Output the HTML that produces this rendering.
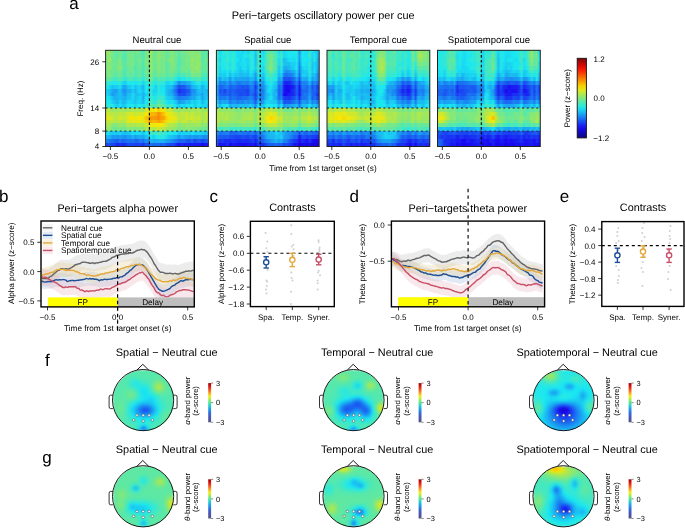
<!DOCTYPE html><html><head><meta charset="utf-8"><style>html,body{margin:0;padding:0;background:#fff;}#w{position:relative;width:685px;height:528px;overflow:hidden;background:#fff;font-family:"Liberation Sans", sans-serif}svg{position:absolute;left:0;top:0;will-change:transform}text{font-family:"Liberation Sans", sans-serif;text-rendering:geometricPrecision}</style></head><body><div id="w"><div style="position:absolute;left:105.6px;top:50.3px;width:102.8px;height:96.2px;overflow:hidden"><div style="position:absolute;left:-2px;top:-2px;width:106.8px;height:100.2px;filter:blur(0.6px)"><div style="position:absolute;left:0;top:0.00px;width:100%;height:6.15px;background:linear-gradient(90deg,#9be861 0px,#9be861 3.3px,#8fe86e 5.9px,#78e887 8.4px,#6ae896 11.0px,#61e89f 13.6px,#70e890 16.1px,#66e89b 18.7px,#4fe8b3 21.3px,#79e885 23.8px,#69e897 26.4px,#78e886 29.0px,#65e89b 31.6px,#7ae884 34.1px,#65e89b 36.7px,#46e8be 39.3px,#7be883 41.8px,#7ce882 44.4px,#a6e856 47.0px,#76e888 49.5px,#65e89b 52.1px,#8fe86e 54.7px,#7ce882 57.3px,#81e87d 59.8px,#5ee8a3 62.4px,#6fe890 65.0px,#8ce871 67.5px,#72e88d 70.1px,#72e88d 72.7px,#52e8b1 75.2px,#79e886 77.8px,#70e890 80.4px,#80e87e 83.0px,#80e87d 85.5px,#8fe86e 88.1px,#82e87c 90.7px,#7fe87f 93.2px,#82e87c 95.8px,#5de8a4 98.4px,#53e8af 100.9px,#65e89c 103.5px,#65e89c 106.8px)"></div><div style="position:absolute;left:0;top:5.85px;width:100%;height:4.15px;background:linear-gradient(90deg,#8ce872 0px,#8ce872 3.3px,#85e878 5.9px,#75e889 8.4px,#63e89e 11.0px,#56e8ac 13.6px,#7de881 16.1px,#59e8a9 18.7px,#4de8b6 21.3px,#71e88e 23.8px,#7ae884 26.4px,#7be884 29.0px,#5ae8a7 31.6px,#71e88e 34.1px,#60e8a1 36.7px,#57e8ab 39.3px,#72e88d 41.8px,#78e886 44.4px,#9be862 47.0px,#6be894 49.5px,#68e898 52.1px,#97e865 54.7px,#77e887 57.3px,#7de881 59.8px,#64e89c 62.4px,#6ae895 65.0px,#84e879 67.5px,#79e885 70.1px,#76e889 72.7px,#4de8b6 75.2px,#75e88a 77.8px,#6ae896 80.4px,#79e886 83.0px,#79e885 85.5px,#8de870 88.1px,#80e87e 90.7px,#8de870 93.2px,#90e86d 95.8px,#50e8b2 98.4px,#6ae896 100.9px,#57e8ab 103.5px,#57e8ab 106.8px)"></div><div style="position:absolute;left:0;top:9.70px;width:100%;height:4.15px;background:linear-gradient(90deg,#88e875 0px,#88e875 3.3px,#9be861 5.9px,#70e88f 8.4px,#66e89a 11.0px,#6ee892 13.6px,#84e87a 16.1px,#61e8a0 18.7px,#4be8b9 21.3px,#79e886 23.8px,#76e889 26.4px,#76e888 29.0px,#5be8a7 31.6px,#71e88e 34.1px,#72e88d 36.7px,#4fe8b4 39.3px,#7de881 41.8px,#71e88e 44.4px,#99e863 47.0px,#6de892 49.5px,#70e88f 52.1px,#8fe86e 54.7px,#71e88e 57.3px,#7ce882 59.8px,#66e89a 62.4px,#7de881 65.0px,#8de870 67.5px,#76e888 70.1px,#6fe891 72.7px,#4be8b9 75.2px,#6ee892 77.8px,#6fe890 80.4px,#7ce882 83.0px,#7ae885 85.5px,#97e866 88.1px,#86e877 90.7px,#94e869 93.2px,#86e877 95.8px,#51e8b1 98.4px,#68e898 100.9px,#75e88a 103.5px,#75e88a 106.8px)"></div><div style="position:absolute;left:0;top:13.54px;width:100%;height:4.15px;background:linear-gradient(90deg,#89e874 0px,#89e874 3.3px,#82e87b 5.9px,#72e88d 8.4px,#74e88a 11.0px,#69e896 13.6px,#8ee86f 16.1px,#5de8a4 18.7px,#58e8aa 21.3px,#75e88a 23.8px,#6fe890 26.4px,#85e879 29.0px,#54e8ae 31.6px,#65e89b 34.1px,#76e888 36.7px,#44e8c0 39.3px,#86e877 41.8px,#71e88e 44.4px,#98e865 47.0px,#6fe891 49.5px,#68e898 52.1px,#87e877 54.7px,#6de892 57.3px,#86e877 59.8px,#52e8b0 62.4px,#6be895 65.0px,#7fe87f 67.5px,#87e877 70.1px,#5fe8a2 72.7px,#51e8b2 75.2px,#6be894 77.8px,#67e899 80.4px,#7fe87f 83.0px,#74e88b 85.5px,#98e864 88.1px,#7fe87f 90.7px,#90e86c 93.2px,#95e868 95.8px,#5fe8a2 98.4px,#60e8a1 100.9px,#68e898 103.5px,#68e898 106.8px)"></div><div style="position:absolute;left:0;top:17.39px;width:100%;height:4.15px;background:linear-gradient(90deg,#7ee880 0px,#7ee880 3.3px,#97e866 5.9px,#70e88f 8.4px,#69e896 11.0px,#75e88a 13.6px,#90e86d 16.1px,#6ee891 18.7px,#4de8b7 21.3px,#6be895 23.8px,#70e890 26.4px,#6ee891 29.0px,#49e8ba 31.6px,#6fe891 34.1px,#64e89c 36.7px,#50e8b2 39.3px,#6de893 41.8px,#5be8a7 44.4px,#a0e85c 47.0px,#6ee891 49.5px,#71e88e 52.1px,#87e876 54.7px,#6fe890 57.3px,#80e87d 59.8px,#5ee8a3 62.4px,#6de892 65.0px,#74e88b 67.5px,#7ae884 70.1px,#64e89c 72.7px,#4de8b6 75.2px,#76e889 77.8px,#6fe890 80.4px,#70e890 83.0px,#7de881 85.5px,#88e876 88.1px,#8be873 90.7px,#97e865 93.2px,#8ee86f 95.8px,#59e8a9 98.4px,#6ee892 100.9px,#64e89c 103.5px,#64e89c 106.8px)"></div><div style="position:absolute;left:0;top:21.24px;width:100%;height:4.15px;background:linear-gradient(90deg,#83e87b 0px,#83e87b 3.3px,#76e889 5.9px,#64e89c 8.4px,#6de892 11.0px,#6fe891 13.6px,#7de882 16.1px,#57e8aa 18.7px,#46e8be 21.3px,#6de893 23.8px,#69e897 26.4px,#76e888 29.0px,#4ae8b9 31.6px,#6ae895 34.1px,#5ee8a3 36.7px,#41e8c3 39.3px,#7be883 41.8px,#6be895 44.4px,#97e866 47.0px,#66e89a 49.5px,#5de8a4 52.1px,#89e874 54.7px,#71e88e 57.3px,#7be883 59.8px,#5be8a6 62.4px,#6de892 65.0px,#76e889 67.5px,#72e88d 70.1px,#64e89c 72.7px,#47e8bd 75.2px,#72e88d 77.8px,#6be894 80.4px,#77e888 83.0px,#58e8aa 85.5px,#91e86c 88.1px,#82e87c 90.7px,#85e878 93.2px,#85e878 95.8px,#5ae8a8 98.4px,#63e89d 100.9px,#5ee8a3 103.5px,#5ee8a3 106.8px)"></div><div style="position:absolute;left:0;top:25.09px;width:100%;height:4.15px;background:linear-gradient(90deg,#7be884 0px,#7be884 3.3px,#7ee880 5.9px,#69e896 8.4px,#5de8a4 11.0px,#5ee8a3 13.6px,#76e889 16.1px,#54e8ae 18.7px,#44e8c0 21.3px,#72e88d 23.8px,#56e8ab 26.4px,#6de893 29.0px,#4ae8ba 31.6px,#60e8a1 34.1px,#66e89a 36.7px,#47e8bd 39.3px,#68e898 41.8px,#61e8a0 44.4px,#88e875 47.0px,#61e89f 49.5px,#63e89d 52.1px,#76e889 54.7px,#66e89a 57.3px,#74e88a 59.8px,#55e8ad 62.4px,#64e89c 65.0px,#6ae895 67.5px,#5be8a6 70.1px,#49e8ba 72.7px,#3ce8c9 75.2px,#52e8b1 77.8px,#4ae8b9 80.4px,#61e89f 83.0px,#50e8b3 85.5px,#81e87d 88.1px,#72e88d 90.7px,#77e888 93.2px,#76e888 95.8px,#52e8b1 98.4px,#4de8b7 100.9px,#4ee8b5 103.5px,#4ee8b5 106.8px)"></div><div style="position:absolute;left:0;top:28.94px;width:100%;height:4.15px;background:linear-gradient(90deg,#63e89e 0px,#63e89e 3.3px,#67e899 5.9px,#4ce8b8 8.4px,#47e8bd 11.0px,#46e8be 13.6px,#5ee8a3 16.1px,#45e8bf 18.7px,#2fe8d9 21.3px,#46e8be 23.8px,#54e8ae 26.4px,#44e8c0 29.0px,#36e8d1 31.6px,#4de8b6 34.1px,#4ee8b5 36.7px,#2be8de 39.3px,#51e8b1 41.8px,#53e8af 44.4px,#7ae884 47.0px,#50e8b3 49.5px,#32e8d6 52.1px,#64e89c 54.7px,#45e8bf 57.3px,#5de8a4 59.8px,#3ee8c8 62.4px,#45e8c0 65.0px,#47e8bd 67.5px,#3fe8c7 70.1px,#27e8e2 72.7px,#1adaf2 75.2px,#25e8e4 77.8px,#1ae7f2 80.4px,#3ce8ca 83.0px,#30e8d7 85.5px,#3de8c9 88.1px,#4ce8b7 90.7px,#4ce8b7 93.2px,#5ae8a7 95.8px,#2de8db 98.4px,#3ae8cb 100.9px,#3ee8c7 103.5px,#3ee8c7 106.8px)"></div><div style="position:absolute;left:0;top:32.78px;width:100%;height:4.15px;background:linear-gradient(90deg,#38e8ce 0px,#38e8ce 3.3px,#31e8d6 5.9px,#22e8e8 8.4px,#1de8ee 11.0px,#2ae8de 13.6px,#31e8d6 16.1px,#1ad9f2 18.7px,#1ac9f2 21.3px,#21e8e9 23.8px,#1ae6f2 26.4px,#27e8e3 29.0px,#1ae4f2 31.6px,#26e8e3 34.1px,#27e8e2 36.7px,#1ad1f2 39.3px,#2ce8dc 41.8px,#2be8dd 44.4px,#57e8ab 47.0px,#28e8e1 49.5px,#26e8e3 52.1px,#42e8c3 54.7px,#2be8de 57.3px,#34e8d3 59.8px,#1ad7f2 62.4px,#1ad8f2 65.0px,#1ce8ef 67.5px,#1acff2 70.1px,#1ab4f2 72.7px,#1a84f2 75.2px,#1aa6f2 77.8px,#1a9af2 80.4px,#1aadf2 83.0px,#1ab0f2 85.5px,#1ad0f2 88.1px,#1adaf2 90.7px,#28e8e1 93.2px,#28e8e1 95.8px,#1ad7f2 98.4px,#1ae0f2 100.9px,#1ee8ec 103.5px,#1ee8ec 106.8px)"></div><div style="position:absolute;left:0;top:36.63px;width:100%;height:4.15px;background:linear-gradient(90deg,#24e8e6 0px,#24e8e6 3.3px,#1ad8f2 5.9px,#1ac3f2 8.4px,#1accf2 11.0px,#1acbf2 13.6px,#1ae3f2 16.1px,#1aadf2 18.7px,#1aa1f2 21.3px,#1ac6f2 23.8px,#1acef2 26.4px,#1adff2 29.0px,#1abff2 31.6px,#1ad7f2 34.1px,#1acef2 36.7px,#1ab3f2 39.3px,#22e8e8 41.8px,#1ae3f2 44.4px,#37e8d0 47.0px,#1de8ee 49.5px,#1acef2 52.1px,#32e8d6 54.7px,#1addf2 57.3px,#1be8f0 59.8px,#1ac4f2 62.4px,#1abdf2 65.0px,#1ac2f2 67.5px,#1a9cf2 70.1px,#1a77f2 72.7px,#1a48f2 75.2px,#1a5af2 77.8px,#1a56f2 80.4px,#1a7af2 83.0px,#1a7ff2 85.5px,#1aaff2 88.1px,#1abbf2 90.7px,#1ac7f2 93.2px,#1adbf2 95.8px,#1aacf2 98.4px,#1ac9f2 100.9px,#1addf2 103.5px,#1addf2 106.8px)"></div><div style="position:absolute;left:0;top:40.48px;width:100%;height:4.15px;background:linear-gradient(90deg,#1ad2f2 0px,#1ad2f2 3.3px,#1ac2f2 5.9px,#1aa9f2 8.4px,#1a9af2 11.0px,#1aadf2 13.6px,#1ac6f2 16.1px,#1a9bf2 18.7px,#1a94f2 21.3px,#1ab1f2 23.8px,#1aaef2 26.4px,#1acdf2 29.0px,#1aaff2 31.6px,#1ad4f2 34.1px,#1ad6f2 36.7px,#1abbf2 39.3px,#1be8f0 41.8px,#1addf2 44.4px,#36e8d0 47.0px,#1ad4f2 49.5px,#1ad2f2 52.1px,#2ce8dc 54.7px,#1ae4f2 57.3px,#1ae6f2 59.8px,#1ac4f2 62.4px,#1ab3f2 65.0px,#1aa7f2 67.5px,#1a84f2 70.1px,#1a61f2 72.7px,#1a2af2 75.2px,#1a41f2 77.8px,#1a41f2 80.4px,#1a53f2 83.0px,#1a5df2 85.5px,#1a95f2 88.1px,#1a8df2 90.7px,#1ab5f2 93.2px,#1ac5f2 95.8px,#1ab3f2 98.4px,#1ac2f2 100.9px,#1ab4f2 103.5px,#1ab4f2 106.8px)"></div><div style="position:absolute;left:0;top:44.33px;width:100%;height:4.15px;background:linear-gradient(90deg,#1ad7f2 0px,#1ad7f2 3.3px,#1ac1f2 5.9px,#1a98f2 8.4px,#1aa7f2 11.0px,#1ab2f2 13.6px,#1ac4f2 16.1px,#1aa9f2 18.7px,#1a9af2 21.3px,#1abef2 23.8px,#1ac1f2 26.4px,#1ad8f2 29.0px,#1ac0f2 31.6px,#1abef2 34.1px,#1acbf2 36.7px,#1ab2f2 39.3px,#1acbf2 41.8px,#1ae1f2 44.4px,#40e8c5 47.0px,#1adbf2 49.5px,#1adff2 52.1px,#32e8d5 54.7px,#25e8e5 57.3px,#28e8e0 59.8px,#1ac6f2 62.4px,#1ab2f2 65.0px,#1ab4f2 67.5px,#1a8ff2 70.1px,#1a76f2 72.7px,#1a44f2 75.2px,#1a4ef2 77.8px,#1a45f2 80.4px,#1a68f2 83.0px,#1a69f2 85.5px,#1a9af2 88.1px,#1a9af2 90.7px,#1aaef2 93.2px,#1abaf2 95.8px,#1aa0f2 98.4px,#1ac4f2 100.9px,#1abaf2 103.5px,#1abaf2 106.8px)"></div><div style="position:absolute;left:0;top:48.18px;width:100%;height:4.15px;background:linear-gradient(90deg,#1ae7f2 0px,#1ae7f2 3.3px,#1ad9f2 5.9px,#1ac0f2 8.4px,#1aaef2 11.0px,#1ab7f2 13.6px,#1abef2 16.1px,#1ab7f2 18.7px,#1aadf2 21.3px,#1ac3f2 23.8px,#1ac5f2 26.4px,#1adaf2 29.0px,#1abff2 31.6px,#1ad0f2 34.1px,#1adaf2 36.7px,#1aaaf2 39.3px,#1fe8ec 41.8px,#1ad9f2 44.4px,#3de8c8 47.0px,#27e8e2 49.5px,#1ce8f0 52.1px,#3fe8c7 54.7px,#39e8cd 57.3px,#36e8d0 59.8px,#1ad3f2 62.4px,#1acaf2 65.0px,#1ac5f2 67.5px,#1aa9f2 70.1px,#1a8bf2 72.7px,#1a77f2 75.2px,#1a81f2 77.8px,#1a84f2 80.4px,#1a87f2 83.0px,#1a95f2 85.5px,#1aaaf2 88.1px,#1aa6f2 90.7px,#1ac2f2 93.2px,#1acef2 95.8px,#1aa3f2 98.4px,#1ac2f2 100.9px,#1ac6f2 103.5px,#1ac6f2 106.8px)"></div><div style="position:absolute;left:0;top:52.02px;width:100%;height:4.15px;background:linear-gradient(90deg,#23e8e6 0px,#23e8e6 3.3px,#1ae8f2 5.9px,#1acff2 8.4px,#1ac3f2 11.0px,#1ab2f2 13.6px,#1ad8f2 16.1px,#1abaf2 18.7px,#1ab9f2 21.3px,#1ad9f2 23.8px,#1ad8f2 26.4px,#1ad2f2 29.0px,#1ac4f2 31.6px,#1ad8f2 34.1px,#1ad4f2 36.7px,#1abaf2 39.3px,#1ae6f2 41.8px,#21e8e9 44.4px,#55e8ad 47.0px,#30e8d7 49.5px,#2ce8dc 52.1px,#62e89e 54.7px,#49e8bb 57.3px,#41e8c3 59.8px,#1ce8f0 62.4px,#1ad8f2 65.0px,#1ae4f2 67.5px,#1ad5f2 70.1px,#1ac2f2 72.7px,#1a93f2 75.2px,#1aa6f2 77.8px,#1aa9f2 80.4px,#1ac6f2 83.0px,#1ab8f2 85.5px,#1adcf2 88.1px,#1ac7f2 90.7px,#1adaf2 93.2px,#1ae3f2 95.8px,#1ab6f2 98.4px,#1ad0f2 100.9px,#1adff2 103.5px,#1adff2 106.8px)"></div><div style="position:absolute;left:0;top:55.87px;width:100%;height:4.15px;background:linear-gradient(90deg,#2ee8d9 0px,#2ee8d9 3.3px,#28e8e1 5.9px,#27e8e2 8.4px,#1ad9f2 11.0px,#1acbf2 13.6px,#1ae5f2 16.1px,#1ac6f2 18.7px,#1acef2 21.3px,#1fe8eb 23.8px,#1ae8f2 26.4px,#24e8e6 29.0px,#1ad4f2 31.6px,#26e8e4 34.1px,#1fe8eb 36.7px,#1adff2 39.3px,#32e8d5 41.8px,#37e8cf 44.4px,#6ee892 47.0px,#49e8bb 49.5px,#4ee8b5 52.1px,#79e885 54.7px,#62e89e 57.3px,#57e8ab 59.8px,#3de8c8 62.4px,#31e8d6 65.0px,#3fe8c6 67.5px,#23e8e7 70.1px,#1adaf2 72.7px,#1ac5f2 75.2px,#1ae4f2 77.8px,#1ad3f2 80.4px,#1ae6f2 83.0px,#1adef2 85.5px,#26e8e4 88.1px,#1ad1f2 90.7px,#1addf2 93.2px,#23e8e6 95.8px,#1acff2 98.4px,#1adaf2 100.9px,#1acff2 103.5px,#1acff2 106.8px)"></div><div style="position:absolute;left:0;top:59.72px;width:100%;height:4.15px;background:linear-gradient(90deg,#b9e842 0px,#b9e842 3.3px,#afe84d 5.9px,#9ae863 8.4px,#a5e857 11.0px,#9fe85e 13.6px,#ace850 16.1px,#a0e85c 18.7px,#9ae862 21.3px,#a3e859 23.8px,#abe851 26.4px,#b4e848 29.0px,#a7e855 31.6px,#b3e848 34.1px,#ace84f 36.7px,#a7e855 39.3px,#cde82f 41.8px,#dbe821 44.4px,#f7e105 47.0px,#ebe811 49.5px,#f6e807 52.1px,#f7cc05 54.7px,#f7e105 57.3px,#f7e305 59.8px,#c6e835 62.4px,#c6e836 65.0px,#c9e832 67.5px,#a3e859 70.1px,#9ce860 72.7px,#85e878 75.2px,#aae852 77.8px,#9be861 80.4px,#9ee85e 83.0px,#9ee85e 85.5px,#a8e854 88.1px,#a3e859 90.7px,#a9e853 93.2px,#ade84e 95.8px,#95e867 98.4px,#a1e85b 100.9px,#a0e85c 103.5px,#a0e85c 106.8px)"></div><div style="position:absolute;left:0;top:63.57px;width:100%;height:4.15px;background:linear-gradient(90deg,#d0e82b 0px,#d0e82b 3.3px,#bbe840 5.9px,#bde83e 8.4px,#b3e848 11.0px,#b3e849 13.6px,#c0e83c 16.1px,#b9e843 18.7px,#bce83f 21.3px,#d1e82a 23.8px,#d4e828 26.4px,#d2e82a 29.0px,#c2e83a 31.6px,#d4e828 34.1px,#d0e82b 36.7px,#d3e829 39.3px,#f7e805 41.8px,#f7e005 44.4px,#f7b705 47.0px,#f7b405 49.5px,#f7af05 52.1px,#f78b05 54.7px,#f7aa05 57.3px,#f7c105 59.8px,#f7e305 62.4px,#e7e814 65.0px,#dfe81d 67.5px,#d0e82c 70.1px,#c2e83a 72.7px,#a9e852 75.2px,#c4e838 77.8px,#bce83f 80.4px,#cee82e 83.0px,#aee84d 85.5px,#c8e833 88.1px,#b3e849 90.7px,#ade84f 93.2px,#bce83f 95.8px,#9ee85e 98.4px,#b2e849 100.9px,#c7e835 103.5px,#c7e835 106.8px)"></div><div style="position:absolute;left:0;top:67.42px;width:100%;height:4.15px;background:linear-gradient(90deg,#dae822 0px,#dae822 3.3px,#e1e81a 5.9px,#cee82e 8.4px,#b1e84a 11.0px,#c1e83b 13.6px,#d2e82a 16.1px,#cee82e 18.7px,#c4e837 21.3px,#d7e825 23.8px,#f7e305 26.4px,#f7e105 29.0px,#e8e813 31.6px,#f0e80c 34.1px,#f7e605 36.7px,#e5e817 39.3px,#f7c505 41.8px,#f7bc05 44.4px,#f79405 47.0px,#f79e05 49.5px,#f79605 52.1px,#f78605 54.7px,#f7a105 57.3px,#f7a305 59.8px,#f7cf05 62.4px,#f7e305 65.0px,#ebe811 67.5px,#e8e814 70.1px,#d7e825 72.7px,#bde83e 75.2px,#b8e843 77.8px,#bee83e 80.4px,#d0e82c 83.0px,#c2e83a 85.5px,#d6e826 88.1px,#bbe841 90.7px,#c8e834 93.2px,#cbe830 95.8px,#9fe85d 98.4px,#b7e844 100.9px,#b7e844 103.5px,#b7e844 106.8px)"></div><div style="position:absolute;left:0;top:71.26px;width:100%;height:4.15px;background:linear-gradient(90deg,#bfe83d 0px,#bfe83d 3.3px,#c0e83c 5.9px,#c5e837 8.4px,#b1e84b 11.0px,#b8e843 13.6px,#bae841 16.1px,#aee84d 18.7px,#bde83f 21.3px,#dee81e 23.8px,#dae822 26.4px,#ede80f 29.0px,#e0e81c 31.6px,#e3e819 34.1px,#e9e813 36.7px,#d9e822 39.3px,#f7d405 41.8px,#f7c305 44.4px,#f7a405 47.0px,#f7b605 49.5px,#f7b305 52.1px,#f7a105 54.7px,#f7ae05 57.3px,#f7c505 59.8px,#f7d805 62.4px,#e2e81a 65.0px,#e2e81a 67.5px,#dae821 70.1px,#cee82e 72.7px,#a9e853 75.2px,#c1e83a 77.8px,#c9e832 80.4px,#c5e836 83.0px,#a5e857 85.5px,#c2e839 88.1px,#c5e836 90.7px,#ade84f 93.2px,#c2e839 95.8px,#97e866 98.4px,#bbe841 100.9px,#a7e855 103.5px,#a7e855 106.8px)"></div><div style="position:absolute;left:0;top:75.11px;width:100%;height:4.15px;background:linear-gradient(90deg,#a7e855 0px,#a7e855 3.3px,#aae852 5.9px,#7fe87e 8.4px,#82e87c 11.0px,#8ee86f 13.6px,#90e86d 16.1px,#93e86a 18.7px,#8be872 21.3px,#b3e849 23.8px,#a7e855 26.4px,#abe851 29.0px,#a8e854 31.6px,#b9e842 34.1px,#b1e84a 36.7px,#aae852 39.3px,#cde82e 41.8px,#cfe82c 44.4px,#f1e80b 47.0px,#f1e80b 49.5px,#ede80f 52.1px,#f5e807 54.7px,#f2e80a 57.3px,#e9e813 59.8px,#c6e835 62.4px,#b5e846 65.0px,#b4e847 67.5px,#ade84f 70.1px,#9ee85e 72.7px,#83e87b 75.2px,#91e86c 77.8px,#95e867 80.4px,#9be862 83.0px,#9ae863 85.5px,#95e868 88.1px,#97e865 90.7px,#a1e85c 93.2px,#a0e85c 95.8px,#86e878 98.4px,#93e869 100.9px,#82e87c 103.5px,#82e87c 106.8px)"></div><div style="position:absolute;left:0;top:78.96px;width:100%;height:4.15px;background:linear-gradient(90deg,#86e878 0px,#86e878 3.3px,#9be862 5.9px,#70e88f 8.4px,#6be894 11.0px,#77e888 13.6px,#7ae885 16.1px,#70e88f 18.7px,#69e897 21.3px,#91e86c 23.8px,#80e87d 26.4px,#89e875 29.0px,#6ee891 31.6px,#8de870 34.1px,#8ae873 36.7px,#82e87b 39.3px,#a9e853 41.8px,#a5e857 44.4px,#bee83e 47.0px,#afe84d 49.5px,#bae842 52.1px,#d5e826 54.7px,#b1e84b 57.3px,#b8e843 59.8px,#9fe85d 62.4px,#a1e85b 65.0px,#94e869 67.5px,#92e86b 70.1px,#89e874 72.7px,#72e88d 75.2px,#81e87d 77.8px,#81e87d 80.4px,#87e876 83.0px,#86e877 85.5px,#7ee880 88.1px,#83e87b 90.7px,#7be883 93.2px,#79e885 95.8px,#6ae895 98.4px,#6de892 100.9px,#73e88b 103.5px,#73e88b 106.8px)"></div><div style="position:absolute;left:0;top:82.81px;width:100%;height:4.15px;background:linear-gradient(90deg,#1ae8f2 0px,#1ae8f2 3.3px,#1ad1f2 5.9px,#1acaf2 8.4px,#1acff2 11.0px,#1ac4f2 13.6px,#1ad9f2 16.1px,#1abdf2 18.7px,#1ac2f2 21.3px,#1ac2f2 23.8px,#1acff2 26.4px,#1ae0f2 29.0px,#1ad4f2 31.6px,#1ae3f2 34.1px,#1ad9f2 36.7px,#1ac8f2 39.3px,#1be8f1 41.8px,#1ae5f2 44.4px,#4be8b9 47.0px,#3ce8c9 49.5px,#32e8d6 52.1px,#57e8ab 54.7px,#35e8d1 57.3px,#45e8bf 59.8px,#27e8e2 62.4px,#1ee8ed 65.0px,#2be8de 67.5px,#1ae3f2 70.1px,#1ae7f2 72.7px,#1ac4f2 75.2px,#1ad9f2 77.8px,#1acef2 80.4px,#1ad9f2 83.0px,#1acdf2 85.5px,#1ae1f2 88.1px,#1ad3f2 90.7px,#1ad1f2 93.2px,#1ad5f2 95.8px,#1ad2f2 98.4px,#1ac6f2 100.9px,#1ac7f2 103.5px,#1ac7f2 106.8px)"></div><div style="position:absolute;left:0;top:86.66px;width:100%;height:4.15px;background:linear-gradient(90deg,#1ab9f2 0px,#1ab9f2 3.3px,#1ab5f2 5.9px,#1a99f2 8.4px,#1a9bf2 11.0px,#1a96f2 13.6px,#1a9ef2 16.1px,#1a9bf2 18.7px,#1a8cf2 21.3px,#1aa5f2 23.8px,#1a9ef2 26.4px,#1ab8f2 29.0px,#1a9af2 31.6px,#1aacf2 34.1px,#1aaef2 36.7px,#1aa6f2 39.3px,#1abff2 41.8px,#1acef2 44.4px,#1ee8ed 47.0px,#1acef2 49.5px,#1be8f1 52.1px,#24e8e5 54.7px,#2ae8de 57.3px,#29e8e0 59.8px,#1addf2 62.4px,#1ac7f2 65.0px,#1ac5f2 67.5px,#1abbf2 70.1px,#1aaff2 72.7px,#1a91f2 75.2px,#1ab5f2 77.8px,#1aa1f2 80.4px,#1aa1f2 83.0px,#1a93f2 85.5px,#1aa1f2 88.1px,#1a95f2 90.7px,#1a97f2 93.2px,#1a9ff2 95.8px,#1a93f2 98.4px,#1a89f2 100.9px,#1a98f2 103.5px,#1a98f2 106.8px)"></div><div style="position:absolute;left:0;top:90.50px;width:100%;height:4.15px;background:linear-gradient(90deg,#1a87f2 0px,#1a87f2 3.3px,#1a76f2 5.9px,#1a70f2 8.4px,#1a65f2 11.0px,#1a5cf2 13.6px,#1a78f2 16.1px,#1a62f2 18.7px,#1a69f2 21.3px,#1a76f2 23.8px,#1a70f2 26.4px,#1a79f2 29.0px,#1a65f2 31.6px,#1a67f2 34.1px,#1a81f2 36.7px,#1a6df2 39.3px,#1a91f2 41.8px,#1a82f2 44.4px,#1ab9f2 47.0px,#1aabf2 49.5px,#1aaaf2 52.1px,#1ab1f2 54.7px,#1ab7f2 57.3px,#1ab5f2 59.8px,#1aa1f2 62.4px,#1a9df2 65.0px,#1a90f2 67.5px,#1a83f2 70.1px,#1a71f2 72.7px,#1a64f2 75.2px,#1a61f2 77.8px,#1a69f2 80.4px,#1a52f2 83.0px,#1a52f2 85.5px,#1a65f2 88.1px,#1a43f2 90.7px,#1a57f2 93.2px,#1a5df2 95.8px,#1a44f2 98.4px,#1a52f2 100.9px,#1a61f2 103.5px,#1a61f2 106.8px)"></div><div style="position:absolute;left:0;top:94.35px;width:100%;height:6.15px;background:linear-gradient(90deg,#1a4bf2 0px,#1a4bf2 3.3px,#1a52f2 5.9px,#1a44f2 8.4px,#1a40f2 11.0px,#1a24f2 13.6px,#1a35f2 16.1px,#1a2af2 18.7px,#1a2ef2 21.3px,#1a47f2 23.8px,#1a48f2 26.4px,#1a44f2 29.0px,#1a42f2 31.6px,#1a41f2 34.1px,#1a47f2 36.7px,#1a2ff2 39.3px,#1a55f2 41.8px,#1a4cf2 44.4px,#1a77f2 47.0px,#1a62f2 49.5px,#1a6bf2 52.1px,#1a6cf2 54.7px,#1a5bf2 57.3px,#1a6ef2 59.8px,#1a55f2 62.4px,#1a4cf2 65.0px,#1a45f2 67.5px,#1a47f2 70.1px,#1a23f2 72.7px,#1a18f2 75.2px,#1a2df2 77.8px,#1a1af2 80.4px,#1a22f2 83.0px,#1a1af2 85.5px,#1a24f2 88.1px,#1a1bf2 90.7px,#1a1cf2 93.2px,#1a1cf2 95.8px,#1908f0 98.4px,#1a18f2 100.9px,#1a19f2 103.5px,#1a19f2 106.8px)"></div></div></div><div style="position:absolute;left:216.4px;top:50.3px;width:102.8px;height:96.2px;overflow:hidden"><div style="position:absolute;left:-2px;top:-2px;width:106.8px;height:100.2px;filter:blur(0.6px)"><div style="position:absolute;left:0;top:0.00px;width:100%;height:6.15px;background:linear-gradient(90deg,#51e8b2 0px,#51e8b2 3.3px,#1ad3f2 5.9px,#1de8ee 8.4px,#34e8d3 11.0px,#3de8c8 13.6px,#1ae7f2 16.1px,#34e8d2 18.7px,#1ae8f2 21.3px,#1ad6f2 23.8px,#1ae0f2 26.4px,#1ad3f2 29.0px,#1be8f0 31.6px,#1acef2 34.1px,#2de8db 36.7px,#1ae7f2 39.3px,#1ac7f2 41.8px,#4be8b8 44.4px,#1ae8f1 47.0px,#1adaf2 49.5px,#3ae8cc 52.1px,#5ae8a7 54.7px,#61e8a0 57.3px,#4be8b9 59.8px,#4ae8ba 62.4px,#1ad7f2 65.0px,#3ae8cc 67.5px,#1ad4f2 70.1px,#1ae1f2 72.7px,#1fe8eb 75.2px,#1ce8ef 77.8px,#22e8e8 80.4px,#25e8e4 83.0px,#1a94f2 85.5px,#1be8f0 88.1px,#1ae3f2 90.7px,#1adbf2 93.2px,#3be8cb 95.8px,#1adbf2 98.4px,#1ad9f2 100.9px,#1abef2 103.5px,#1abef2 106.8px)"></div><div style="position:absolute;left:0;top:5.85px;width:100%;height:4.15px;background:linear-gradient(90deg,#4be8b8 0px,#4be8b8 3.3px,#1adcf2 5.9px,#2ae8de 8.4px,#1ae7f2 11.0px,#3ce8c9 13.6px,#1ae8f2 16.1px,#39e8cd 18.7px,#24e8e6 21.3px,#1adaf2 23.8px,#1ad6f2 26.4px,#1ae4f2 29.0px,#25e8e4 31.6px,#1ae1f2 34.1px,#31e8d6 36.7px,#26e8e3 39.3px,#1abbf2 41.8px,#4be8b8 44.4px,#2ce8dd 47.0px,#1adff2 49.5px,#49e8ba 52.1px,#6de893 54.7px,#78e886 57.3px,#5ae8a8 59.8px,#51e8b1 62.4px,#1ae8f2 65.0px,#42e8c2 67.5px,#1ad5f2 70.1px,#1adff2 72.7px,#1ae7f2 75.2px,#1ae8f2 77.8px,#1ae2f2 80.4px,#21e8ea 83.0px,#1a9ff2 85.5px,#22e8e8 88.1px,#1ae4f2 90.7px,#1ae2f2 93.2px,#3ee8c8 95.8px,#1ad4f2 98.4px,#1fe8eb 100.9px,#1abef2 103.5px,#1abef2 106.8px)"></div><div style="position:absolute;left:0;top:9.70px;width:100%;height:4.15px;background:linear-gradient(90deg,#42e8c3 0px,#42e8c3 3.3px,#1ad3f2 5.9px,#28e8e1 8.4px,#24e8e6 11.0px,#3ee8c7 13.6px,#1ee8ed 16.1px,#3be8ca 18.7px,#1ce8f0 21.3px,#1ae6f2 23.8px,#1ad2f2 26.4px,#1ae6f2 29.0px,#1adbf2 31.6px,#1ad2f2 34.1px,#2ce8dd 36.7px,#22e8e9 39.3px,#1abef2 41.8px,#4fe8b3 44.4px,#22e8e8 47.0px,#1ce8ef 49.5px,#44e8c1 52.1px,#66e89a 54.7px,#7de881 57.3px,#58e8aa 59.8px,#4ae8b9 62.4px,#1adbf2 65.0px,#33e8d3 67.5px,#1abaf2 70.1px,#1acdf2 72.7px,#1adff2 75.2px,#1adff2 77.8px,#1adbf2 80.4px,#22e8e8 83.0px,#1a9bf2 85.5px,#1ae5f2 88.1px,#1de8ee 90.7px,#1ae3f2 93.2px,#24e8e6 95.8px,#1ad0f2 98.4px,#2ae8de 100.9px,#1ab0f2 103.5px,#1ab0f2 106.8px)"></div><div style="position:absolute;left:0;top:13.54px;width:100%;height:4.15px;background:linear-gradient(90deg,#49e8bb 0px,#49e8bb 3.3px,#1ae0f2 5.9px,#21e8ea 8.4px,#27e8e3 11.0px,#2ce8dc 13.6px,#1adff2 16.1px,#36e8d0 18.7px,#1fe8eb 21.3px,#1ad1f2 23.8px,#1adaf2 26.4px,#1adef2 29.0px,#1ae1f2 31.6px,#1ad1f2 34.1px,#2be8dd 36.7px,#24e8e6 39.3px,#1abff2 41.8px,#4de8b6 44.4px,#1fe8ec 47.0px,#1ae7f2 49.5px,#4be8b9 52.1px,#66e89a 54.7px,#82e87c 57.3px,#5ae8a8 59.8px,#53e8af 62.4px,#1ad6f2 65.0px,#3de8c8 67.5px,#1ac2f2 70.1px,#1ac2f2 72.7px,#1abff2 75.2px,#1ad5f2 77.8px,#1acef2 80.4px,#1ae8f2 83.0px,#1a8af2 85.5px,#1ae5f2 88.1px,#1ae2f2 90.7px,#1addf2 93.2px,#37e8d0 95.8px,#1ac8f2 98.4px,#1ad2f2 100.9px,#1ab4f2 103.5px,#1ab4f2 106.8px)"></div><div style="position:absolute;left:0;top:17.39px;width:100%;height:4.15px;background:linear-gradient(90deg,#41e8c4 0px,#41e8c4 3.3px,#1ad1f2 5.9px,#25e8e5 8.4px,#1ae8f1 11.0px,#3be8ca 13.6px,#1ae4f2 16.1px,#36e8d1 18.7px,#22e8e8 21.3px,#1adbf2 23.8px,#1acaf2 26.4px,#1ae1f2 29.0px,#1adff2 31.6px,#1acaf2 34.1px,#2be8de 36.7px,#24e8e5 39.3px,#1acbf2 41.8px,#4ce8b7 44.4px,#1ce8ef 47.0px,#1ad8f2 49.5px,#4ee8b4 52.1px,#74e88a 54.7px,#84e87a 57.3px,#5ce8a5 59.8px,#4ee8b5 62.4px,#1ac6f2 65.0px,#2ce8dc 67.5px,#1aa9f2 70.1px,#1aadf2 72.7px,#1ab9f2 75.2px,#1ac5f2 77.8px,#1ad3f2 80.4px,#1be8f0 83.0px,#1a82f2 85.5px,#1acff2 88.1px,#1addf2 90.7px,#1ad6f2 93.2px,#2ce8dc 95.8px,#1ac1f2 98.4px,#1adef2 100.9px,#1aabf2 103.5px,#1aabf2 106.8px)"></div><div style="position:absolute;left:0;top:21.24px;width:100%;height:4.15px;background:linear-gradient(90deg,#36e8d0 0px,#36e8d0 3.3px,#1ad1f2 5.9px,#1ae4f2 8.4px,#1ad8f2 11.0px,#1de8ee 13.6px,#1ad0f2 16.1px,#2be8dd 18.7px,#1adaf2 21.3px,#1ad5f2 23.8px,#1ac1f2 26.4px,#1accf2 29.0px,#1ad8f2 31.6px,#1ac0f2 34.1px,#1ce8ef 36.7px,#1adaf2 39.3px,#1ab7f2 41.8px,#42e8c3 44.4px,#1ad8f2 47.0px,#1adaf2 49.5px,#34e8d3 52.1px,#4be8b8 54.7px,#80e87e 57.3px,#4de8b6 59.8px,#3ee8c7 62.4px,#1ac2f2 65.0px,#1ae8f2 67.5px,#1aa4f2 70.1px,#1a8bf2 72.7px,#1a97f2 75.2px,#1aa6f2 77.8px,#1ab0f2 80.4px,#1ad8f2 83.0px,#1a7cf2 85.5px,#1ac8f2 88.1px,#1acaf2 90.7px,#1ad0f2 93.2px,#2ee8d9 95.8px,#1ac6f2 98.4px,#1ae0f2 100.9px,#1aa5f2 103.5px,#1aa5f2 106.8px)"></div><div style="position:absolute;left:0;top:25.09px;width:100%;height:4.15px;background:linear-gradient(90deg,#37e8cf 0px,#37e8cf 3.3px,#1ac4f2 5.9px,#1ad5f2 8.4px,#1accf2 11.0px,#1ee8ed 13.6px,#1abaf2 16.1px,#1ad9f2 18.7px,#1ac5f2 21.3px,#1ac8f2 23.8px,#1abbf2 26.4px,#1abef2 29.0px,#1ac5f2 31.6px,#1ab8f2 34.1px,#1adef2 36.7px,#1ac7f2 39.3px,#1a98f2 41.8px,#30e8d8 44.4px,#1ad9f2 47.0px,#1ac7f2 49.5px,#2de8db 52.1px,#47e8bd 54.7px,#4ae8b9 57.3px,#37e8cf 59.8px,#25e8e4 62.4px,#1ab8f2 65.0px,#1ad4f2 67.5px,#1a7cf2 70.1px,#1a73f2 72.7px,#1a7ef2 75.2px,#1a81f2 77.8px,#1a9ff2 80.4px,#1acdf2 83.0px,#1a6bf2 85.5px,#1acdf2 88.1px,#1ad1f2 90.7px,#1ac0f2 93.2px,#25e8e4 95.8px,#1ab6f2 98.4px,#1ac5f2 100.9px,#1a8ef2 103.5px,#1a8ef2 106.8px)"></div><div style="position:absolute;left:0;top:28.94px;width:100%;height:4.15px;background:linear-gradient(90deg,#1adff2 0px,#1adff2 3.3px,#1a98f2 5.9px,#1acbf2 8.4px,#1ab6f2 11.0px,#1ac6f2 13.6px,#1a93f2 16.1px,#1ac5f2 18.7px,#1aa4f2 21.3px,#1aa9f2 23.8px,#1aa7f2 26.4px,#1aa5f2 29.0px,#1aa5f2 31.6px,#1a9df2 34.1px,#1ab7f2 36.7px,#1ab9f2 39.3px,#1a8cf2 41.8px,#1ae5f2 44.4px,#1abff2 47.0px,#1ab2f2 49.5px,#1ae8f2 52.1px,#2ce8dc 54.7px,#3ce8ca 57.3px,#25e8e4 59.8px,#27e8e2 62.4px,#1a99f2 65.0px,#1ab9f2 67.5px,#1a4bf2 70.1px,#1a57f2 72.7px,#1a4cf2 75.2px,#1a5ef2 77.8px,#1a6ff2 80.4px,#1aa6f2 83.0px,#1a55f2 85.5px,#1ab1f2 88.1px,#1aabf2 90.7px,#1aa7f2 93.2px,#1adef2 95.8px,#1aa1f2 98.4px,#1ab5f2 100.9px,#1a8ef2 103.5px,#1a8ef2 106.8px)"></div><div style="position:absolute;left:0;top:32.78px;width:100%;height:4.15px;background:linear-gradient(90deg,#1acaf2 0px,#1acaf2 3.3px,#1a7af2 5.9px,#1a8ef2 8.4px,#1a82f2 11.0px,#1aa4f2 13.6px,#1a75f2 16.1px,#1a97f2 18.7px,#1a90f2 21.3px,#1a76f2 23.8px,#1a7df2 26.4px,#1a88f2 29.0px,#1a84f2 31.6px,#1a82f2 34.1px,#1a9ef2 36.7px,#1a8af2 39.3px,#1a59f2 41.8px,#1aaef2 44.4px,#1a9ff2 47.0px,#1a9af2 49.5px,#1ad8f2 52.1px,#1ae2f2 54.7px,#28e8e1 57.3px,#1ad9f2 59.8px,#1acbf2 62.4px,#1a81f2 65.0px,#1a94f2 67.5px,#1a2df2 70.1px,#1a23f2 72.7px,#1a27f2 75.2px,#1a3bf2 77.8px,#1a59f2 80.4px,#1a81f2 83.0px,#1a34f2 85.5px,#1a88f2 88.1px,#1a80f2 90.7px,#1a86f2 93.2px,#1ab8f2 95.8px,#1a73f2 98.4px,#1a8ff2 100.9px,#1a6af2 103.5px,#1a6af2 106.8px)"></div><div style="position:absolute;left:0;top:36.63px;width:100%;height:4.15px;background:linear-gradient(90deg,#1aa3f2 0px,#1aa3f2 3.3px,#1a5ff2 5.9px,#1a69f2 8.4px,#1a76f2 11.0px,#1a84f2 13.6px,#1a5bf2 16.1px,#1a6af2 18.7px,#1a6cf2 21.3px,#1a59f2 23.8px,#1a59f2 26.4px,#1a51f2 29.0px,#1a5cf2 31.6px,#1a50f2 34.1px,#1a7ff2 36.7px,#1a7cf2 39.3px,#1a2ef2 41.8px,#1a92f2 44.4px,#1a82f2 47.0px,#1a8cf2 49.5px,#1ab5f2 52.1px,#1adaf2 54.7px,#1ae4f2 57.3px,#1ac4f2 59.8px,#1ac1f2 62.4px,#1a61f2 65.0px,#1a83f2 67.5px,#1a18f2 70.1px,#1a08f2 72.7px,#1a0df2 75.2px,#1a17f2 77.8px,#1a2cf2 80.4px,#1a6df2 83.0px,#1a13f2 85.5px,#1a7cf2 88.1px,#1a78f2 90.7px,#1a67f2 93.2px,#1a91f2 95.8px,#1a4ef2 98.4px,#1a72f2 100.9px,#1a3bf2 103.5px,#1a3bf2 106.8px)"></div><div style="position:absolute;left:0;top:40.48px;width:100%;height:4.15px;background:linear-gradient(90deg,#1aacf2 0px,#1aacf2 3.3px,#1a47f2 5.9px,#1a60f2 8.4px,#1a41f2 11.0px,#1a6af2 13.6px,#1a51f2 16.1px,#1a62f2 18.7px,#1a58f2 21.3px,#1a4df2 23.8px,#1a4ef2 26.4px,#1a4ff2 29.0px,#1a4cf2 31.6px,#1a3af2 34.1px,#1a76f2 36.7px,#1a6cf2 39.3px,#1a3ff2 41.8px,#1a94f2 44.4px,#1a78f2 47.0px,#1a7df2 49.5px,#1abaf2 52.1px,#1adff2 54.7px,#1ad4f2 57.3px,#1abdf2 59.8px,#1aabf2 62.4px,#1a5ef2 65.0px,#1a78f2 67.5px,#1a16f2 70.1px,#1908ed 72.7px,#1908ee 75.2px,#1a26f2 77.8px,#1a35f2 80.4px,#1a64f2 83.0px,#1a17f2 85.5px,#1a66f2 88.1px,#1a6cf2 90.7px,#1a68f2 93.2px,#1a90f2 95.8px,#1a5ff2 98.4px,#1a6cf2 100.9px,#1a47f2 103.5px,#1a47f2 106.8px)"></div><div style="position:absolute;left:0;top:44.33px;width:100%;height:4.15px;background:linear-gradient(90deg,#1aa1f2 0px,#1aa1f2 3.3px,#1a5cf2 5.9px,#1a60f2 8.4px,#1a57f2 11.0px,#1a68f2 13.6px,#1a52f2 16.1px,#1a69f2 18.7px,#1a5ff2 21.3px,#1a57f2 23.8px,#1a48f2 26.4px,#1a4ff2 29.0px,#1a4ff2 31.6px,#1a3ff2 34.1px,#1a72f2 36.7px,#1a5df2 39.3px,#1a36f2 41.8px,#1a8cf2 44.4px,#1a72f2 47.0px,#1a88f2 49.5px,#1ab2f2 52.1px,#1ac2f2 54.7px,#1ad7f2 57.3px,#1ab1f2 59.8px,#1abef2 62.4px,#1a5bf2 65.0px,#1a78f2 67.5px,#1908ef 70.1px,#1a0ef2 72.7px,#1a1ff2 75.2px,#1a24f2 77.8px,#1a30f2 80.4px,#1a64f2 83.0px,#1a13f2 85.5px,#1a68f2 88.1px,#1a7cf2 90.7px,#1a73f2 93.2px,#1a9cf2 95.8px,#1a64f2 98.4px,#1a64f2 100.9px,#1a31f2 103.5px,#1a31f2 106.8px)"></div><div style="position:absolute;left:0;top:48.18px;width:100%;height:4.15px;background:linear-gradient(90deg,#1ab7f2 0px,#1ab7f2 3.3px,#1a6ef2 5.9px,#1a7ef2 8.4px,#1a75f2 11.0px,#1a8ef2 13.6px,#1a60f2 16.1px,#1a77f2 18.7px,#1a71f2 21.3px,#1a62f2 23.8px,#1a62f2 26.4px,#1a73f2 29.0px,#1a6bf2 31.6px,#1a73f2 34.1px,#1a8bf2 36.7px,#1a73f2 39.3px,#1a42f2 41.8px,#1a9bf2 44.4px,#1a82f2 47.0px,#1a88f2 49.5px,#1ab7f2 52.1px,#1ad1f2 54.7px,#1ae2f2 57.3px,#1abaf2 59.8px,#1aadf2 62.4px,#1a69f2 65.0px,#1a82f2 67.5px,#1a37f2 70.1px,#1a37f2 72.7px,#1a31f2 75.2px,#1a43f2 77.8px,#1a52f2 80.4px,#1a78f2 83.0px,#1a2af2 85.5px,#1a79f2 88.1px,#1a71f2 90.7px,#1a7af2 93.2px,#1aa9f2 95.8px,#1a5af2 98.4px,#1a79f2 100.9px,#1a46f2 103.5px,#1a46f2 106.8px)"></div><div style="position:absolute;left:0;top:52.02px;width:100%;height:4.15px;background:linear-gradient(90deg,#1ad5f2 0px,#1ad5f2 3.3px,#1a8af2 5.9px,#1aaef2 8.4px,#1aa5f2 11.0px,#1aa9f2 13.6px,#1a79f2 16.1px,#1a8ff2 18.7px,#1a90f2 21.3px,#1a7df2 23.8px,#1a8bf2 26.4px,#1a83f2 29.0px,#1a9bf2 31.6px,#1a8af2 34.1px,#1a9df2 36.7px,#1a8bf2 39.3px,#1a58f2 41.8px,#1abef2 44.4px,#1a88f2 47.0px,#1aa2f2 49.5px,#1ad3f2 52.1px,#1ad3f2 54.7px,#1acff2 57.3px,#1ac9f2 59.8px,#1ac7f2 62.4px,#1a89f2 65.0px,#1ab5f2 67.5px,#1a50f2 70.1px,#1a59f2 72.7px,#1a55f2 75.2px,#1a64f2 77.8px,#1a73f2 80.4px,#1a8ff2 83.0px,#1a52f2 85.5px,#1a9af2 88.1px,#1a9df2 90.7px,#1a84f2 93.2px,#1abbf2 95.8px,#1a83f2 98.4px,#1a9af2 100.9px,#1a70f2 103.5px,#1a70f2 106.8px)"></div><div style="position:absolute;left:0;top:55.87px;width:100%;height:4.15px;background:linear-gradient(90deg,#28e8e1 0px,#28e8e1 3.3px,#1ab4f2 5.9px,#1adaf2 8.4px,#1adef2 11.0px,#1de8ee 13.6px,#1aa8f2 16.1px,#1abbf2 18.7px,#1abbf2 21.3px,#1ab5f2 23.8px,#1ac4f2 26.4px,#1abcf2 29.0px,#1abdf2 31.6px,#1abdf2 34.1px,#1acef2 36.7px,#1ab7f2 39.3px,#1a87f2 41.8px,#1ae6f2 44.4px,#1ac0f2 47.0px,#1ac6f2 49.5px,#1ae6f2 52.1px,#22e8e8 54.7px,#20e8eb 57.3px,#1ae1f2 59.8px,#1ae5f2 62.4px,#1aacf2 65.0px,#1ae8f2 67.5px,#1a8af2 70.1px,#1aa0f2 72.7px,#1aa1f2 75.2px,#1aa6f2 77.8px,#1aaef2 80.4px,#1abef2 83.0px,#1a77f2 85.5px,#1abdf2 88.1px,#1abef2 90.7px,#1ac1f2 93.2px,#1ae5f2 95.8px,#1ab3f2 98.4px,#1ac9f2 100.9px,#1aa2f2 103.5px,#1aa2f2 106.8px)"></div><div style="position:absolute;left:0;top:59.72px;width:100%;height:4.15px;background:linear-gradient(90deg,#afe84d 0px,#afe84d 3.3px,#91e86b 5.9px,#90e86d 8.4px,#90e86d 11.0px,#9fe85d 13.6px,#8ae873 16.1px,#90e86d 18.7px,#84e879 21.3px,#7de881 23.8px,#80e87e 26.4px,#94e869 29.0px,#86e877 31.6px,#85e879 34.1px,#9be862 36.7px,#8ee86f 39.3px,#69e897 41.8px,#b0e84b 44.4px,#94e868 47.0px,#99e863 49.5px,#b4e848 52.1px,#b6e846 54.7px,#c1e83a 57.3px,#ace850 59.8px,#a6e855 62.4px,#83e87a 65.0px,#a0e85c 67.5px,#71e88e 70.1px,#71e88e 72.7px,#6fe890 75.2px,#79e886 77.8px,#85e878 80.4px,#99e863 83.0px,#67e899 85.5px,#93e869 88.1px,#84e87a 90.7px,#87e877 93.2px,#a0e85c 95.8px,#82e87c 98.4px,#97e866 100.9px,#6ce894 103.5px,#6ce894 106.8px)"></div><div style="position:absolute;left:0;top:63.57px;width:100%;height:4.15px;background:linear-gradient(90deg,#bfe83c 0px,#bfe83c 3.3px,#9ee85e 5.9px,#b6e846 8.4px,#9ee85e 11.0px,#ade84f 13.6px,#9be861 16.1px,#a3e85a 18.7px,#90e86c 21.3px,#91e86c 23.8px,#8ee86f 26.4px,#9be862 29.0px,#a2e85a 31.6px,#a0e85c 34.1px,#a9e853 36.7px,#a1e85b 39.3px,#85e878 41.8px,#abe851 44.4px,#abe851 47.0px,#b5e846 49.5px,#cae831 52.1px,#d5e827 54.7px,#e4e818 57.3px,#d3e829 59.8px,#d3e829 62.4px,#97e866 65.0px,#b2e849 67.5px,#98e864 70.1px,#97e866 72.7px,#8de870 75.2px,#93e86a 77.8px,#95e867 80.4px,#9fe85d 83.0px,#7ae884 85.5px,#a7e855 88.1px,#9fe85d 90.7px,#a5e857 93.2px,#bde83e 95.8px,#93e869 98.4px,#a2e85a 100.9px,#82e87c 103.5px,#82e87c 106.8px)"></div><div style="position:absolute;left:0;top:67.42px;width:100%;height:4.15px;background:linear-gradient(90deg,#c3e838 0px,#c3e838 3.3px,#a2e85a 5.9px,#a8e854 8.4px,#aae852 11.0px,#b6e846 13.6px,#9de85f 16.1px,#99e864 18.7px,#9de860 21.3px,#90e86c 23.8px,#90e86d 26.4px,#aae852 29.0px,#aae852 31.6px,#a7e855 34.1px,#b3e849 36.7px,#9ee85e 39.3px,#87e877 41.8px,#b6e845 44.4px,#bce83f 47.0px,#ace84f 49.5px,#e7e814 52.1px,#f7e705 54.7px,#f7d505 57.3px,#f7e305 59.8px,#e3e819 62.4px,#c3e839 65.0px,#cee82d 67.5px,#8ce871 70.1px,#ace850 72.7px,#96e866 75.2px,#9be861 77.8px,#ade84e 80.4px,#afe84d 83.0px,#8ce871 85.5px,#b5e847 88.1px,#aee84d 90.7px,#c0e83b 93.2px,#d5e826 95.8px,#abe851 98.4px,#bee83e 100.9px,#98e864 103.5px,#98e864 106.8px)"></div><div style="position:absolute;left:0;top:71.26px;width:100%;height:4.15px;background:linear-gradient(90deg,#bde83e 0px,#bde83e 3.3px,#96e866 5.9px,#9ae862 8.4px,#9fe85d 11.0px,#a2e85a 13.6px,#93e869 16.1px,#9ce860 18.7px,#93e86a 21.3px,#9ee85f 23.8px,#99e863 26.4px,#a8e854 29.0px,#9ae863 31.6px,#93e86a 34.1px,#9fe85d 36.7px,#9ce860 39.3px,#7ce882 41.8px,#b3e848 44.4px,#b7e844 47.0px,#bde83f 49.5px,#d6e825 52.1px,#f7e806 54.7px,#f7e505 57.3px,#e8e814 59.8px,#dee81d 62.4px,#b2e849 65.0px,#c6e836 67.5px,#9de85f 70.1px,#9ce860 72.7px,#98e865 75.2px,#a3e859 77.8px,#a0e85c 80.4px,#ade84f 83.0px,#7be883 85.5px,#ace84f 88.1px,#a0e85c 90.7px,#b5e846 93.2px,#c7e834 95.8px,#a8e854 98.4px,#a3e859 100.9px,#92e86a 103.5px,#92e86a 106.8px)"></div><div style="position:absolute;left:0;top:75.11px;width:100%;height:4.15px;background:linear-gradient(90deg,#a6e856 0px,#a6e856 3.3px,#79e885 5.9px,#7fe87f 8.4px,#83e87b 11.0px,#7be884 13.6px,#79e885 16.1px,#81e87d 18.7px,#70e88f 21.3px,#7be883 23.8px,#81e87d 26.4px,#81e87d 29.0px,#84e87a 31.6px,#84e87a 34.1px,#89e875 36.7px,#87e876 39.3px,#5fe8a2 41.8px,#8ee86e 44.4px,#86e878 47.0px,#88e875 49.5px,#afe84d 52.1px,#b6e846 54.7px,#c5e837 57.3px,#b6e846 59.8px,#bfe83d 62.4px,#9ce861 65.0px,#9fe85d 67.5px,#7be883 70.1px,#83e87b 72.7px,#80e87e 75.2px,#95e868 77.8px,#8de870 80.4px,#8ce871 83.0px,#59e8a9 85.5px,#85e879 88.1px,#8ae873 90.7px,#93e86a 93.2px,#93e86a 95.8px,#8ae874 98.4px,#7ce882 100.9px,#72e88d 103.5px,#72e88d 106.8px)"></div><div style="position:absolute;left:0;top:78.96px;width:100%;height:4.15px;background:linear-gradient(90deg,#5de8a4 0px,#5de8a4 3.3px,#42e8c2 5.9px,#40e8c5 8.4px,#52e8b0 11.0px,#55e8ad 13.6px,#37e8d0 16.1px,#39e8cd 18.7px,#44e8c0 21.3px,#41e8c4 23.8px,#39e8cc 26.4px,#4ae8b9 29.0px,#48e8bb 31.6px,#3be8ca 34.1px,#4ce8b8 36.7px,#37e8cf 39.3px,#33e8d4 41.8px,#65e89b 44.4px,#51e8b1 47.0px,#4ee8b5 49.5px,#64e89d 52.1px,#74e88b 54.7px,#76e889 57.3px,#76e889 59.8px,#75e889 62.4px,#69e897 65.0px,#84e87a 67.5px,#52e8b0 70.1px,#55e8ad 72.7px,#44e8c1 75.2px,#57e8ab 77.8px,#52e8b0 80.4px,#4fe8b4 83.0px,#32e8d5 85.5px,#48e8bb 88.1px,#44e8c0 90.7px,#4fe8b4 93.2px,#61e8a0 95.8px,#34e8d2 98.4px,#46e8be 100.9px,#2ee8da 103.5px,#2ee8da 106.8px)"></div><div style="position:absolute;left:0;top:82.81px;width:100%;height:4.15px;background:linear-gradient(90deg,#1a90f2 0px,#1a90f2 3.3px,#1a72f2 5.9px,#1a79f2 8.4px,#1a7bf2 11.0px,#1a88f2 13.6px,#1a66f2 16.1px,#1a6af2 18.7px,#1a68f2 21.3px,#1a72f2 23.8px,#1a7bf2 26.4px,#1a71f2 29.0px,#1a78f2 31.6px,#1a68f2 34.1px,#1a7af2 36.7px,#1a7cf2 39.3px,#1a56f2 41.8px,#1a92f2 44.4px,#1a88f2 47.0px,#1a97f2 49.5px,#1aa9f2 52.1px,#1ab5f2 54.7px,#1abef2 57.3px,#1abbf2 59.8px,#1ad5f2 62.4px,#1ac6f2 65.0px,#1ac3f2 67.5px,#1aacf2 70.1px,#1a9cf2 72.7px,#1a94f2 75.2px,#1a8df2 77.8px,#1a7ef2 80.4px,#1a80f2 83.0px,#1a4cf2 85.5px,#1a81f2 88.1px,#1a66f2 90.7px,#1a67f2 93.2px,#1a7cf2 95.8px,#1a67f2 98.4px,#1a66f2 100.9px,#1a5af2 103.5px,#1a5af2 106.8px)"></div><div style="position:absolute;left:0;top:86.66px;width:100%;height:4.15px;background:linear-gradient(90deg,#1a6df2 0px,#1a6df2 3.3px,#1a59f2 5.9px,#1a5cf2 8.4px,#1a54f2 11.0px,#1a5cf2 13.6px,#1a50f2 16.1px,#1a4df2 18.7px,#1a45f2 21.3px,#1a42f2 23.8px,#1a46f2 26.4px,#1a53f2 29.0px,#1a48f2 31.6px,#1a45f2 34.1px,#1a59f2 36.7px,#1a4af2 39.3px,#1a3df2 41.8px,#1a6ef2 44.4px,#1a6ff2 47.0px,#1a7bf2 49.5px,#1aa0f2 52.1px,#1ab7f2 54.7px,#1ab4f2 57.3px,#1ab5f2 59.8px,#1ac8f2 62.4px,#1abef2 65.0px,#1ad4f2 67.5px,#1aa0f2 70.1px,#1a97f2 72.7px,#1a91f2 75.2px,#1a7cf2 77.8px,#1a63f2 80.4px,#1a63f2 83.0px,#1a1cf2 85.5px,#1a50f2 88.1px,#1a51f2 90.7px,#1a3df2 93.2px,#1a4df2 95.8px,#1a3ef2 98.4px,#1a3cf2 100.9px,#1a2df2 103.5px,#1a2df2 106.8px)"></div><div style="position:absolute;left:0;top:90.50px;width:100%;height:4.15px;background:linear-gradient(90deg,#1a53f2 0px,#1a53f2 3.3px,#1a2cf2 5.9px,#1a3ef2 8.4px,#1a28f2 11.0px,#1a2cf2 13.6px,#1a2af2 16.1px,#1a34f2 18.7px,#1a2ef2 21.3px,#1a26f2 23.8px,#1a2bf2 26.4px,#1a32f2 29.0px,#1a29f2 31.6px,#1a2df2 34.1px,#1a36f2 36.7px,#1a43f2 39.3px,#1a1df2 41.8px,#1a55f2 44.4px,#1a54f2 47.0px,#1a60f2 49.5px,#1a7ef2 52.1px,#1a86f2 54.7px,#1a9df2 57.3px,#1aa7f2 59.8px,#1ab4f2 62.4px,#1a9df2 65.0px,#1aaef2 67.5px,#1a84f2 70.1px,#1a84f2 72.7px,#1a5ef2 75.2px,#1a4cf2 77.8px,#1a38f2 80.4px,#1a31f2 83.0px,#1a0ef2 85.5px,#1a30f2 88.1px,#1a1ff2 90.7px,#1a15f2 93.2px,#1a33f2 95.8px,#1a14f2 98.4px,#1a08f2 100.9px,#1908f1 103.5px,#1908f1 106.8px)"></div><div style="position:absolute;left:0;top:94.35px;width:100%;height:6.15px;background:linear-gradient(90deg,#1a47f2 0px,#1a47f2 3.3px,#1a10f2 5.9px,#1a1af2 8.4px,#1a17f2 11.0px,#1a2ff2 13.6px,#1908f2 16.1px,#1a19f2 18.7px,#1a1bf2 21.3px,#1a10f2 23.8px,#1a11f2 26.4px,#1a0df2 29.0px,#1a0ef2 31.6px,#1a19f2 34.1px,#1a17f2 36.7px,#1a1ff2 39.3px,#1908f0 41.8px,#1a3ef2 44.4px,#1a27f2 47.0px,#1a28f2 49.5px,#1a47f2 52.1px,#1a5cf2 54.7px,#1a61f2 57.3px,#1a5ff2 59.8px,#1a6bf2 62.4px,#1a5df2 65.0px,#1a62f2 67.5px,#1a3ef2 70.1px,#1a51f2 72.7px,#1a3df2 75.2px,#1a35f2 77.8px,#1a11f2 80.4px,#1a18f2 83.0px,#1608cd 85.5px,#1908f1 88.1px,#1a0af2 90.7px,#1708df 93.2px,#1a0ff2 95.8px,#1608d6 98.4px,#1808e7 100.9px,#1708d9 103.5px,#1708d9 106.8px)"></div></div></div><div style="position:absolute;left:327.0px;top:50.3px;width:102.8px;height:96.2px;overflow:hidden"><div style="position:absolute;left:-2px;top:-2px;width:106.8px;height:100.2px;filter:blur(0.6px)"><div style="position:absolute;left:0;top:0.00px;width:100%;height:6.15px;background:linear-gradient(90deg,#55e8ac 0px,#55e8ac 3.3px,#65e89b 5.9px,#35e8d2 8.4px,#5de8a4 11.0px,#40e8c5 13.6px,#46e8be 16.1px,#6fe890 18.7px,#57e8ab 21.3px,#3ee8c7 23.8px,#54e8ae 26.4px,#5de8a4 29.0px,#3de8c8 31.6px,#66e89a 34.1px,#28e8e1 36.7px,#43e8c2 39.3px,#3fe8c5 41.8px,#3ce8c9 44.4px,#23e8e7 47.0px,#3de8c8 49.5px,#62e89f 52.1px,#80e87e 54.7px,#81e87d 57.3px,#82e87c 59.8px,#3ee8c7 62.4px,#51e8b2 65.0px,#55e8ad 67.5px,#69e896 70.1px,#2ae8de 72.7px,#4ee8b4 75.2px,#2ae8df 77.8px,#3fe8c6 80.4px,#24e8e5 83.0px,#35e8d2 85.5px,#85e878 88.1px,#46e8be 90.7px,#97e866 93.2px,#98e865 95.8px,#86e878 98.4px,#87e876 100.9px,#6fe890 103.5px,#6fe890 106.8px)"></div><div style="position:absolute;left:0;top:5.85px;width:100%;height:4.15px;background:linear-gradient(90deg,#5be8a6 0px,#5be8a6 3.3px,#57e8aa 5.9px,#1fe8ec 8.4px,#5fe8a2 11.0px,#44e8c0 13.6px,#48e8bc 16.1px,#72e88e 18.7px,#4de8b6 21.3px,#4ce8b7 23.8px,#61e8a0 26.4px,#5fe8a2 29.0px,#47e8bd 31.6px,#65e89c 34.1px,#3ae8cc 36.7px,#3ce8c9 39.3px,#52e8b1 41.8px,#35e8d2 44.4px,#2be8dd 47.0px,#30e8d8 49.5px,#71e88e 52.1px,#8ae873 54.7px,#8fe86e 57.3px,#7fe87f 59.8px,#47e8bd 62.4px,#59e8a8 65.0px,#4ee8b5 67.5px,#50e8b2 70.1px,#3ee8c8 72.7px,#43e8c2 75.2px,#27e8e2 77.8px,#49e8ba 80.4px,#20e8ea 83.0px,#36e8d0 85.5px,#7ae885 88.1px,#40e8c5 90.7px,#a4e858 93.2px,#ace850 95.8px,#90e86d 98.4px,#8ce872 100.9px,#76e888 103.5px,#76e888 106.8px)"></div><div style="position:absolute;left:0;top:9.70px;width:100%;height:4.15px;background:linear-gradient(90deg,#45e8bf 0px,#45e8bf 3.3px,#5de8a4 5.9px,#33e8d4 8.4px,#58e8aa 11.0px,#40e8c5 13.6px,#38e8ce 16.1px,#74e88b 18.7px,#4ce8b7 21.3px,#40e8c5 23.8px,#48e8bc 26.4px,#60e8a0 29.0px,#50e8b3 31.6px,#50e8b3 34.1px,#31e8d6 36.7px,#3de8c8 39.3px,#44e8c0 41.8px,#28e8e1 44.4px,#35e8d2 47.0px,#37e8d0 49.5px,#7be883 52.1px,#9ce860 54.7px,#a3e859 57.3px,#87e876 59.8px,#49e8ba 62.4px,#4fe8b3 65.0px,#54e8ae 67.5px,#5ae8a7 70.1px,#32e8d5 72.7px,#43e8c1 75.2px,#26e8e3 77.8px,#3ee8c7 80.4px,#1ce8ef 83.0px,#32e8d6 85.5px,#7be883 88.1px,#45e8c0 90.7px,#8ee86f 93.2px,#98e864 95.8px,#80e87e 98.4px,#7fe87f 100.9px,#7be883 103.5px,#7be883 106.8px)"></div><div style="position:absolute;left:0;top:13.54px;width:100%;height:4.15px;background:linear-gradient(90deg,#4fe8b4 0px,#4fe8b4 3.3px,#5ce8a5 5.9px,#34e8d2 8.4px,#5fe8a1 11.0px,#3de8c8 13.6px,#41e8c4 16.1px,#74e88b 18.7px,#3ee8c7 21.3px,#48e8bb 23.8px,#5be8a6 26.4px,#62e89e 29.0px,#3de8c8 31.6px,#56e8ac 34.1px,#2de8db 36.7px,#43e8c1 39.3px,#42e8c2 41.8px,#2ee8da 44.4px,#28e8e1 47.0px,#35e8d2 49.5px,#7de881 52.1px,#9be861 54.7px,#b0e84c 57.3px,#9be862 59.8px,#4de8b6 62.4px,#61e89f 65.0px,#4ee8b5 67.5px,#66e89a 70.1px,#28e8e1 72.7px,#2fe8d9 75.2px,#24e8e5 77.8px,#41e8c4 80.4px,#1ae8f2 83.0px,#2fe8d9 85.5px,#5fe8a2 88.1px,#2fe8d9 90.7px,#78e887 93.2px,#7be883 95.8px,#73e88c 98.4px,#73e88c 100.9px,#69e897 103.5px,#69e897 106.8px)"></div><div style="position:absolute;left:0;top:17.39px;width:100%;height:4.15px;background:linear-gradient(90deg,#42e8c2 0px,#42e8c2 3.3px,#5ce8a5 5.9px,#33e8d4 8.4px,#58e8aa 11.0px,#49e8bb 13.6px,#3ae8cc 16.1px,#7be883 18.7px,#42e8c3 21.3px,#4ce8b8 23.8px,#4fe8b4 26.4px,#69e897 29.0px,#46e8bf 31.6px,#54e8ae 34.1px,#36e8d0 36.7px,#39e8cc 39.3px,#35e8d1 41.8px,#1ee8ed 44.4px,#34e8d3 47.0px,#33e8d4 49.5px,#72e88d 52.1px,#a1e85b 54.7px,#bae841 57.3px,#88e875 59.8px,#4fe8b4 62.4px,#4be8b8 65.0px,#4fe8b4 67.5px,#47e8bd 70.1px,#2fe8d8 72.7px,#41e8c4 75.2px,#25e8e5 77.8px,#44e8c1 80.4px,#1adff2 83.0px,#29e8df 85.5px,#61e8a0 88.1px,#1be8f0 90.7px,#5fe8a2 93.2px,#69e897 95.8px,#57e8ab 98.4px,#5fe8a2 100.9px,#63e89d 103.5px,#63e89d 106.8px)"></div><div style="position:absolute;left:0;top:21.24px;width:100%;height:4.15px;background:linear-gradient(90deg,#39e8cc 0px,#39e8cc 3.3px,#5ce8a5 5.9px,#2be8dd 8.4px,#53e8b0 11.0px,#3ce8c9 13.6px,#3ae8cc 16.1px,#68e898 18.7px,#43e8c1 21.3px,#4be8b8 23.8px,#4be8b8 26.4px,#5de8a4 29.0px,#42e8c3 31.6px,#48e8bc 34.1px,#30e8d7 36.7px,#31e8d6 39.3px,#3ee8c7 41.8px,#20e8eb 44.4px,#23e8e7 47.0px,#33e8d4 49.5px,#73e88c 52.1px,#9ae862 54.7px,#a2e85a 57.3px,#86e877 59.8px,#3ce8c9 62.4px,#48e8bb 65.0px,#44e8c0 67.5px,#43e8c2 70.1px,#2ee8da 72.7px,#31e8d6 75.2px,#1ad5f2 77.8px,#30e8d8 80.4px,#1acef2 83.0px,#1ae4f2 85.5px,#54e8ae 88.1px,#1ad4f2 90.7px,#52e8b0 93.2px,#42e8c3 95.8px,#43e8c1 98.4px,#48e8bc 100.9px,#4de8b6 103.5px,#4de8b6 106.8px)"></div><div style="position:absolute;left:0;top:25.09px;width:100%;height:4.15px;background:linear-gradient(90deg,#2fe8d9 0px,#2fe8d9 3.3px,#4fe8b4 5.9px,#2be8de 8.4px,#4fe8b4 11.0px,#26e8e3 13.6px,#38e8ce 16.1px,#66e89b 18.7px,#38e8ce 21.3px,#40e8c4 23.8px,#3fe8c6 26.4px,#4ee8b5 29.0px,#3fe8c7 31.6px,#4de8b6 34.1px,#2de8db 36.7px,#29e8df 39.3px,#24e8e6 41.8px,#22e8e8 44.4px,#1ae6f2 47.0px,#2ae8de 49.5px,#59e8a9 52.1px,#8ae873 54.7px,#8de870 57.3px,#7ae884 59.8px,#35e8d1 62.4px,#39e8cd 65.0px,#33e8d4 67.5px,#3ee8c7 70.1px,#1ae8f1 72.7px,#22e8e8 75.2px,#1ac5f2 77.8px,#27e8e2 80.4px,#1ac5f2 83.0px,#1ae0f2 85.5px,#47e8bd 88.1px,#1ac2f2 90.7px,#32e8d6 93.2px,#3fe8c6 95.8px,#29e8e0 98.4px,#3de8c8 100.9px,#3de8c8 103.5px,#3de8c8 106.8px)"></div><div style="position:absolute;left:0;top:28.94px;width:100%;height:4.15px;background:linear-gradient(90deg,#20e8ea 0px,#20e8ea 3.3px,#2ee8da 5.9px,#1ad8f2 8.4px,#30e8d7 11.0px,#1be8f1 13.6px,#1ad8f2 16.1px,#4ce8b7 18.7px,#25e8e4 21.3px,#1ae2f2 23.8px,#2ae8df 26.4px,#37e8cf 29.0px,#24e8e6 31.6px,#2ce8dc 34.1px,#1ae4f2 36.7px,#1ae8f2 39.3px,#1ae1f2 41.8px,#1ad2f2 44.4px,#1adff2 47.0px,#1adff2 49.5px,#4ce8b7 52.1px,#66e89a 54.7px,#63e89d 57.3px,#57e8aa 59.8px,#1ae2f2 62.4px,#1ae8f2 65.0px,#1adef2 67.5px,#1ae1f2 70.1px,#1ab0f2 72.7px,#1abdf2 75.2px,#1a91f2 77.8px,#1aaef2 80.4px,#1a93f2 83.0px,#1aa8f2 85.5px,#1adef2 88.1px,#1aa5f2 90.7px,#1ce8ef 93.2px,#1ae7f2 95.8px,#1ad1f2 98.4px,#1ae1f2 100.9px,#25e8e4 103.5px,#25e8e4 106.8px)"></div><div style="position:absolute;left:0;top:32.78px;width:100%;height:4.15px;background:linear-gradient(90deg,#1ac8f2 0px,#1ac8f2 3.3px,#1ae2f2 5.9px,#1ab6f2 8.4px,#1fe8ec 11.0px,#1ac9f2 13.6px,#1ad1f2 16.1px,#25e8e4 18.7px,#1ac4f2 21.3px,#1acdf2 23.8px,#1ee8ed 26.4px,#1adef2 29.0px,#1ad9f2 31.6px,#1adaf2 34.1px,#1ab9f2 36.7px,#1acbf2 39.3px,#1acef2 41.8px,#1ab5f2 44.4px,#1ac1f2 47.0px,#1acdf2 49.5px,#30e8d7 52.1px,#36e8d1 54.7px,#41e8c4 57.3px,#35e8d1 59.8px,#1accf2 62.4px,#1ab4f2 65.0px,#1ab7f2 67.5px,#1aa8f2 70.1px,#1a8bf2 72.7px,#1a8ef2 75.2px,#1a57f2 77.8px,#1a71f2 80.4px,#1a58f2 83.0px,#1a6ef2 85.5px,#1aa1f2 88.1px,#1a63f2 90.7px,#1a9ef2 93.2px,#1aaaf2 95.8px,#1aabf2 98.4px,#1ac4f2 100.9px,#1ad7f2 103.5px,#1ad7f2 106.8px)"></div><div style="position:absolute;left:0;top:36.63px;width:100%;height:4.15px;background:linear-gradient(90deg,#1a9af2 0px,#1a9af2 3.3px,#1aa5f2 5.9px,#1a98f2 8.4px,#1acdf2 11.0px,#1abef2 13.6px,#1ac2f2 16.1px,#22e8e8 18.7px,#1ad1f2 21.3px,#1accf2 23.8px,#1ac7f2 26.4px,#1adbf2 29.0px,#1ad1f2 31.6px,#1acdf2 34.1px,#1ab5f2 36.7px,#1abcf2 39.3px,#1abcf2 41.8px,#1abdf2 44.4px,#1abef2 47.0px,#1abef2 49.5px,#24e8e6 52.1px,#1fe8ec 54.7px,#1ae8f1 57.3px,#1ae6f2 59.8px,#1aa2f2 62.4px,#1a9ef2 65.0px,#1a9ef2 67.5px,#1a99f2 70.1px,#1a6ff2 72.7px,#1a6bf2 75.2px,#1a35f2 77.8px,#1a50f2 80.4px,#1a2bf2 83.0px,#1a3ff2 85.5px,#1a8bf2 88.1px,#1a4cf2 90.7px,#1a99f2 93.2px,#1a94f2 95.8px,#1a8df2 98.4px,#1ab2f2 100.9px,#1ab4f2 103.5px,#1ab4f2 106.8px)"></div><div style="position:absolute;left:0;top:40.48px;width:100%;height:4.15px;background:linear-gradient(90deg,#1a91f2 0px,#1a91f2 3.3px,#1a94f2 5.9px,#1a82f2 8.4px,#1ad2f2 11.0px,#1aacf2 13.6px,#1aaaf2 16.1px,#1ae5f2 18.7px,#1acbf2 21.3px,#1ac5f2 23.8px,#1ac9f2 26.4px,#1ad1f2 29.0px,#1abaf2 31.6px,#1ac2f2 34.1px,#1aa7f2 36.7px,#1ab4f2 39.3px,#1aadf2 41.8px,#1aa7f2 44.4px,#1aaff2 47.0px,#1ab4f2 49.5px,#1adcf2 52.1px,#22e8e8 54.7px,#1de8ee 57.3px,#1acef2 59.8px,#1a92f2 62.4px,#1a9ef2 65.0px,#1a8cf2 67.5px,#1a83f2 70.1px,#1a60f2 72.7px,#1a4cf2 75.2px,#1a20f2 77.8px,#1a3cf2 80.4px,#1a13f2 83.0px,#1a2df2 85.5px,#1a73f2 88.1px,#1a3af2 90.7px,#1a85f2 93.2px,#1a83f2 95.8px,#1a79f2 98.4px,#1aa0f2 100.9px,#1aa5f2 103.5px,#1aa5f2 106.8px)"></div><div style="position:absolute;left:0;top:44.33px;width:100%;height:4.15px;background:linear-gradient(90deg,#1a9ef2 0px,#1a9ef2 3.3px,#1ab9f2 5.9px,#1a93f2 8.4px,#1accf2 11.0px,#1ab2f2 13.6px,#1ab9f2 16.1px,#1ce8f0 18.7px,#1abcf2 21.3px,#1abaf2 23.8px,#1ad6f2 26.4px,#1accf2 29.0px,#1abbf2 31.6px,#1ac4f2 34.1px,#1ab6f2 36.7px,#1abef2 39.3px,#1ac0f2 41.8px,#1ab2f2 44.4px,#1ab7f2 47.0px,#1abff2 49.5px,#1ad9f2 52.1px,#1be8f1 54.7px,#1adff2 57.3px,#1ac5f2 59.8px,#1aa0f2 62.4px,#1aa6f2 65.0px,#1a8bf2 67.5px,#1a90f2 70.1px,#1a60f2 72.7px,#1a5cf2 75.2px,#1a36f2 77.8px,#1a46f2 80.4px,#1a27f2 83.0px,#1a3ff2 85.5px,#1a82f2 88.1px,#1a3cf2 90.7px,#1a89f2 93.2px,#1a92f2 95.8px,#1a7cf2 98.4px,#1aaef2 100.9px,#1ab0f2 103.5px,#1ab0f2 106.8px)"></div><div style="position:absolute;left:0;top:48.18px;width:100%;height:4.15px;background:linear-gradient(90deg,#1ab1f2 0px,#1ab1f2 3.3px,#1acff2 5.9px,#1a9af2 8.4px,#1acbf2 11.0px,#1abef2 13.6px,#1abbf2 16.1px,#27e8e3 18.7px,#1ac4f2 21.3px,#1abcf2 23.8px,#1ad0f2 26.4px,#1ee8ed 29.0px,#1ac6f2 31.6px,#1acff2 34.1px,#1aaaf2 36.7px,#1ab8f2 39.3px,#1ac1f2 41.8px,#1ab8f2 44.4px,#1ac2f2 47.0px,#1ac8f2 49.5px,#1ae7f2 52.1px,#1ae2f2 54.7px,#1ad5f2 57.3px,#1ac3f2 59.8px,#1a9cf2 62.4px,#1ab4f2 65.0px,#1aa8f2 67.5px,#1aaef2 70.1px,#1a73f2 72.7px,#1a85f2 75.2px,#1a56f2 77.8px,#1a72f2 80.4px,#1a4ef2 83.0px,#1a4ef2 85.5px,#1a98f2 88.1px,#1a52f2 90.7px,#1ab3f2 93.2px,#1aa2f2 95.8px,#1a9bf2 98.4px,#1abef2 100.9px,#1ab8f2 103.5px,#1ab8f2 106.8px)"></div><div style="position:absolute;left:0;top:52.02px;width:100%;height:4.15px;background:linear-gradient(90deg,#1addf2 0px,#1addf2 3.3px,#1ae6f2 5.9px,#1abcf2 8.4px,#1ae3f2 11.0px,#1ad4f2 13.6px,#1abef2 16.1px,#32e8d5 18.7px,#1ad1f2 21.3px,#1ad3f2 23.8px,#1adbf2 26.4px,#1ee8ec 29.0px,#1ad3f2 31.6px,#1ae4f2 34.1px,#1abff2 36.7px,#1ad0f2 39.3px,#1ad4f2 41.8px,#1abaf2 44.4px,#1ab7f2 47.0px,#1abaf2 49.5px,#1de8ee 52.1px,#1ae5f2 54.7px,#1ae7f2 57.3px,#1adef2 59.8px,#1aabf2 62.4px,#1accf2 65.0px,#1ad2f2 67.5px,#1ac7f2 70.1px,#1a97f2 72.7px,#1a9df2 75.2px,#1a82f2 77.8px,#1a96f2 80.4px,#1a71f2 83.0px,#1a8cf2 85.5px,#1ac2f2 88.1px,#1a7df2 90.7px,#1ac1f2 93.2px,#1abbf2 95.8px,#1ab8f2 98.4px,#1acef2 100.9px,#1ad7f2 103.5px,#1ad7f2 106.8px)"></div><div style="position:absolute;left:0;top:55.87px;width:100%;height:4.15px;background:linear-gradient(90deg,#1ae6f2 0px,#1ae6f2 3.3px,#35e8d1 5.9px,#1ad9f2 8.4px,#31e8d7 11.0px,#1be8f0 13.6px,#1ee8ed 16.1px,#44e8c0 18.7px,#1fe8ec 21.3px,#1ae1f2 23.8px,#29e8df 26.4px,#2de8db 29.0px,#1ae2f2 31.6px,#1ce8ef 34.1px,#1ad2f2 36.7px,#20e8eb 39.3px,#1ae0f2 41.8px,#1acdf2 44.4px,#1ad0f2 47.0px,#1acaf2 49.5px,#22e8e8 52.1px,#1ee8ed 54.7px,#1ae6f2 57.3px,#1fe8ec 59.8px,#1ac7f2 62.4px,#1adbf2 65.0px,#1ad8f2 67.5px,#1ae7f2 70.1px,#1ab6f2 72.7px,#1acbf2 75.2px,#1a9df2 77.8px,#1ac0f2 80.4px,#1aa0f2 83.0px,#1ab0f2 85.5px,#1adcf2 88.1px,#1a9cf2 90.7px,#1ae6f2 93.2px,#1ad4f2 95.8px,#1abef2 98.4px,#1ae3f2 100.9px,#1ae7f2 103.5px,#1ae7f2 106.8px)"></div><div style="position:absolute;left:0;top:59.72px;width:100%;height:4.15px;background:linear-gradient(90deg,#afe84d 0px,#afe84d 3.3px,#bee83d 5.9px,#a9e853 8.4px,#c3e838 11.0px,#bfe83d 13.6px,#b8e844 16.1px,#d0e82b 18.7px,#b1e84b 21.3px,#b6e845 23.8px,#b0e84b 26.4px,#b8e844 29.0px,#91e86c 31.6px,#a7e855 34.1px,#92e86b 36.7px,#97e866 39.3px,#a6e856 41.8px,#9ae863 44.4px,#99e863 47.0px,#99e863 49.5px,#bee83d 52.1px,#b5e847 54.7px,#aee84e 57.3px,#a1e85c 59.8px,#99e863 62.4px,#9ce860 65.0px,#95e868 67.5px,#99e864 70.1px,#7ae885 72.7px,#8ee86f 75.2px,#6fe891 77.8px,#8de870 80.4px,#71e88e 83.0px,#78e886 85.5px,#9ce860 88.1px,#77e888 90.7px,#8fe86e 93.2px,#93e86a 95.8px,#92e86b 98.4px,#95e867 100.9px,#8fe86e 103.5px,#8fe86e 106.8px)"></div><div style="position:absolute;left:0;top:63.57px;width:100%;height:4.15px;background:linear-gradient(90deg,#cae831 0px,#cae831 3.3px,#dbe820 5.9px,#cce82f 8.4px,#efe80e 11.0px,#e2e81a 13.6px,#e0e81c 16.1px,#ebe811 18.7px,#dfe81c 21.3px,#d0e82b 23.8px,#cfe82d 26.4px,#cfe82c 29.0px,#c8e833 31.6px,#b2e84a 34.1px,#9be861 36.7px,#b7e845 39.3px,#b0e84c 41.8px,#bfe83d 44.4px,#b4e847 47.0px,#bfe83d 49.5px,#dde81f 52.1px,#dbe821 54.7px,#cde82f 57.3px,#c6e835 59.8px,#a6e856 62.4px,#a9e853 65.0px,#a7e855 67.5px,#b4e847 70.1px,#9be861 72.7px,#9ae862 75.2px,#89e874 77.8px,#9ee85e 80.4px,#8de870 83.0px,#8ce871 85.5px,#aae852 88.1px,#87e876 90.7px,#bbe840 93.2px,#a4e858 95.8px,#a5e857 98.4px,#99e864 100.9px,#ace850 103.5px,#ace850 106.8px)"></div><div style="position:absolute;left:0;top:67.42px;width:100%;height:4.15px;background:linear-gradient(90deg,#cce830 0px,#cce830 3.3px,#e8e814 5.9px,#dbe820 8.4px,#f7e205 11.0px,#f5e807 13.6px,#f6e806 16.1px,#f7d605 18.7px,#e8e814 21.3px,#f4e808 23.8px,#e0e81c 26.4px,#dce820 29.0px,#d0e82b 31.6px,#c9e832 34.1px,#b3e849 36.7px,#bde83f 39.3px,#d2e82a 41.8px,#bee83d 44.4px,#cbe830 47.0px,#dee81e 49.5px,#e1e81a 52.1px,#e7e815 54.7px,#e8e814 57.3px,#d0e82c 59.8px,#b4e848 62.4px,#b9e843 65.0px,#a5e857 67.5px,#b0e84c 70.1px,#94e869 72.7px,#94e869 75.2px,#87e876 77.8px,#99e863 80.4px,#84e87a 83.0px,#8ae873 85.5px,#b3e848 88.1px,#8fe86e 90.7px,#ade84f 93.2px,#a3e859 95.8px,#94e868 98.4px,#9fe85d 100.9px,#9ee85f 103.5px,#9ee85f 106.8px)"></div><div style="position:absolute;left:0;top:71.26px;width:100%;height:4.15px;background:linear-gradient(90deg,#c2e83a 0px,#c2e83a 3.3px,#dee81d 5.9px,#cce82f 8.4px,#e2e81a 11.0px,#d3e829 13.6px,#d7e825 16.1px,#ede80f 18.7px,#d5e826 21.3px,#d2e82a 23.8px,#c1e83a 26.4px,#d3e828 29.0px,#9ee85e 31.6px,#a4e858 34.1px,#95e868 36.7px,#a5e857 39.3px,#b4e847 41.8px,#cae831 44.4px,#c1e83a 47.0px,#d9e823 49.5px,#e2e81a 52.1px,#e2e819 54.7px,#cbe830 57.3px,#dae822 59.8px,#a7e854 62.4px,#a4e858 65.0px,#b5e847 67.5px,#a5e857 70.1px,#91e86c 72.7px,#90e86d 75.2px,#79e886 77.8px,#85e879 80.4px,#7be883 83.0px,#91e86c 85.5px,#a4e858 88.1px,#7be884 90.7px,#a6e856 93.2px,#91e86b 95.8px,#9be861 98.4px,#9ae863 100.9px,#94e868 103.5px,#94e868 106.8px)"></div><div style="position:absolute;left:0;top:75.11px;width:100%;height:4.15px;background:linear-gradient(90deg,#7fe87e 0px,#7fe87e 3.3px,#8fe86d 5.9px,#75e88a 8.4px,#91e86c 11.0px,#8ae873 13.6px,#8de870 16.1px,#93e86a 18.7px,#70e890 21.3px,#8ce872 23.8px,#7fe87f 26.4px,#7ee880 29.0px,#75e88a 31.6px,#74e88b 34.1px,#6ee891 36.7px,#69e897 39.3px,#76e888 41.8px,#6ee891 44.4px,#8ae873 47.0px,#83e87a 49.5px,#a0e85c 52.1px,#a2e85a 54.7px,#86e877 57.3px,#89e874 59.8px,#77e888 62.4px,#77e887 65.0px,#73e88c 67.5px,#7be883 70.1px,#67e899 72.7px,#5fe8a1 75.2px,#50e8b2 77.8px,#65e89b 80.4px,#50e8b3 83.0px,#57e8ab 85.5px,#69e897 88.1px,#5ae8a8 90.7px,#6ce894 93.2px,#6ae895 95.8px,#61e89f 98.4px,#6ae895 100.9px,#6ce894 103.5px,#6ce894 106.8px)"></div><div style="position:absolute;left:0;top:78.96px;width:100%;height:4.15px;background:linear-gradient(90deg,#4ee8b5 0px,#4ee8b5 3.3px,#64e89c 5.9px,#54e8ae 8.4px,#64e89d 11.0px,#59e8a9 13.6px,#57e8ab 16.1px,#6be895 18.7px,#64e89d 21.3px,#4fe8b4 23.8px,#5de8a4 26.4px,#65e89c 29.0px,#52e8b0 31.6px,#4fe8b3 34.1px,#40e8c5 36.7px,#5be8a6 39.3px,#4de8b6 41.8px,#50e8b3 44.4px,#58e8aa 47.0px,#5ae8a8 49.5px,#61e8a0 52.1px,#64e89c 54.7px,#70e88f 57.3px,#6ee892 59.8px,#5ee8a2 62.4px,#6ae896 65.0px,#68e898 67.5px,#5de8a4 70.1px,#45e8bf 72.7px,#58e8aa 75.2px,#39e8cd 77.8px,#42e8c2 80.4px,#2ae8df 83.0px,#42e8c3 85.5px,#4fe8b3 88.1px,#2fe8d9 90.7px,#59e8a9 93.2px,#52e8b1 95.8px,#4de8b6 98.4px,#48e8bb 100.9px,#3ee8c7 103.5px,#3ee8c7 106.8px)"></div><div style="position:absolute;left:0;top:82.81px;width:100%;height:4.15px;background:linear-gradient(90deg,#1a86f2 0px,#1a86f2 3.3px,#1a98f2 5.9px,#1a7df2 8.4px,#1a9ff2 11.0px,#1a8df2 13.6px,#1a82f2 16.1px,#1aa6f2 18.7px,#1a8df2 21.3px,#1a88f2 23.8px,#1a9df2 26.4px,#1a8cf2 29.0px,#1a93f2 31.6px,#1a9bf2 34.1px,#1a74f2 36.7px,#1a8bf2 39.3px,#1a8ff2 41.8px,#1a84f2 44.4px,#1a8ff2 47.0px,#1a96f2 49.5px,#1ab7f2 52.1px,#1abef2 54.7px,#1ab9f2 57.3px,#1adbf2 59.8px,#1ac8f2 62.4px,#1ac4f2 65.0px,#1acbf2 67.5px,#1acff2 70.1px,#1a97f2 72.7px,#1a9af2 75.2px,#1a7ff2 77.8px,#1a92f2 80.4px,#1a74f2 83.0px,#1a73f2 85.5px,#1aa1f2 88.1px,#1a70f2 90.7px,#1a99f2 93.2px,#1a9ff2 95.8px,#1a82f2 98.4px,#1a8df2 100.9px,#1a97f2 103.5px,#1a97f2 106.8px)"></div><div style="position:absolute;left:0;top:86.66px;width:100%;height:4.15px;background:linear-gradient(90deg,#1a66f2 0px,#1a66f2 3.3px,#1a77f2 5.9px,#1a5bf2 8.4px,#1a86f2 11.0px,#1a67f2 13.6px,#1a65f2 16.1px,#1a7cf2 18.7px,#1a6af2 21.3px,#1a59f2 23.8px,#1a6cf2 26.4px,#1a78f2 29.0px,#1a5df2 31.6px,#1a6ef2 34.1px,#1a5df2 36.7px,#1a64f2 39.3px,#1a7ff2 41.8px,#1a71f2 44.4px,#1a78f2 47.0px,#1a7df2 49.5px,#1aa5f2 52.1px,#1ab4f2 54.7px,#1ac2f2 57.3px,#1ad1f2 59.8px,#1ad3f2 62.4px,#1ad1f2 65.0px,#1acaf2 67.5px,#1abdf2 70.1px,#1aa4f2 72.7px,#1a7ff2 75.2px,#1a5cf2 77.8px,#1a6ff2 80.4px,#1a56f2 83.0px,#1a59f2 85.5px,#1a6ff2 88.1px,#1a52f2 90.7px,#1a7bf2 93.2px,#1a6bf2 95.8px,#1a60f2 98.4px,#1a73f2 100.9px,#1a69f2 103.5px,#1a69f2 106.8px)"></div><div style="position:absolute;left:0;top:90.50px;width:100%;height:4.15px;background:linear-gradient(90deg,#1a3ef2 0px,#1a3ef2 3.3px,#1a50f2 5.9px,#1a24f2 8.4px,#1a59f2 11.0px,#1a3cf2 13.6px,#1a41f2 16.1px,#1a57f2 18.7px,#1a45f2 21.3px,#1a35f2 23.8px,#1a55f2 26.4px,#1a51f2 29.0px,#1a42f2 31.6px,#1a5ff2 34.1px,#1a2ff2 36.7px,#1a48f2 39.3px,#1a46f2 41.8px,#1a3af2 44.4px,#1a5ef2 47.0px,#1a52f2 49.5px,#1a7ff2 52.1px,#1a8ff2 54.7px,#1a9ef2 57.3px,#1aa2f2 59.8px,#1aa5f2 62.4px,#1aa4f2 65.0px,#1a8ff2 67.5px,#1a84f2 70.1px,#1a6cf2 72.7px,#1a56f2 75.2px,#1a43f2 77.8px,#1a4af2 80.4px,#1a2af2 83.0px,#1a25f2 85.5px,#1a44f2 88.1px,#1a2bf2 90.7px,#1a45f2 93.2px,#1a51f2 95.8px,#1a39f2 98.4px,#1a48f2 100.9px,#1a4bf2 103.5px,#1a4bf2 106.8px)"></div><div style="position:absolute;left:0;top:94.35px;width:100%;height:6.15px;background:linear-gradient(90deg,#1a27f2 0px,#1a27f2 3.3px,#1a36f2 5.9px,#1a23f2 8.4px,#1a30f2 11.0px,#1a25f2 13.6px,#1a20f2 16.1px,#1a4af2 18.7px,#1a29f2 21.3px,#1a2bf2 23.8px,#1a18f2 26.4px,#1a2ff2 29.0px,#1a1df2 31.6px,#1a2df2 34.1px,#1a19f2 36.7px,#1a1ef2 39.3px,#1a26f2 41.8px,#1a2af2 44.4px,#1a31f2 47.0px,#1a2ef2 49.5px,#1a54f2 52.1px,#1a54f2 54.7px,#1a64f2 57.3px,#1a63f2 59.8px,#1a62f2 62.4px,#1a75f2 65.0px,#1a5df2 67.5px,#1a63f2 70.1px,#1a32f2 72.7px,#1a33f2 75.2px,#1a32f2 77.8px,#1a28f2 80.4px,#1a16f2 83.0px,#1a0cf2 85.5px,#1a33f2 88.1px,#1908f2 90.7px,#1a38f2 93.2px,#1a25f2 95.8px,#1a35f2 98.4px,#1a23f2 100.9px,#1a2ef2 103.5px,#1a2ef2 106.8px)"></div></div></div><div style="position:absolute;left:437.5px;top:50.3px;width:102.8px;height:96.2px;overflow:hidden"><div style="position:absolute;left:-2px;top:-2px;width:106.8px;height:100.2px;filter:blur(0.6px)"><div style="position:absolute;left:0;top:0.00px;width:100%;height:6.15px;background:linear-gradient(90deg,#1be8f1 0px,#1be8f1 3.3px,#2ce8dc 5.9px,#1be8f0 8.4px,#3ae8cc 11.0px,#59e8a8 13.6px,#4fe8b4 16.1px,#56e8ac 18.7px,#1ae3f2 21.3px,#2ce8dc 23.8px,#1ae3f2 26.4px,#1adcf2 29.0px,#24e8e5 31.6px,#1fe8ec 34.1px,#2ae8df 36.7px,#2fe8d9 39.3px,#4ee8b5 41.8px,#2ee8d9 44.4px,#1ad3f2 47.0px,#2de8db 49.5px,#29e8e0 52.1px,#31e8d7 54.7px,#62e89e 57.3px,#28e8e0 59.8px,#1ad3f2 62.4px,#2ae8de 65.0px,#1ae7f2 67.5px,#1adaf2 70.1px,#1addf2 72.7px,#1ae2f2 75.2px,#1ae5f2 77.8px,#1ae6f2 80.4px,#28e8e1 83.0px,#4ae8b9 85.5px,#1fe8eb 88.1px,#37e8d0 90.7px,#5ee8a3 93.2px,#a2e85a 95.8px,#58e8aa 98.4px,#6ce894 100.9px,#1ad3f2 103.5px,#1ad3f2 106.8px)"></div><div style="position:absolute;left:0;top:5.85px;width:100%;height:4.15px;background:linear-gradient(90deg,#25e8e4 0px,#25e8e4 3.3px,#2ce8dc 5.9px,#2de8db 8.4px,#40e8c5 11.0px,#4fe8b4 13.6px,#59e8a8 16.1px,#4fe8b4 18.7px,#1adcf2 21.3px,#21e8e9 23.8px,#1ae3f2 26.4px,#1ad8f2 29.0px,#1ce8ef 31.6px,#1ae5f2 34.1px,#32e8d5 36.7px,#28e8e1 39.3px,#4de8b6 41.8px,#35e8d2 44.4px,#1ad1f2 47.0px,#35e8d2 49.5px,#2fe8d9 52.1px,#43e8c2 54.7px,#67e899 57.3px,#38e8ce 59.8px,#1acaf2 62.4px,#27e8e2 65.0px,#1be8f0 67.5px,#1ad8f2 70.1px,#1adaf2 72.7px,#1adef2 75.2px,#1be8f1 77.8px,#1de8ee 80.4px,#22e8e8 83.0px,#46e8be 85.5px,#2fe8d8 88.1px,#34e8d2 90.7px,#67e899 93.2px,#9ee85e 95.8px,#63e89d 98.4px,#7ae884 100.9px,#1ae6f2 103.5px,#1ae6f2 106.8px)"></div><div style="position:absolute;left:0;top:9.70px;width:100%;height:4.15px;background:linear-gradient(90deg,#1fe8ec 0px,#1fe8ec 3.3px,#31e8d6 5.9px,#28e8e0 8.4px,#46e8be 11.0px,#61e8a0 13.6px,#63e89e 16.1px,#5ee8a3 18.7px,#1addf2 21.3px,#26e8e3 23.8px,#1adef2 26.4px,#1adbf2 29.0px,#1ee8ed 31.6px,#23e8e7 34.1px,#33e8d5 36.7px,#28e8e1 39.3px,#4ce8b7 41.8px,#38e8cf 44.4px,#1accf2 47.0px,#3ee8c7 49.5px,#3de8c9 52.1px,#57e8ab 54.7px,#67e899 57.3px,#38e8ce 59.8px,#1ac0f2 62.4px,#22e8e8 65.0px,#1ae6f2 67.5px,#1ad5f2 70.1px,#1ae6f2 72.7px,#1ce8ef 75.2px,#1ae1f2 77.8px,#1adcf2 80.4px,#26e8e3 83.0px,#47e8bd 85.5px,#1adaf2 88.1px,#30e8d8 90.7px,#57e8ab 93.2px,#94e868 95.8px,#60e8a1 98.4px,#6ee891 100.9px,#25e8e4 103.5px,#25e8e4 106.8px)"></div><div style="position:absolute;left:0;top:13.54px;width:100%;height:4.15px;background:linear-gradient(90deg,#1fe8eb 0px,#1fe8eb 3.3px,#28e8e1 5.9px,#31e8d7 8.4px,#40e8c5 11.0px,#5ee8a3 13.6px,#50e8b3 16.1px,#5be8a6 18.7px,#1ae0f2 21.3px,#29e8e0 23.8px,#1ad8f2 26.4px,#1addf2 29.0px,#1ae7f2 31.6px,#1ae8f2 34.1px,#1de8ee 36.7px,#25e8e5 39.3px,#39e8cd 41.8px,#2fe8d9 44.4px,#1ad1f2 47.0px,#3be8cb 49.5px,#42e8c2 52.1px,#58e8aa 54.7px,#70e88f 57.3px,#3be8ca 59.8px,#1abff2 62.4px,#29e8df 65.0px,#1adcf2 67.5px,#1ad2f2 70.1px,#1ad1f2 72.7px,#1ad7f2 75.2px,#1ae2f2 77.8px,#1ae8f1 80.4px,#1ae2f2 83.0px,#39e8cd 85.5px,#1ae2f2 88.1px,#29e8e0 90.7px,#55e8ad 93.2px,#86e877 95.8px,#58e8a9 98.4px,#6ee891 100.9px,#1ad8f2 103.5px,#1ad8f2 106.8px)"></div><div style="position:absolute;left:0;top:17.39px;width:100%;height:4.15px;background:linear-gradient(90deg,#1fe8ec 0px,#1fe8ec 3.3px,#2be8dd 5.9px,#1ee8ed 8.4px,#35e8d1 11.0px,#65e89b 13.6px,#4ce8b7 16.1px,#54e8ae 18.7px,#1adcf2 21.3px,#1ae5f2 23.8px,#1ad7f2 26.4px,#1ad8f2 29.0px,#1adef2 31.6px,#1fe8ec 34.1px,#29e8df 36.7px,#26e8e3 39.3px,#47e8bd 41.8px,#35e8d1 44.4px,#1ad9f2 47.0px,#42e8c3 49.5px,#40e8c5 52.1px,#4ae8b9 54.7px,#78e887 57.3px,#36e8d1 59.8px,#1ac5f2 62.4px,#24e8e6 65.0px,#1adcf2 67.5px,#1ac6f2 70.1px,#1addf2 72.7px,#1acbf2 75.2px,#1be8f0 77.8px,#1ae2f2 80.4px,#24e8e6 83.0px,#3fe8c7 85.5px,#1adff2 88.1px,#1ae7f2 90.7px,#45e8bf 93.2px,#68e898 95.8px,#46e8be 98.4px,#5ce8a6 100.9px,#1ad9f2 103.5px,#1ad9f2 106.8px)"></div><div style="position:absolute;left:0;top:21.24px;width:100%;height:4.15px;background:linear-gradient(90deg,#1addf2 0px,#1addf2 3.3px,#25e8e5 5.9px,#1ad4f2 8.4px,#30e8d7 11.0px,#43e8c1 13.6px,#3ae8cc 16.1px,#44e8c0 18.7px,#1ae1f2 21.3px,#1ad9f2 23.8px,#1ad9f2 26.4px,#1ad7f2 29.0px,#1adaf2 31.6px,#1adff2 34.1px,#1adef2 36.7px,#1ae3f2 39.3px,#4de8b6 41.8px,#1ae8f2 44.4px,#1ad0f2 47.0px,#33e8d4 49.5px,#4ce8b8 52.1px,#4fe8b4 54.7px,#5be8a6 57.3px,#26e8e3 59.8px,#1abdf2 62.4px,#1ae4f2 65.0px,#1acbf2 67.5px,#1abbf2 70.1px,#1abef2 72.7px,#1acbf2 75.2px,#1ad7f2 77.8px,#1acef2 80.4px,#1ad3f2 83.0px,#35e8d2 85.5px,#1ac7f2 88.1px,#1ad3f2 90.7px,#28e8e0 93.2px,#54e8ae 95.8px,#2be8dd 98.4px,#3ae8cc 100.9px,#1ad5f2 103.5px,#1ad5f2 106.8px)"></div><div style="position:absolute;left:0;top:25.09px;width:100%;height:4.15px;background:linear-gradient(90deg,#1adbf2 0px,#1adbf2 3.3px,#1de8ee 5.9px,#1ad0f2 8.4px,#25e8e4 11.0px,#34e8d2 13.6px,#26e8e3 16.1px,#3fe8c6 18.7px,#1abff2 21.3px,#1ad9f2 23.8px,#1ab7f2 26.4px,#1ac7f2 29.0px,#1ad0f2 31.6px,#1ad2f2 34.1px,#1ad8f2 36.7px,#1acef2 39.3px,#2de8da 41.8px,#22e8e8 44.4px,#1ab6f2 47.0px,#3ee8c7 49.5px,#40e8c5 52.1px,#3be8ca 54.7px,#4be8b9 57.3px,#1adff2 59.8px,#1aa3f2 62.4px,#1acef2 65.0px,#1ad2f2 67.5px,#1aa3f2 70.1px,#1ab5f2 72.7px,#1abef2 75.2px,#1abbf2 77.8px,#1ab7f2 80.4px,#1acaf2 83.0px,#1be8f0 85.5px,#1ac2f2 88.1px,#1ad3f2 90.7px,#1adff2 93.2px,#32e8d5 95.8px,#1ae4f2 98.4px,#35e8d2 100.9px,#1ab6f2 103.5px,#1ab6f2 106.8px)"></div><div style="position:absolute;left:0;top:28.94px;width:100%;height:4.15px;background:linear-gradient(90deg,#1abbf2 0px,#1abbf2 3.3px,#1ac8f2 5.9px,#1abaf2 8.4px,#1ad7f2 11.0px,#1adcf2 13.6px,#1ac6f2 16.1px,#1ad2f2 18.7px,#1aadf2 21.3px,#1ab2f2 23.8px,#1aa4f2 26.4px,#1abbf2 29.0px,#1abff2 31.6px,#1acff2 34.1px,#1abff2 36.7px,#1ab9f2 39.3px,#1ae4f2 41.8px,#1adcf2 44.4px,#1abbf2 47.0px,#2de8db 49.5px,#38e8ce 52.1px,#31e8d7 54.7px,#2fe8d9 57.3px,#1acaf2 59.8px,#1a8ef2 62.4px,#1aacf2 65.0px,#1aaff2 67.5px,#1a8df2 70.1px,#1a94f2 72.7px,#1a89f2 75.2px,#1a91f2 77.8px,#1a97f2 80.4px,#1a9cf2 83.0px,#1ac4f2 85.5px,#1a91f2 88.1px,#1a9cf2 90.7px,#1ab4f2 93.2px,#1ad9f2 95.8px,#1ab7f2 98.4px,#24e8e6 100.9px,#1aa5f2 103.5px,#1aa5f2 106.8px)"></div><div style="position:absolute;left:0;top:32.78px;width:100%;height:4.15px;background:linear-gradient(90deg,#1a88f2 0px,#1a88f2 3.3px,#1aa5f2 5.9px,#1a7ff2 8.4px,#1a8df2 11.0px,#1a9bf2 13.6px,#1a83f2 16.1px,#1aa9f2 18.7px,#1a5af2 21.3px,#1a71f2 23.8px,#1a6ef2 26.4px,#1a75f2 29.0px,#1a7cf2 31.6px,#1a88f2 34.1px,#1a8bf2 36.7px,#1a8bf2 39.3px,#1aa8f2 41.8px,#1aaaf2 44.4px,#1a93f2 47.0px,#1adef2 49.5px,#1ad1f2 52.1px,#1ac1f2 54.7px,#1adaf2 57.3px,#1a93f2 59.8px,#1a4bf2 62.4px,#1a71f2 65.0px,#1a67f2 67.5px,#1a57f2 70.1px,#1a4cf2 72.7px,#1a60f2 75.2px,#1a5bf2 77.8px,#1a53f2 80.4px,#1a61f2 83.0px,#1a91f2 85.5px,#1a49f2 88.1px,#1a5df2 90.7px,#1a7bf2 93.2px,#1a8df2 95.8px,#1a76f2 98.4px,#1aaaf2 100.9px,#1a74f2 103.5px,#1a74f2 106.8px)"></div><div style="position:absolute;left:0;top:36.63px;width:100%;height:4.15px;background:linear-gradient(90deg,#1a76f2 0px,#1a76f2 3.3px,#1a73f2 5.9px,#1a6ff2 8.4px,#1a6bf2 11.0px,#1a73f2 13.6px,#1a71f2 16.1px,#1a78f2 18.7px,#1a2df2 21.3px,#1a5af2 23.8px,#1a54f2 26.4px,#1a59f2 29.0px,#1a60f2 31.6px,#1a60f2 34.1px,#1a58f2 36.7px,#1a5cf2 39.3px,#1a85f2 41.8px,#1a7ff2 44.4px,#1a76f2 47.0px,#1ad1f2 49.5px,#1abaf2 52.1px,#1aa9f2 54.7px,#1abef2 57.3px,#1a63f2 59.8px,#1a23f2 62.4px,#1a55f2 65.0px,#1a29f2 67.5px,#1a28f2 70.1px,#1a12f2 72.7px,#1a18f2 75.2px,#1a21f2 77.8px,#1a1bf2 80.4px,#1a2af2 83.0px,#1a63f2 85.5px,#1a27f2 88.1px,#1a3af2 90.7px,#1a4bf2 93.2px,#1a62f2 95.8px,#1a49f2 98.4px,#1a78f2 100.9px,#1a3ff2 103.5px,#1a3ff2 106.8px)"></div><div style="position:absolute;left:0;top:40.48px;width:100%;height:4.15px;background:linear-gradient(90deg,#1a63f2 0px,#1a63f2 3.3px,#1a6ff2 5.9px,#1a5bf2 8.4px,#1a59f2 11.0px,#1a71f2 13.6px,#1a57f2 16.1px,#1a74f2 18.7px,#1a27f2 21.3px,#1a47f2 23.8px,#1a44f2 26.4px,#1a51f2 29.0px,#1a53f2 31.6px,#1a60f2 34.1px,#1a5bf2 36.7px,#1a53f2 39.3px,#1a7bf2 41.8px,#1a7af2 44.4px,#1a7cf2 47.0px,#1ac7f2 49.5px,#1ad4f2 52.1px,#1aaef2 54.7px,#1a9bf2 57.3px,#1a5cf2 59.8px,#1a25f2 62.4px,#1a41f2 65.0px,#1a2af2 67.5px,#1908e9 70.1px,#1a1af2 72.7px,#1a13f2 75.2px,#1a0ff2 77.8px,#1a12f2 80.4px,#1a2ef2 83.0px,#1a53f2 85.5px,#1a10f2 88.1px,#1a1ff2 90.7px,#1a3bf2 93.2px,#1a6ff2 95.8px,#1a3ff2 98.4px,#1a78f2 100.9px,#1a37f2 103.5px,#1a37f2 106.8px)"></div><div style="position:absolute;left:0;top:44.33px;width:100%;height:4.15px;background:linear-gradient(90deg,#1a66f2 0px,#1a66f2 3.3px,#1a68f2 5.9px,#1a51f2 8.4px,#1a62f2 11.0px,#1a71f2 13.6px,#1a69f2 16.1px,#1a6cf2 18.7px,#1a3af2 21.3px,#1a54f2 23.8px,#1a4bf2 26.4px,#1a4cf2 29.0px,#1a6ff2 31.6px,#1a6ef2 34.1px,#1a6bf2 36.7px,#1a6df2 39.3px,#1a92f2 41.8px,#1a8af2 44.4px,#1a89f2 47.0px,#1adff2 49.5px,#1ae2f2 52.1px,#1aadf2 54.7px,#1aa0f2 57.3px,#1a60f2 59.8px,#1a24f2 62.4px,#1a45f2 65.0px,#1a3af2 67.5px,#1a1df2 70.1px,#1a18f2 72.7px,#1a1bf2 75.2px,#1a35f2 77.8px,#1a2df2 80.4px,#1a39f2 83.0px,#1a55f2 85.5px,#1a2df2 88.1px,#1a22f2 90.7px,#1a31f2 93.2px,#1a71f2 95.8px,#1a48f2 98.4px,#1a7cf2 100.9px,#1a48f2 103.5px,#1a48f2 106.8px)"></div><div style="position:absolute;left:0;top:48.18px;width:100%;height:4.15px;background:linear-gradient(90deg,#1a86f2 0px,#1a86f2 3.3px,#1a85f2 5.9px,#1a70f2 8.4px,#1a84f2 11.0px,#1a90f2 13.6px,#1a78f2 16.1px,#1a7ef2 18.7px,#1a60f2 21.3px,#1a63f2 23.8px,#1a5bf2 26.4px,#1a68f2 29.0px,#1a72f2 31.6px,#1a7ef2 34.1px,#1a8bf2 36.7px,#1a80f2 39.3px,#1a9ff2 41.8px,#1aa4f2 44.4px,#1a99f2 47.0px,#23e8e7 49.5px,#1ad7f2 52.1px,#1abcf2 54.7px,#1ab3f2 57.3px,#1a7df2 59.8px,#1a3ff2 62.4px,#1a69f2 65.0px,#1a56f2 67.5px,#1a2df2 70.1px,#1a34f2 72.7px,#1a32f2 75.2px,#1a50f2 77.8px,#1a45f2 80.4px,#1a40f2 83.0px,#1a7bf2 85.5px,#1a41f2 88.1px,#1a47f2 90.7px,#1a5df2 93.2px,#1a77f2 95.8px,#1a56f2 98.4px,#1a88f2 100.9px,#1a4df2 103.5px,#1a4df2 106.8px)"></div><div style="position:absolute;left:0;top:52.02px;width:100%;height:4.15px;background:linear-gradient(90deg,#1a99f2 0px,#1a99f2 3.3px,#1ab4f2 5.9px,#1a9af2 8.4px,#1aa5f2 11.0px,#1aa4f2 13.6px,#1ab2f2 16.1px,#1ab6f2 18.7px,#1a7ff2 21.3px,#1a9bf2 23.8px,#1a96f2 26.4px,#1a88f2 29.0px,#1a87f2 31.6px,#1a9ef2 34.1px,#1aa2f2 36.7px,#1a9ef2 39.3px,#1adcf2 41.8px,#1ac6f2 44.4px,#1abaf2 47.0px,#29e8df 49.5px,#28e8e1 52.1px,#1ad8f2 54.7px,#1ae8f2 57.3px,#1aa2f2 59.8px,#1a6af2 62.4px,#1a95f2 65.0px,#1a74f2 67.5px,#1a65f2 70.1px,#1a6df2 72.7px,#1a6df2 75.2px,#1a85f2 77.8px,#1a7af2 80.4px,#1a7bf2 83.0px,#1ab3f2 85.5px,#1a70f2 88.1px,#1a7af2 90.7px,#1a8ff2 93.2px,#1aa0f2 95.8px,#1a7df2 98.4px,#1ab6f2 100.9px,#1a79f2 103.5px,#1a79f2 106.8px)"></div><div style="position:absolute;left:0;top:55.87px;width:100%;height:4.15px;background:linear-gradient(90deg,#1acdf2 0px,#1acdf2 3.3px,#1ae8f1 5.9px,#1acdf2 8.4px,#1adbf2 11.0px,#1ae4f2 13.6px,#1ad8f2 16.1px,#1ae3f2 18.7px,#1ab4f2 21.3px,#1ac5f2 23.8px,#1ab5f2 26.4px,#1ab2f2 29.0px,#1acff2 31.6px,#1abcf2 34.1px,#1acdf2 36.7px,#1adaf2 39.3px,#2ee8da 41.8px,#20e8ea 44.4px,#1ae1f2 47.0px,#40e8c5 49.5px,#3ae8cc 52.1px,#32e8d5 54.7px,#38e8ce 57.3px,#1ad0f2 59.8px,#1a9ef2 62.4px,#1ad0f2 65.0px,#1ab0f2 67.5px,#1aa5f2 70.1px,#1aa4f2 72.7px,#1aa8f2 75.2px,#1aadf2 77.8px,#1abbf2 80.4px,#1abef2 83.0px,#1ae5f2 85.5px,#1aa8f2 88.1px,#1ab8f2 90.7px,#1ab6f2 93.2px,#1ad5f2 95.8px,#1ab1f2 98.4px,#1ae8f2 100.9px,#1aaef2 103.5px,#1aaef2 106.8px)"></div><div style="position:absolute;left:0;top:59.72px;width:100%;height:4.15px;background:linear-gradient(90deg,#80e87e 0px,#80e87e 3.3px,#99e863 5.9px,#86e878 8.4px,#86e878 11.0px,#76e889 13.6px,#76e888 16.1px,#84e879 18.7px,#56e8ac 21.3px,#63e89e 23.8px,#64e89c 26.4px,#65e89b 29.0px,#63e89d 31.6px,#70e890 34.1px,#5ee8a3 36.7px,#72e88d 39.3px,#86e877 41.8px,#87e876 44.4px,#7ee880 47.0px,#aae851 49.5px,#a6e856 52.1px,#b1e84a 54.7px,#99e864 57.3px,#82e87b 59.8px,#57e8ab 62.4px,#77e887 65.0px,#55e8ad 67.5px,#53e8b0 70.1px,#53e8af 72.7px,#5ce8a5 75.2px,#5ce8a5 77.8px,#50e8b2 80.4px,#5de8a4 83.0px,#7ae884 85.5px,#5be8a6 88.1px,#52e8b0 90.7px,#56e8ab 93.2px,#68e897 95.8px,#62e89f 98.4px,#7ae884 100.9px,#5ae8a8 103.5px,#5ae8a8 106.8px)"></div><div style="position:absolute;left:0;top:63.57px;width:100%;height:4.15px;background:linear-gradient(90deg,#c4e838 0px,#c4e838 3.3px,#d5e826 5.9px,#c0e83b 8.4px,#a9e853 11.0px,#8de870 13.6px,#84e87a 16.1px,#84e87a 18.7px,#73e88c 21.3px,#7ce883 23.8px,#73e88c 26.4px,#7be883 29.0px,#79e885 31.6px,#7de881 34.1px,#83e87b 36.7px,#73e88c 39.3px,#8fe86e 41.8px,#89e874 44.4px,#8ae873 47.0px,#b5e847 49.5px,#bee83d 52.1px,#d1e82b 54.7px,#dfe81c 57.3px,#ace84f 59.8px,#7ae885 62.4px,#77e888 65.0px,#73e88c 67.5px,#5be8a6 70.1px,#64e89d 72.7px,#65e89b 75.2px,#6de892 77.8px,#76e889 80.4px,#6ee892 83.0px,#82e87c 85.5px,#56e8ab 88.1px,#63e89d 90.7px,#75e88a 93.2px,#87e877 95.8px,#84e87a 98.4px,#97e866 100.9px,#7be884 103.5px,#7be884 106.8px)"></div><div style="position:absolute;left:0;top:67.42px;width:100%;height:4.15px;background:linear-gradient(90deg,#e4e818 0px,#e4e818 3.3px,#f7e705 5.9px,#cbe831 8.4px,#b7e844 11.0px,#95e868 13.6px,#7de881 16.1px,#93e86a 18.7px,#64e89c 21.3px,#71e88e 23.8px,#7be883 26.4px,#70e88f 29.0px,#78e887 31.6px,#7be883 34.1px,#7ce882 36.7px,#8ce871 39.3px,#94e869 41.8px,#97e865 44.4px,#85e879 47.0px,#b7e844 49.5px,#dde81e 52.1px,#f7e105 54.7px,#f7bf05 57.3px,#cfe82c 59.8px,#96e867 62.4px,#82e87b 65.0px,#7de881 67.5px,#6ae896 70.1px,#6fe890 72.7px,#70e88f 75.2px,#72e88d 77.8px,#72e88d 80.4px,#77e888 83.0px,#92e86b 85.5px,#6de892 88.1px,#6ee891 90.7px,#71e88e 93.2px,#9be861 95.8px,#8ce871 98.4px,#a3e859 100.9px,#8be872 103.5px,#8be872 106.8px)"></div><div style="position:absolute;left:0;top:71.26px;width:100%;height:4.15px;background:linear-gradient(90deg,#cbe830 0px,#cbe830 3.3px,#d0e82c 5.9px,#b3e849 8.4px,#94e869 11.0px,#7be883 13.6px,#7be883 16.1px,#77e887 18.7px,#6be894 21.3px,#6ee891 23.8px,#6ae896 26.4px,#63e89d 29.0px,#71e88e 31.6px,#78e886 34.1px,#75e889 36.7px,#7be883 39.3px,#91e86c 41.8px,#81e87d 44.4px,#6be894 47.0px,#b1e84a 49.5px,#c9e832 52.1px,#e7e815 54.7px,#f3e809 57.3px,#bce83f 59.8px,#95e868 62.4px,#94e869 65.0px,#7ce882 67.5px,#73e88c 70.1px,#58e8aa 72.7px,#6ee891 75.2px,#65e89b 77.8px,#60e8a0 80.4px,#75e88a 83.0px,#8be873 85.5px,#61e8a0 88.1px,#5de8a5 90.7px,#68e898 93.2px,#8ce871 95.8px,#8de870 98.4px,#b2e84a 100.9px,#7ee880 103.5px,#7ee880 106.8px)"></div><div style="position:absolute;left:0;top:75.11px;width:100%;height:4.15px;background:linear-gradient(90deg,#6de892 0px,#6de892 3.3px,#75e88a 5.9px,#6ae895 8.4px,#69e897 11.0px,#51e8b2 13.6px,#55e8ad 16.1px,#59e8a9 18.7px,#49e8bb 21.3px,#41e8c3 23.8px,#4be8b8 26.4px,#4ee8b5 29.0px,#54e8ae 31.6px,#59e8a8 34.1px,#51e8b1 36.7px,#52e8b0 39.3px,#5de8a4 41.8px,#5ae8a8 44.4px,#44e8c0 47.0px,#75e88a 49.5px,#87e877 52.1px,#95e868 54.7px,#b5e846 57.3px,#78e886 59.8px,#51e8b1 62.4px,#68e898 65.0px,#4be8b9 67.5px,#45e8bf 70.1px,#31e8d6 72.7px,#50e8b3 75.2px,#47e8bd 77.8px,#43e8c2 80.4px,#54e8af 83.0px,#60e8a1 85.5px,#38e8ce 88.1px,#4ee8b5 90.7px,#47e8bd 93.2px,#60e8a1 95.8px,#53e8b0 98.4px,#6de892 100.9px,#4be8b9 103.5px,#4be8b9 106.8px)"></div><div style="position:absolute;left:0;top:78.96px;width:100%;height:4.15px;background:linear-gradient(90deg,#1abcf2 0px,#1abcf2 3.3px,#1ac1f2 5.9px,#1acaf2 8.4px,#1abdf2 11.0px,#1ac2f2 13.6px,#1ab1f2 16.1px,#1acff2 18.7px,#1aaaf2 21.3px,#1ab1f2 23.8px,#1aa4f2 26.4px,#1aadf2 29.0px,#1aa1f2 31.6px,#1aadf2 34.1px,#1ab2f2 36.7px,#1ab8f2 39.3px,#1acbf2 41.8px,#1ab1f2 44.4px,#1aa9f2 47.0px,#1abdf2 49.5px,#1abef2 52.1px,#1accf2 54.7px,#1addf2 57.3px,#1ac2f2 59.8px,#1aa4f2 62.4px,#1abef2 65.0px,#1aaef2 67.5px,#1aa5f2 70.1px,#1aa1f2 72.7px,#1ab1f2 75.2px,#1ab0f2 77.8px,#1aa5f2 80.4px,#1ab9f2 83.0px,#1abaf2 85.5px,#1aa2f2 88.1px,#1aadf2 90.7px,#1aabf2 93.2px,#1abef2 95.8px,#1aadf2 98.4px,#1ac9f2 100.9px,#1aabf2 103.5px,#1aabf2 106.8px)"></div><div style="position:absolute;left:0;top:82.81px;width:100%;height:4.15px;background:linear-gradient(90deg,#1a57f2 0px,#1a57f2 3.3px,#1a52f2 5.9px,#1a47f2 8.4px,#1a42f2 11.0px,#1a53f2 13.6px,#1a53f2 16.1px,#1a5df2 18.7px,#1a4af2 21.3px,#1a4af2 23.8px,#1a45f2 26.4px,#1a48f2 29.0px,#1a40f2 31.6px,#1a57f2 34.1px,#1a45f2 36.7px,#1a4ff2 39.3px,#1a56f2 41.8px,#1a53f2 44.4px,#1a33f2 47.0px,#1a58f2 49.5px,#1a3cf2 52.1px,#1a51f2 54.7px,#1a65f2 57.3px,#1a53f2 59.8px,#1a40f2 62.4px,#1a56f2 65.0px,#1a41f2 67.5px,#1a42f2 70.1px,#1a3bf2 72.7px,#1a3ff2 75.2px,#1a48f2 77.8px,#1a42f2 80.4px,#1a47f2 83.0px,#1a67f2 85.5px,#1a42f2 88.1px,#1a34f2 90.7px,#1a43f2 93.2px,#1a55f2 95.8px,#1a56f2 98.4px,#1a5ff2 100.9px,#1a3af2 103.5px,#1a3af2 106.8px)"></div><div style="position:absolute;left:0;top:86.66px;width:100%;height:4.15px;background:linear-gradient(90deg,#1a48f2 0px,#1a48f2 3.3px,#1a35f2 5.9px,#1a3ff2 8.4px,#1a34f2 11.0px,#1a32f2 13.6px,#1a38f2 16.1px,#1a39f2 18.7px,#1a1bf2 21.3px,#1a34f2 23.8px,#1a34f2 26.4px,#1a21f2 29.0px,#1a2af2 31.6px,#1a2ef2 34.1px,#1a35f2 36.7px,#1a30f2 39.3px,#1a47f2 41.8px,#1a31f2 44.4px,#1a1af2 47.0px,#1a36f2 49.5px,#1a1cf2 52.1px,#1a2ef2 54.7px,#1a4af2 57.3px,#1a26f2 59.8px,#1a15f2 62.4px,#1a31f2 65.0px,#1a29f2 67.5px,#1a18f2 70.1px,#1a29f2 72.7px,#1a2bf2 75.2px,#1a34f2 77.8px,#1a2df2 80.4px,#1a29f2 83.0px,#1a40f2 85.5px,#1a1ff2 88.1px,#1a37f2 90.7px,#1a27f2 93.2px,#1a40f2 95.8px,#1a30f2 98.4px,#1a3df2 100.9px,#1a20f2 103.5px,#1a20f2 106.8px)"></div><div style="position:absolute;left:0;top:90.50px;width:100%;height:4.15px;background:linear-gradient(90deg,#1a60f2 0px,#1a60f2 3.3px,#1a61f2 5.9px,#1a2df2 8.4px,#1a2ff2 11.0px,#1a2df2 13.6px,#1a23f2 16.1px,#1a26f2 18.7px,#1a17f2 21.3px,#1a1ff2 23.8px,#1a0bf2 26.4px,#1a0af2 29.0px,#1a27f2 31.6px,#1a18f2 34.1px,#1a13f2 36.7px,#1a23f2 39.3px,#1a2bf2 41.8px,#1a24f2 44.4px,#1a0cf2 47.0px,#1a16f2 49.5px,#1a09f2 52.1px,#1a22f2 54.7px,#1a20f2 57.3px,#1a0ff2 59.8px,#1908ef 62.4px,#1a21f2 65.0px,#1a16f2 67.5px,#1908f1 70.1px,#1a17f2 72.7px,#1a0bf2 75.2px,#1a14f2 77.8px,#1a1af2 80.4px,#1a23f2 83.0px,#1a32f2 85.5px,#1a18f2 88.1px,#1a14f2 90.7px,#1a1df2 93.2px,#1a21f2 95.8px,#1a0df2 98.4px,#1a2ff2 100.9px,#1a13f2 103.5px,#1a13f2 106.8px)"></div><div style="position:absolute;left:0;top:94.35px;width:100%;height:6.15px;background:linear-gradient(90deg,#1a6af2 0px,#1a6af2 3.3px,#1a5bf2 5.9px,#1a37f2 8.4px,#1a30f2 11.0px,#1a20f2 13.6px,#1a14f2 16.1px,#1a20f2 18.7px,#1908ed 21.3px,#1a14f2 23.8px,#1908ef 26.4px,#1908f2 29.0px,#1a0bf2 31.6px,#1a0cf2 34.1px,#1a14f2 36.7px,#1a17f2 39.3px,#1a1cf2 41.8px,#1a1bf2 44.4px,#1908e9 47.0px,#1a10f2 49.5px,#1908eb 52.1px,#1908ef 54.7px,#1a23f2 57.3px,#1908f1 59.8px,#1908eb 62.4px,#1a10f2 65.0px,#1a0ef2 67.5px,#1608d5 70.1px,#1a09f2 72.7px,#1a09f2 75.2px,#1908ed 77.8px,#1a12f2 80.4px,#1a0cf2 83.0px,#1a1bf2 85.5px,#1a10f2 88.1px,#1a10f2 90.7px,#1a14f2 93.2px,#1a22f2 95.8px,#1a10f2 98.4px,#1a12f2 100.9px,#1908e9 103.5px,#1908e9 106.8px)"></div></div></div><div style="position:absolute;left:112.5px;top:369.5px;width:61.2px;height:61.2px;border-radius:50%;overflow:hidden"><div style="position:absolute;left:-3px;top:-3px;width:61.2px;height:61.2px;padding:3px;filter:blur(1.2px)"><div style="position:relative;width:100%;height:100%"><div style="position:absolute;left:0;top:0.00px;width:100%;height:2.44px;background:linear-gradient(90deg,#57e8ab 0.0px,#57e8ab 3.8px,#57e8ab 7.7px,#57e8ab 11.5px,#57e8ab 15.3px,#57e8ab 19.1px,#57e8ab 23.0px,#57e8ab 26.8px,#57e8ab 30.6px,#57e8ab 34.4px,#57e8ab 38.2px,#57e8ab 42.1px,#57e8ab 45.9px,#57e8ab 49.7px,#57e8ab 53.6px,#57e8ab 57.4px,#57e8ab 61.2px)"></div><div style="position:absolute;left:0;top:2.04px;width:100%;height:2.44px;background:linear-gradient(90deg,#57e8ab 0.0px,#57e8ab 3.8px,#57e8ab 7.7px,#57e8ab 11.5px,#57e8ab 15.3px,#56e8ac 19.1px,#56e8ac 23.0px,#56e8ac 26.8px,#56e8ab 30.6px,#56e8ab 34.4px,#57e8ab 38.2px,#57e8ab 42.1px,#57e8ab 45.9px,#57e8ab 49.7px,#57e8ab 53.6px,#57e8ab 57.4px,#57e8ab 61.2px)"></div><div style="position:absolute;left:0;top:4.08px;width:100%;height:2.44px;background:linear-gradient(90deg,#57e8ab 0.0px,#57e8ab 3.8px,#57e8ab 7.7px,#57e8ab 11.5px,#56e8ac 15.3px,#54e8ae 19.1px,#54e8af 23.0px,#55e8ad 26.8px,#56e8ac 30.6px,#56e8ac 34.4px,#56e8ab 38.2px,#57e8ab 42.1px,#57e8aa 45.9px,#57e8ab 49.7px,#57e8ab 53.6px,#57e8ab 57.4px,#57e8ab 61.2px)"></div><div style="position:absolute;left:0;top:6.12px;width:100%;height:2.44px;background:linear-gradient(90deg,#57e8ab 0.0px,#57e8ab 3.8px,#57e8ab 7.7px,#56e8ab 11.5px,#54e8ae 15.3px,#4fe8b4 19.1px,#4de8b6 23.0px,#51e8b1 26.8px,#54e8ae 30.6px,#55e8ad 34.4px,#56e8ac 38.2px,#58e8a9 42.1px,#5ae8a8 45.9px,#58e8a9 49.7px,#57e8ab 53.6px,#57e8ab 57.4px,#57e8ab 61.2px)"></div><div style="position:absolute;left:0;top:8.16px;width:100%;height:2.44px;background:linear-gradient(90deg,#57e8ab 0.0px,#57e8ab 3.8px,#57e8ab 7.7px,#56e8ac 11.5px,#51e8b2 15.3px,#44e8c1 19.1px,#40e8c5 23.0px,#4ae8b9 26.8px,#50e8b3 30.6px,#52e8b0 34.4px,#56e8ac 38.2px,#5de8a4 42.1px,#61e89f 45.9px,#5ce8a5 49.7px,#58e8aa 53.6px,#57e8ab 57.4px,#57e8ab 61.2px)"></div><div style="position:absolute;left:0;top:10.20px;width:100%;height:2.44px;background:linear-gradient(90deg,#57e8ab 0.0px,#57e8ab 3.8px,#57e8ab 7.7px,#56e8ac 11.5px,#4de8b6 15.3px,#36e8d0 19.1px,#2fe8d8 23.0px,#40e8c5 26.8px,#48e8bb 30.6px,#4de8b6 34.4px,#55e8ac 38.2px,#66e89a 42.1px,#72e88d 45.9px,#65e89b 49.7px,#59e8a8 53.6px,#57e8ab 57.4px,#57e8ab 61.2px)"></div><div style="position:absolute;left:0;top:12.24px;width:100%;height:2.44px;background:linear-gradient(90deg,#57e8ab 0.0px,#57e8ab 3.8px,#57e8ab 7.7px,#56e8ac 11.5px,#4be8b9 15.3px,#2ee8da 19.1px,#23e8e7 23.0px,#34e8d3 26.8px,#3de8c8 30.6px,#45e8bf 34.4px,#55e8ad 38.2px,#76e889 42.1px,#8ce871 45.9px,#73e88c 49.7px,#5ce8a5 53.6px,#57e8ab 57.4px,#57e8ab 61.2px)"></div><div style="position:absolute;left:0;top:14.28px;width:100%;height:2.44px;background:linear-gradient(90deg,#57e8ab 0.0px,#57e8ab 3.8px,#57e8ab 7.7px,#56e8ac 11.5px,#4ce8b7 15.3px,#31e8d7 19.1px,#22e8e8 23.0px,#2be8dd 26.8px,#2fe8d8 30.6px,#3ae8cc 34.4px,#53e8b0 38.2px,#85e878 42.1px,#a8e854 45.9px,#82e87c 49.7px,#5ee8a3 53.6px,#57e8ab 57.4px,#57e8ab 61.2px)"></div><div style="position:absolute;left:0;top:16.32px;width:100%;height:2.44px;background:linear-gradient(90deg,#57e8ab 0.0px,#57e8ab 3.8px,#57e8ab 7.7px,#57e8ab 11.5px,#52e8b0 15.3px,#3ee8c7 19.1px,#2ce8dc 23.0px,#25e8e5 26.8px,#21e8e9 30.6px,#2ee8da 34.4px,#4ee8b5 38.2px,#8be872 42.1px,#b5e846 45.9px,#88e875 49.7px,#5fe8a1 53.6px,#57e8ab 57.4px,#57e8ab 61.2px)"></div><div style="position:absolute;left:0;top:18.36px;width:100%;height:2.44px;background:linear-gradient(90deg,#57e8ab 0.0px,#57e8ab 3.8px,#57e8ab 7.7px,#59e8a9 11.5px,#5ae8a8 15.3px,#50e8b2 19.1px,#3ae8cb 23.0px,#22e8e8 26.8px,#1ae4f2 30.6px,#23e8e7 34.4px,#46e8be 38.2px,#81e87d 42.1px,#a9e853 45.9px,#82e87b 49.7px,#5ee8a3 53.6px,#57e8ab 57.4px,#57e8ab 61.2px)"></div><div style="position:absolute;left:0;top:20.40px;width:100%;height:2.44px;background:linear-gradient(90deg,#57e8ab 0.0px,#57e8ab 3.8px,#57e8aa 7.7px,#5be8a7 11.5px,#62e89e 15.3px,#61e8a0 19.1px,#48e8bc 23.0px,#23e8e7 26.8px,#1addf2 30.6px,#1ce8ef 34.4px,#3ce8ca 38.2px,#6be894 42.1px,#8be872 45.9px,#73e88c 49.7px,#5be8a6 53.6px,#57e8ab 57.4px,#57e8ab 61.2px)"></div><div style="position:absolute;left:0;top:22.44px;width:100%;height:2.44px;background:linear-gradient(90deg,#57e8ab 0.0px,#57e8ab 3.8px,#58e8aa 7.7px,#5ce8a5 11.5px,#68e898 15.3px,#6de892 19.1px,#52e8b0 23.0px,#27e8e2 26.8px,#1adef2 30.6px,#1ae7f2 34.4px,#2fe8d9 38.2px,#51e8b1 42.1px,#6ce894 45.9px,#64e89d 49.7px,#58e8a9 53.6px,#56e8ac 57.4px,#56e8ab 61.2px)"></div><div style="position:absolute;left:0;top:24.48px;width:100%;height:2.44px;background:linear-gradient(90deg,#57e8ab 0.0px,#57e8ab 3.8px,#58e8a9 7.7px,#5de8a4 11.5px,#6ae895 15.3px,#71e88e 19.1px,#57e8ab 23.0px,#2ce8dc 26.8px,#1ae3f2 30.6px,#1ae5f2 34.4px,#20e8ea 38.2px,#39e8cd 42.1px,#54e8ae 45.9px,#58e8aa 49.7px,#56e8ac 53.6px,#56e8ac 57.4px,#56e8ac 61.2px)"></div><div style="position:absolute;left:0;top:26.52px;width:100%;height:2.44px;background:linear-gradient(90deg,#57e8ab 0.0px,#58e8aa 3.8px,#59e8a8 7.7px,#5de8a5 11.5px,#66e89a 15.3px,#6be895 19.1px,#53e8af 23.0px,#2de8db 26.8px,#1ae6f2 30.6px,#1ae1f2 34.4px,#1adef2 38.2px,#25e8e5 42.1px,#44e8c0 45.9px,#51e8b2 49.7px,#53e8af 53.6px,#55e8ad 57.4px,#56e8ac 61.2px)"></div><div style="position:absolute;left:0;top:28.56px;width:100%;height:2.44px;background:linear-gradient(90deg,#57e8ab 0.0px,#59e8a8 3.8px,#5be8a6 7.7px,#5be8a6 11.5px,#5de8a4 15.3px,#5be8a6 19.1px,#45e8bf 23.0px,#26e8e3 26.8px,#1ae3f2 30.6px,#1adbf2 34.4px,#1ad2f2 38.2px,#1ae7f2 42.1px,#3be8cb 45.9px,#4be8b8 49.7px,#51e8b1 53.6px,#54e8ae 57.4px,#56e8ac 61.2px)"></div><div style="position:absolute;left:0;top:30.60px;width:100%;height:2.44px;background:linear-gradient(90deg,#57e8aa 0.0px,#5be8a6 3.8px,#5ee8a3 7.7px,#5ae8a7 11.5px,#51e8b1 15.3px,#46e8bd 19.1px,#31e8d6 23.0px,#1ae6f2 26.8px,#1ad6f2 30.6px,#1ad0f2 34.4px,#1accf2 38.2px,#1ae2f2 42.1px,#34e8d3 45.9px,#46e8be 49.7px,#4fe8b4 53.6px,#53e8af 57.4px,#55e8ad 61.2px)"></div><div style="position:absolute;left:0;top:32.64px;width:100%;height:2.44px;background:linear-gradient(90deg,#58e8aa 0.0px,#5ee8a3 3.8px,#62e89e 7.7px,#5ae8a8 11.5px,#46e8bd 15.3px,#32e8d5 19.1px,#1be8f1 23.0px,#1acef2 26.8px,#1abff2 30.6px,#1abdf2 34.4px,#1ac4f2 38.2px,#1addf2 42.1px,#2ee8da 45.9px,#41e8c3 49.7px,#4ce8b7 53.6px,#52e8b1 57.4px,#55e8ad 61.2px)"></div><div style="position:absolute;left:0;top:34.68px;width:100%;height:2.44px;background:linear-gradient(90deg,#59e8a9 0.0px,#60e8a1 3.8px,#66e89a 7.7px,#5ae8a7 11.5px,#3ee8c7 15.3px,#21e8e9 19.1px,#1ad1f2 23.0px,#1ab1f2 26.8px,#1a9df2 30.6px,#1a9ef2 34.4px,#1ab3f2 38.2px,#1ad5f2 42.1px,#27e8e2 45.9px,#3de8c8 49.7px,#4be8b9 53.6px,#51e8b1 57.4px,#54e8ae 61.2px)"></div><div style="position:absolute;left:0;top:36.72px;width:100%;height:2.44px;background:linear-gradient(90deg,#59e8a9 0.0px,#62e89f 3.8px,#69e896 7.7px,#5ae8a7 11.5px,#38e8ce 15.3px,#1ae3f2 19.1px,#1abcf2 23.0px,#1a94f2 26.8px,#1a76f2 30.6px,#1a78f2 34.4px,#1a9af2 38.2px,#1ac9f2 42.1px,#22e8e8 45.9px,#3ce8c9 49.7px,#4ce8b8 53.6px,#52e8b0 57.4px,#54e8ae 61.2px)"></div><div style="position:absolute;left:0;top:38.76px;width:100%;height:2.44px;background:linear-gradient(90deg,#59e8a9 0.0px,#62e89e 3.8px,#6ae896 7.7px,#5ae8a8 11.5px,#34e8d2 15.3px,#1adbf2 19.1px,#1aaff2 23.0px,#1a7ff2 26.8px,#1a59f2 30.6px,#1a5af2 34.4px,#1a86f2 38.2px,#1abff2 42.1px,#1fe8eb 45.9px,#3ee8c7 49.7px,#50e8b3 53.6px,#54e8ae 57.4px,#55e8ad 61.2px)"></div><div style="position:absolute;left:0;top:40.80px;width:100%;height:2.44px;background:linear-gradient(90deg,#59e8a9 0.0px,#61e89f 3.8px,#68e898 7.7px,#58e8aa 11.5px,#34e8d3 15.3px,#1adbf2 19.1px,#1aaef2 23.0px,#1a7cf2 26.8px,#1a55f2 30.6px,#1a56f2 34.4px,#1a83f2 38.2px,#1abff2 42.1px,#22e8e8 45.9px,#45e8bf 49.7px,#57e8ab 53.6px,#58e8aa 57.4px,#56e8ac 61.2px)"></div><div style="position:absolute;left:0;top:42.84px;width:100%;height:2.44px;background:linear-gradient(90deg,#58e8a9 0.0px,#5fe8a2 3.8px,#64e89c 7.7px,#56e8ac 11.5px,#35e8d1 15.3px,#1ae1f2 19.1px,#1abaf2 23.0px,#1a8ff2 26.8px,#1a6ef2 30.6px,#1a70f2 34.4px,#1a97f2 38.2px,#1acbf2 42.1px,#2ae8df 45.9px,#4de8b6 49.7px,#5ee8a3 53.6px,#5ce8a5 57.4px,#57e8ab 61.2px)"></div><div style="position:absolute;left:0;top:44.88px;width:100%;height:2.44px;background:linear-gradient(90deg,#58e8aa 0.0px,#5de8a5 3.8px,#60e8a1 7.7px,#54e8af 11.5px,#39e8cd 15.3px,#1de8ee 19.1px,#1acdf2 23.0px,#1aaef2 26.8px,#1a98f2 30.6px,#1a9bf2 34.4px,#1ab7f2 38.2px,#1adef2 42.1px,#34e8d3 45.9px,#55e8ae 49.7px,#63e89d 53.6px,#5ee8a2 57.4px,#58e8aa 61.2px)"></div><div style="position:absolute;left:0;top:46.92px;width:100%;height:2.44px;background:linear-gradient(90deg,#57e8ab 0.0px,#5ae8a7 3.8px,#5ce8a6 7.7px,#52e8b0 11.5px,#3ee8c7 15.3px,#29e8df 19.1px,#1ae3f2 23.0px,#1acff2 26.8px,#1ac2f2 30.6px,#1ac5f2 34.4px,#1ad7f2 38.2px,#22e8e8 42.1px,#3de8c8 45.9px,#58e8aa 49.7px,#64e89c 53.6px,#5fe8a2 57.4px,#58e8aa 61.2px)"></div><div style="position:absolute;left:0;top:48.96px;width:100%;height:2.44px;background:linear-gradient(90deg,#57e8ab 0.0px,#58e8a9 3.8px,#59e8a9 7.7px,#52e8b1 11.5px,#44e8c0 15.3px,#35e8d1 19.1px,#27e8e2 23.0px,#1ce8ef 26.8px,#1ae4f2 30.6px,#1ae6f2 34.4px,#22e8e8 38.2px,#31e8d6 42.1px,#44e8c0 45.9px,#58e8aa 49.7px,#61e8a0 53.6px,#5de8a5 57.4px,#58e8aa 61.2px)"></div><div style="position:absolute;left:0;top:51.00px;width:100%;height:2.44px;background:linear-gradient(90deg,#57e8ab 0.0px,#57e8ab 3.8px,#57e8ab 7.7px,#52e8b0 11.5px,#4ae8ba 15.3px,#40e8c5 19.1px,#37e8d0 23.0px,#2ee8da 26.8px,#29e8e0 30.6px,#2ce8dc 34.4px,#34e8d3 38.2px,#3de8c8 42.1px,#4ae8ba 45.9px,#56e8ab 49.7px,#5ce8a5 53.6px,#5ae8a7 57.4px,#57e8ab 61.2px)"></div><div style="position:absolute;left:0;top:53.04px;width:100%;height:2.44px;background:linear-gradient(90deg,#57e8ab 0.0px,#57e8ab 3.8px,#56e8ac 7.7px,#53e8af 11.5px,#4ee8b5 15.3px,#48e8bb 19.1px,#42e8c3 23.0px,#34e8d3 26.8px,#26e8e3 30.6px,#33e8d4 34.4px,#40e8c5 38.2px,#47e8bd 42.1px,#4ee8b5 45.9px,#55e8ad 49.7px,#59e8a9 53.6px,#58e8aa 57.4px,#57e8ab 61.2px)"></div><div style="position:absolute;left:0;top:55.08px;width:100%;height:2.44px;background:linear-gradient(90deg,#57e8ab 0.0px,#56e8ab 3.8px,#56e8ac 7.7px,#54e8ae 11.5px,#52e8b1 15.3px,#4ee8b5 19.1px,#47e8bd 23.0px,#22e8e9 26.8px,#1abdf2 30.6px,#21e8e9 34.4px,#46e8be 38.2px,#4de8b6 42.1px,#51e8b1 45.9px,#55e8ad 49.7px,#57e8ab 53.6px,#57e8ab 57.4px,#57e8ab 61.2px)"></div><div style="position:absolute;left:0;top:57.12px;width:100%;height:2.44px;background:linear-gradient(90deg,#57e8ab 0.0px,#57e8ab 3.8px,#56e8ac 7.7px,#55e8ad 11.5px,#54e8ae 15.3px,#52e8b0 19.1px,#49e8bb 23.0px,#1ad0f2 26.8px,#1a6df2 30.6px,#1ad0f2 34.4px,#48e8bb 38.2px,#51e8b1 42.1px,#54e8af 45.9px,#55e8ad 49.7px,#56e8ab 53.6px,#57e8ab 57.4px,#57e8ab 61.2px)"></div><div style="position:absolute;left:0;top:59.16px;width:100%;height:2.44px;background:linear-gradient(90deg,#57e8ab 0.0px,#57e8ab 3.8px,#56e8ab 7.7px,#56e8ac 11.5px,#55e8ad 15.3px,#54e8ae 19.1px,#4ce8b7 23.0px,#1ad7f2 26.8px,#1a78f2 30.6px,#1ad7f2 34.4px,#4ce8b7 38.2px,#54e8ae 42.1px,#55e8ad 45.9px,#56e8ac 49.7px,#56e8ab 53.6px,#57e8ab 57.4px,#57e8ab 61.2px)"></div></div></div></div><div style="position:absolute;left:322.9px;top:369.5px;width:61.2px;height:61.2px;border-radius:50%;overflow:hidden"><div style="position:absolute;left:-3px;top:-3px;width:61.2px;height:61.2px;padding:3px;filter:blur(1.2px)"><div style="position:relative;width:100%;height:100%"><div style="position:absolute;left:0;top:0.00px;width:100%;height:2.44px;background:linear-gradient(90deg,#57e8ab 0.0px,#57e8ab 3.8px,#57e8ab 7.7px,#57e8aa 11.5px,#59e8a8 15.3px,#5be8a7 19.1px,#5ae8a7 23.0px,#58e8aa 26.8px,#57e8ab 30.6px,#57e8ab 34.4px,#57e8ab 38.2px,#57e8ab 42.1px,#57e8ab 45.9px,#57e8ab 49.7px,#57e8ab 53.6px,#57e8ab 57.4px,#57e8ab 61.2px)"></div><div style="position:absolute;left:0;top:2.04px;width:100%;height:2.44px;background:linear-gradient(90deg,#57e8ab 0.0px,#57e8ab 3.8px,#57e8ab 7.7px,#59e8a8 11.5px,#5fe8a2 15.3px,#64e89c 19.1px,#62e89f 23.0px,#5be8a6 26.8px,#58e8aa 30.6px,#57e8ab 34.4px,#57e8ab 38.2px,#57e8ab 42.1px,#57e8ab 45.9px,#57e8ab 49.7px,#57e8ab 53.6px,#57e8ab 57.4px,#57e8ab 61.2px)"></div><div style="position:absolute;left:0;top:4.08px;width:100%;height:2.44px;background:linear-gradient(90deg,#57e8ab 0.0px,#57e8ab 3.8px,#58e8aa 7.7px,#5ce8a5 11.5px,#69e897 15.3px,#75e88a 19.1px,#6fe890 23.0px,#60e8a0 26.8px,#59e8a9 30.6px,#57e8ab 34.4px,#57e8ab 38.2px,#57e8ab 42.1px,#57e8ab 45.9px,#57e8ab 49.7px,#57e8ab 53.6px,#57e8ab 57.4px,#57e8ab 61.2px)"></div><div style="position:absolute;left:0;top:6.12px;width:100%;height:2.44px;background:linear-gradient(90deg,#57e8ab 0.0px,#57e8ab 3.8px,#58e8aa 7.7px,#5fe8a2 11.5px,#70e88f 15.3px,#81e87d 19.1px,#79e886 23.0px,#64e89c 26.8px,#59e8a9 30.6px,#56e8ac 34.4px,#56e8ac 38.2px,#57e8ab 42.1px,#58e8aa 45.9px,#58e8aa 49.7px,#57e8ab 53.6px,#57e8ab 57.4px,#57e8ab 61.2px)"></div><div style="position:absolute;left:0;top:8.16px;width:100%;height:2.44px;background:linear-gradient(90deg,#57e8ab 0.0px,#57e8ab 3.8px,#58e8aa 7.7px,#5ee8a3 11.5px,#6ee892 15.3px,#7ce882 19.1px,#75e88a 23.0px,#62e89e 26.8px,#56e8ac 30.6px,#4fe8b3 34.4px,#53e8af 38.2px,#58e8aa 42.1px,#5de8a4 45.9px,#5ce8a5 49.7px,#58e8aa 53.6px,#57e8ab 57.4px,#57e8ab 61.2px)"></div><div style="position:absolute;left:0;top:10.20px;width:100%;height:2.44px;background:linear-gradient(90deg,#57e8ab 0.0px,#57e8ab 3.8px,#57e8aa 7.7px,#5be8a7 11.5px,#63e89d 15.3px,#6be894 19.1px,#67e899 23.0px,#5ce8a5 26.8px,#4de8b6 30.6px,#3de8c8 34.4px,#4ae8b9 38.2px,#5be8a6 42.1px,#6ee891 45.9px,#6be895 49.7px,#5ae8a7 53.6px,#57e8ab 57.4px,#57e8ab 61.2px)"></div><div style="position:absolute;left:0;top:12.24px;width:100%;height:2.44px;background:linear-gradient(90deg,#57e8ab 0.0px,#57e8ab 3.8px,#57e8ab 7.7px,#58e8aa 11.5px,#5ae8a8 15.3px,#5be8a6 19.1px,#59e8a8 23.0px,#55e8ad 26.8px,#3ee8c7 30.6px,#1ee8ed 34.4px,#3be8ca 38.2px,#60e8a0 42.1px,#8be872 45.9px,#84e87a 49.7px,#5fe8a2 53.6px,#57e8ab 57.4px,#57e8ab 61.2px)"></div><div style="position:absolute;left:0;top:14.28px;width:100%;height:2.44px;background:linear-gradient(90deg,#57e8ab 0.0px,#57e8ab 3.8px,#57e8ab 7.7px,#56e8ac 11.5px,#53e8af 15.3px,#4fe8b4 19.1px,#4ee8b5 23.0px,#4ee8b5 26.8px,#32e8d5 30.6px,#1ad3f2 34.4px,#2fe8d8 38.2px,#64e89c 42.1px,#a3e85a 45.9px,#97e865 49.7px,#62e89f 53.6px,#57e8ab 57.4px,#57e8ab 61.2px)"></div><div style="position:absolute;left:0;top:16.32px;width:100%;height:2.44px;background:linear-gradient(90deg,#57e8ab 0.0px,#57e8ab 3.8px,#56e8ac 7.7px,#54e8ae 11.5px,#4de8b6 15.3px,#42e8c2 19.1px,#40e8c5 23.0px,#47e8bd 26.8px,#32e8d5 30.6px,#1ad9f2 34.4px,#32e8d5 38.2px,#62e89e 42.1px,#9be861 45.9px,#91e86b 49.7px,#61e8a0 53.6px,#57e8ab 57.4px,#57e8ab 61.2px)"></div><div style="position:absolute;left:0;top:18.36px;width:100%;height:2.44px;background:linear-gradient(90deg,#57e8ab 0.0px,#57e8ab 3.8px,#56e8ac 7.7px,#53e8b0 11.5px,#47e8bd 15.3px,#35e8d1 19.1px,#32e8d5 23.0px,#40e8c5 26.8px,#3be8ca 30.6px,#27e8e2 34.4px,#3ee8c7 38.2px,#5ce8a6 42.1px,#7de881 45.9px,#78e887 49.7px,#5ce8a5 53.6px,#57e8ab 57.4px,#57e8ab 61.2px)"></div><div style="position:absolute;left:0;top:20.40px;width:100%;height:2.44px;background:linear-gradient(90deg,#57e8ab 0.0px,#56e8ab 3.8px,#56e8ac 7.7px,#51e8b1 11.5px,#43e8c2 15.3px,#2ee8da 19.1px,#2ae8de 23.0px,#3ae8cc 26.8px,#42e8c3 30.6px,#3ce8c9 34.4px,#47e8bd 38.2px,#54e8ae 42.1px,#62e89e 45.9px,#62e89f 49.7px,#58e8aa 53.6px,#56e8ac 57.4px,#56e8ab 61.2px)"></div><div style="position:absolute;left:0;top:22.44px;width:100%;height:2.44px;background:linear-gradient(90deg,#56e8ab 0.0px,#56e8ac 3.8px,#55e8ad 7.7px,#50e8b2 11.5px,#43e8c2 15.3px,#2fe8d8 19.1px,#2be8de 23.0px,#37e8cf 26.8px,#3ee8c7 30.6px,#3de8c8 34.4px,#43e8c1 38.2px,#4de8b6 42.1px,#54e8ae 45.9px,#56e8ab 49.7px,#55e8ad 53.6px,#56e8ac 57.4px,#56e8ac 61.2px)"></div><div style="position:absolute;left:0;top:24.48px;width:100%;height:2.44px;background:linear-gradient(90deg,#56e8ac 0.0px,#56e8ac 3.8px,#54e8ae 7.7px,#4fe8b3 11.5px,#44e8c1 15.3px,#34e8d3 19.1px,#2ee8da 23.0px,#32e8d5 26.8px,#30e8d7 30.6px,#2be8dd 34.4px,#33e8d4 38.2px,#42e8c3 42.1px,#4ce8b7 45.9px,#51e8b1 49.7px,#54e8ae 53.6px,#55e8ad 57.4px,#56e8ac 61.2px)"></div><div style="position:absolute;left:0;top:26.52px;width:100%;height:2.44px;background:linear-gradient(90deg,#56e8ac 0.0px,#55e8ad 3.8px,#53e8b0 7.7px,#4de8b6 11.5px,#41e8c3 15.3px,#33e8d4 19.1px,#2ae8df 23.0px,#25e8e4 26.8px,#1ae6f2 30.6px,#1ad7f2 34.4px,#1ae5f2 38.2px,#32e8d6 42.1px,#44e8c0 45.9px,#4de8b6 49.7px,#53e8b0 53.6px,#56e8ac 57.4px,#56e8ac 61.2px)"></div><div style="position:absolute;left:0;top:28.56px;width:100%;height:2.44px;background:linear-gradient(90deg,#56e8ac 0.0px,#55e8ae 3.8px,#51e8b2 7.7px,#48e8bc 11.5px,#39e8cd 15.3px,#27e8e2 19.1px,#1ae8f2 23.0px,#1adbf2 26.8px,#1abef2 30.6px,#1aa6f2 34.4px,#1abcf2 38.2px,#1be8f1 42.1px,#38e8cf 45.9px,#48e8bc 49.7px,#52e8b0 53.6px,#59e8a8 57.4px,#58e8a9 61.2px)"></div><div style="position:absolute;left:0;top:30.60px;width:100%;height:2.44px;background:linear-gradient(90deg,#56e8ac 0.0px,#54e8ae 3.8px,#4fe8b4 7.7px,#42e8c3 11.5px,#2be8dd 15.3px,#1adff2 19.1px,#1acaf2 23.0px,#1ab8f2 26.8px,#1a94f2 30.6px,#1a75f2 34.4px,#1a91f2 38.2px,#1acaf2 42.1px,#26e8e3 45.9px,#41e8c4 49.7px,#55e8ad 53.6px,#67e89a 57.4px,#60e8a1 61.2px)"></div><div style="position:absolute;left:0;top:32.64px;width:100%;height:2.44px;background:linear-gradient(90deg,#56e8ac 0.0px,#55e8ad 3.8px,#4fe8b3 7.7px,#3be8cb 11.5px,#1ae8f1 15.3px,#1ac0f2 19.1px,#1aa4f2 23.0px,#1a93f2 26.8px,#1a72f2 30.6px,#1a55f2 34.4px,#1a70f2 38.2px,#1aa8f2 42.1px,#1addf2 45.9px,#37e8cf 49.7px,#5de8a4 53.6px,#86e878 57.4px,#71e88e 61.2px)"></div><div style="position:absolute;left:0;top:34.68px;width:100%;height:2.44px;background:linear-gradient(90deg,#57e8ab 0.0px,#5ae8a7 3.8px,#55e8ad 7.7px,#37e8cf 11.5px,#1ad6f2 15.3px,#1aa1f2 19.1px,#1a7ff2 23.0px,#1a73f2 26.8px,#1a61f2 30.6px,#1a4ff2 34.4px,#1a62f2 38.2px,#1a88f2 42.1px,#1abef2 45.9px,#2ce8dc 49.7px,#6ce894 53.6px,#b6e846 57.4px,#8be872 61.2px)"></div><div style="position:absolute;left:0;top:36.72px;width:100%;height:2.44px;background:linear-gradient(90deg,#59e8a9 0.0px,#63e89e 3.8px,#61e89f 7.7px,#38e8ce 11.5px,#1ac8f2 15.3px,#1a88f2 19.1px,#1a62f2 23.0px,#1a5ff2 26.8px,#1a62f2 30.6px,#1a60f2 34.4px,#1a64f2 38.2px,#1a6df2 42.1px,#1a9ff2 45.9px,#22e8e9 49.7px,#77e887 53.6px,#dee81d 57.4px,#a0e85c 61.2px)"></div><div style="position:absolute;left:0;top:38.76px;width:100%;height:2.44px;background:linear-gradient(90deg,#5be8a7 0.0px,#6de893 3.8px,#70e88f 7.7px,#3de8c8 11.5px,#1ac3f2 15.3px,#1a7df2 19.1px,#1a56f2 23.0px,#1a5af2 26.8px,#1a71f2 30.6px,#1a7ef2 34.4px,#1a72f2 38.2px,#1a5bf2 42.1px,#1a88f2 45.9px,#1ae7f2 49.7px,#76e888 53.6px,#e1e81b 57.4px,#a2e85b 61.2px)"></div><div style="position:absolute;left:0;top:40.80px;width:100%;height:2.44px;background:linear-gradient(90deg,#5ce8a6 0.0px,#71e88e 3.8px,#77e888 7.7px,#42e8c3 11.5px,#1ac7f2 15.3px,#1a83f2 19.1px,#1a5ef2 23.0px,#1a68f2 26.8px,#1a89f2 30.6px,#1a9ef2 34.4px,#1a86f2 38.2px,#1a5af2 42.1px,#1a80f2 45.9px,#1ae3f2 49.7px,#69e897 53.6px,#bae841 57.4px,#8de870 61.2px)"></div><div style="position:absolute;left:0;top:42.84px;width:100%;height:2.44px;background:linear-gradient(90deg,#5be8a7 0.0px,#6ce894 3.8px,#71e88e 7.7px,#44e8c1 11.5px,#1ad4f2 15.3px,#1a99f2 19.1px,#1a79f2 23.0px,#1a84f2 26.8px,#1aa6f2 30.6px,#1abcf2 34.4px,#1aa0f2 38.2px,#1a6cf2 42.1px,#1a8bf2 45.9px,#1ae7f2 49.7px,#5ae8a8 53.6px,#8ae873 57.4px,#74e88b 61.2px)"></div><div style="position:absolute;left:0;top:44.88px;width:100%;height:2.44px;background:linear-gradient(90deg,#59e8a9 0.0px,#63e89e 3.8px,#64e89d 7.7px,#44e8c0 11.5px,#1ae6f2 15.3px,#1ab8f2 19.1px,#1aa0f2 23.0px,#1aa8f2 26.8px,#1ac6f2 30.6px,#1ad8f2 34.4px,#1abdf2 38.2px,#1a8ff2 42.1px,#1aa7f2 45.9px,#22e8e8 49.7px,#50e8b2 53.6px,#69e897 57.4px,#61e89f 61.2px)"></div><div style="position:absolute;left:0;top:46.92px;width:100%;height:2.44px;background:linear-gradient(90deg,#57e8aa 0.0px,#5be8a6 3.8px,#59e8a8 7.7px,#46e8be 11.5px,#29e8e0 15.3px,#1adaf2 19.1px,#1ac8f2 23.0px,#1acff2 26.8px,#1ae3f2 30.6px,#21e8ea 34.4px,#1adcf2 38.2px,#1ab9f2 42.1px,#1acaf2 45.9px,#30e8d8 49.7px,#4ee8b4 53.6px,#5ae8a7 57.4px,#59e8a8 61.2px)"></div><div style="position:absolute;left:0;top:48.96px;width:100%;height:2.44px;background:linear-gradient(90deg,#57e8ab 0.0px,#57e8ab 3.8px,#55e8ad 7.7px,#4ae8b9 11.5px,#39e8cd 15.3px,#27e8e2 19.1px,#1de8ee 23.0px,#20e8ea 26.8px,#2ce8dd 30.6px,#33e8d4 34.4px,#28e8e1 38.2px,#1ae2f2 42.1px,#1ee8ed 45.9px,#3de8c8 49.7px,#50e8b3 53.6px,#56e8ac 57.4px,#57e8ab 61.2px)"></div><div style="position:absolute;left:0;top:51.00px;width:100%;height:2.44px;background:linear-gradient(90deg,#56e8ab 0.0px,#56e8ac 3.8px,#54e8ae 7.7px,#4fe8b4 11.5px,#45e8bf 15.3px,#3be8cb 19.1px,#35e8d2 23.0px,#36e8d1 26.8px,#3ce8ca 30.6px,#41e8c4 34.4px,#3be8cb 38.2px,#30e8d7 42.1px,#36e8d1 45.9px,#48e8bc 49.7px,#53e8b0 53.6px,#56e8ac 57.4px,#56e8ac 61.2px)"></div><div style="position:absolute;left:0;top:53.04px;width:100%;height:2.44px;background:linear-gradient(90deg,#57e8ab 0.0px,#56e8ac 3.8px,#55e8ad 7.7px,#52e8b0 11.5px,#4de8b6 15.3px,#48e8bc 19.1px,#44e8c0 23.0px,#40e8c5 26.8px,#3de8c9 30.6px,#45e8bf 34.4px,#47e8bc 38.2px,#43e8c2 42.1px,#46e8be 45.9px,#4fe8b4 49.7px,#54e8ae 53.6px,#56e8ac 57.4px,#56e8ab 61.2px)"></div><div style="position:absolute;left:0;top:55.08px;width:100%;height:2.44px;background:linear-gradient(90deg,#57e8ab 0.0px,#56e8ab 3.8px,#56e8ac 7.7px,#55e8ae 11.5px,#52e8b0 15.3px,#50e8b3 19.1px,#4be8b8 23.0px,#34e8d3 26.8px,#1ae6f2 30.6px,#36e8d0 34.4px,#4de8b6 38.2px,#4ee8b5 42.1px,#4fe8b4 45.9px,#53e8af 49.7px,#56e8ac 53.6px,#56e8ac 57.4px,#57e8ab 61.2px)"></div><div style="position:absolute;left:0;top:57.12px;width:100%;height:2.44px;background:linear-gradient(90deg,#57e8ab 0.0px,#57e8ab 3.8px,#56e8ac 7.7px,#56e8ac 11.5px,#55e8ad 15.3px,#53e8af 19.1px,#4de8b6 23.0px,#1ae4f2 26.8px,#1a94f2 30.6px,#1ae5f2 34.4px,#4de8b6 38.2px,#53e8b0 42.1px,#54e8af 45.9px,#55e8ad 49.7px,#56e8ac 53.6px,#56e8ab 57.4px,#57e8ab 61.2px)"></div><div style="position:absolute;left:0;top:59.16px;width:100%;height:2.44px;background:linear-gradient(90deg,#57e8ab 0.0px,#57e8ab 3.8px,#57e8ab 7.7px,#56e8ac 11.5px,#56e8ac 15.3px,#55e8ad 19.1px,#4ee8b5 23.0px,#1ad9f2 26.8px,#1a7af2 30.6px,#1adaf2 34.4px,#4ee8b5 38.2px,#55e8ad 42.1px,#56e8ac 45.9px,#56e8ac 49.7px,#56e8ab 53.6px,#57e8ab 57.4px,#57e8ab 61.2px)"></div></div></div></div><div style="position:absolute;left:532.9px;top:369.5px;width:61.2px;height:61.2px;border-radius:50%;overflow:hidden"><div style="position:absolute;left:-3px;top:-3px;width:61.2px;height:61.2px;padding:3px;filter:blur(1.2px)"><div style="position:relative;width:100%;height:100%"><div style="position:absolute;left:0;top:0.00px;width:100%;height:2.44px;background:linear-gradient(90deg,#21e8ea 0.0px,#24e8e6 3.8px,#2fe8d9 7.7px,#47e8bd 11.5px,#5fe8a2 15.3px,#5ee8a2 19.1px,#46e8be 23.0px,#2ee8da 26.8px,#23e8e6 30.6px,#21e8ea 34.4px,#21e8e9 38.2px,#21e8e9 42.1px,#21e8e9 45.9px,#20e8ea 49.7px,#20e8ea 53.6px,#20e8ea 57.4px,#20e8ea 61.2px)"></div><div style="position:absolute;left:0;top:2.04px;width:100%;height:2.44px;background:linear-gradient(90deg,#21e8e9 0.0px,#25e8e4 3.8px,#36e8d0 7.7px,#5ae8a7 11.5px,#7fe87f 15.3px,#7ee880 19.1px,#59e8a9 23.0px,#35e8d2 26.8px,#25e8e4 30.6px,#22e8e8 34.4px,#23e8e6 38.2px,#25e8e4 42.1px,#24e8e5 45.9px,#22e8e8 49.7px,#20e8ea 53.6px,#20e8ea 57.4px,#20e8ea 61.2px)"></div><div style="position:absolute;left:0;top:4.08px;width:100%;height:2.44px;background:linear-gradient(90deg,#21e8e9 0.0px,#26e8e3 3.8px,#3be8cb 7.7px,#67e898 11.5px,#96e867 15.3px,#94e868 19.1px,#65e89b 23.0px,#3ae8cc 26.8px,#26e8e3 30.6px,#24e8e6 34.4px,#2ae8de 38.2px,#30e8d7 42.1px,#2de8db 45.9px,#25e8e4 49.7px,#21e8e9 53.6px,#20e8ea 57.4px,#20e8ea 61.2px)"></div><div style="position:absolute;left:0;top:6.12px;width:100%;height:2.44px;background:linear-gradient(90deg,#21e8e9 0.0px,#26e8e3 3.8px,#3be8cb 7.7px,#67e899 11.5px,#96e867 15.3px,#94e868 19.1px,#65e89b 23.0px,#3ae8cc 26.8px,#27e8e2 30.6px,#27e8e2 34.4px,#34e8d3 38.2px,#40e8c5 42.1px,#3ae8cc 45.9px,#2ae8de 49.7px,#22e8e8 53.6px,#20e8ea 57.4px,#20e8ea 61.2px)"></div><div style="position:absolute;left:0;top:8.16px;width:100%;height:2.44px;background:linear-gradient(90deg,#21e8e9 0.0px,#25e8e4 3.8px,#36e8d1 7.7px,#5ae8a7 11.5px,#7fe87f 15.3px,#7ee880 19.1px,#58e8a9 23.0px,#35e8d2 26.8px,#26e8e4 30.6px,#28e8e1 34.4px,#38e8ce 38.2px,#48e8bc 42.1px,#40e8c4 45.9px,#2de8db 49.7px,#23e8e7 53.6px,#20e8ea 57.4px,#20e8ea 61.2px)"></div><div style="position:absolute;left:0;top:10.20px;width:100%;height:2.44px;background:linear-gradient(90deg,#21e8ea 0.0px,#24e8e6 3.8px,#2fe8d9 7.7px,#47e8bd 11.5px,#5fe8a2 15.3px,#5ee8a3 19.1px,#45e8bf 23.0px,#2ee8da 26.8px,#23e8e7 30.6px,#22e8e8 34.4px,#2ee8da 38.2px,#3ee8c7 42.1px,#3ae8cc 45.9px,#2ae8de 49.7px,#22e8e8 53.6px,#20e8ea 57.4px,#20e8ea 61.2px)"></div><div style="position:absolute;left:0;top:12.24px;width:100%;height:2.44px;background:linear-gradient(90deg,#20e8ea 0.0px,#22e8e8 3.8px,#28e8e1 7.7px,#35e8d2 11.5px,#42e8c3 15.3px,#42e8c3 19.1px,#34e8d3 23.0px,#27e8e2 26.8px,#1ee8ed 30.6px,#1adbf2 34.4px,#1adff2 38.2px,#2ae8df 42.1px,#2de8dc 45.9px,#25e8e4 49.7px,#21e8e9 53.6px,#20e8ea 57.4px,#20e8ea 61.2px)"></div><div style="position:absolute;left:0;top:14.28px;width:100%;height:2.44px;background:linear-gradient(90deg,#20e8ea 0.0px,#21e8e9 3.8px,#24e8e6 7.7px,#29e8df 11.5px,#2fe8d9 15.3px,#2ee8da 19.1px,#28e8e1 23.0px,#22e8e8 26.8px,#1ae5f2 30.6px,#1ab8f2 34.4px,#1ab1f2 38.2px,#1ae5f2 42.1px,#23e8e7 45.9px,#20e8ea 49.7px,#20e8eb 53.6px,#20e8eb 57.4px,#20e8ea 61.2px)"></div><div style="position:absolute;left:0;top:16.32px;width:100%;height:2.44px;background:linear-gradient(90deg,#20e8ea 0.0px,#20e8ea 3.8px,#21e8e9 7.7px,#23e8e7 11.5px,#24e8e6 15.3px,#21e8ea 19.1px,#1ee8ed 23.0px,#1ee8ed 26.8px,#1ae2f2 30.6px,#1aabf2 34.4px,#1aa1f2 38.2px,#1adcf2 42.1px,#1ee8ed 45.9px,#1ce8f0 49.7px,#1ee8ed 53.6px,#20e8eb 57.4px,#20e8eb 61.2px)"></div><div style="position:absolute;left:0;top:18.36px;width:100%;height:2.44px;background:linear-gradient(90deg,#20e8ea 0.0px,#20e8ea 3.8px,#20e8eb 7.7px,#1fe8eb 11.5px,#1ae8f2 15.3px,#1ad9f2 19.1px,#1ad7f2 23.0px,#1ae5f2 26.8px,#1ae5f2 30.6px,#1ac5f2 34.4px,#1abef2 38.2px,#1ae1f2 42.1px,#1be8f1 45.9px,#1adff2 49.7px,#1ae8f1 53.6px,#1fe8eb 57.4px,#20e8eb 61.2px)"></div><div style="position:absolute;left:0;top:20.40px;width:100%;height:2.44px;background:linear-gradient(90deg,#20e8ea 0.0px,#20e8eb 3.8px,#1fe8eb 7.7px,#1de8ee 11.5px,#1adaf2 15.3px,#1ab2f2 19.1px,#1ab1f2 23.0px,#1ad8f2 26.8px,#1ae8f2 30.6px,#1ae1f2 34.4px,#1addf2 38.2px,#1ae7f2 42.1px,#1ae4f2 45.9px,#1acbf2 49.7px,#1ae0f2 53.6px,#1fe8ec 57.4px,#20e8eb 61.2px)"></div><div style="position:absolute;left:0;top:22.44px;width:100%;height:2.44px;background:linear-gradient(90deg,#20e8ea 0.0px,#20e8ea 3.8px,#1fe8eb 7.7px,#1be8f0 11.5px,#1ad1f2 15.3px,#1a9df2 19.1px,#1a9df2 23.0px,#1ad4f2 26.8px,#1ee8ec 30.6px,#1ee8ed 34.4px,#1ae8f1 38.2px,#1ae8f2 42.1px,#1adcf2 45.9px,#1ab1f2 49.7px,#1ad6f2 53.6px,#1ee8ec 57.4px,#1fe8eb 61.2px)"></div><div style="position:absolute;left:0;top:24.48px;width:100%;height:2.44px;background:linear-gradient(90deg,#21e8ea 0.0px,#22e8e8 3.8px,#20e8ea 7.7px,#1be8f1 11.5px,#1ad8f2 15.3px,#1ab6f2 19.1px,#1ab9f2 23.0px,#1ae3f2 26.8px,#26e8e4 30.6px,#23e8e7 34.4px,#1ce8f0 38.2px,#1ae5f2 42.1px,#1ad6f2 45.9px,#1aa0f2 49.7px,#1acff2 53.6px,#1fe8ec 57.4px,#20e8eb 61.2px)"></div><div style="position:absolute;left:0;top:26.52px;width:100%;height:2.44px;background:linear-gradient(90deg,#22e8e8 0.0px,#26e8e4 3.8px,#23e8e7 7.7px,#1be8f1 11.5px,#1adff2 15.3px,#1ad4f2 19.1px,#1adaf2 23.0px,#21e8ea 26.8px,#2ae8df 30.6px,#24e8e6 34.4px,#1ae8f2 38.2px,#1ae0f2 42.1px,#1ad2f2 45.9px,#1aa2f2 49.7px,#1ad2f2 53.6px,#21e8e9 57.4px,#21e8e9 61.2px)"></div><div style="position:absolute;left:0;top:28.56px;width:100%;height:2.44px;background:linear-gradient(90deg,#25e8e5 0.0px,#2de8db 3.8px,#28e8e1 7.7px,#1ae8f2 11.5px,#1adff2 15.3px,#1adaf2 19.1px,#1adff2 23.0px,#1ce8f0 26.8px,#20e8ea 30.6px,#1ae8f2 34.4px,#1addf2 38.2px,#1ad7f2 42.1px,#1acff2 45.9px,#1ab4f2 49.7px,#1adef2 53.6px,#29e8e0 57.4px,#25e8e5 61.2px)"></div><div style="position:absolute;left:0;top:30.60px;width:100%;height:2.44px;background:linear-gradient(90deg,#29e8e0 0.0px,#39e8cd 3.8px,#31e8d7 7.7px,#1ae8f2 11.5px,#1ad8f2 15.3px,#1ad0f2 19.1px,#1acef2 23.0px,#1ad0f2 26.8px,#1ad1f2 30.6px,#1acdf2 34.4px,#1ac8f2 38.2px,#1ac9f2 42.1px,#1acbf2 45.9px,#1ac7f2 49.7px,#1fe8eb 53.6px,#37e8cf 57.4px,#2ce8dd 61.2px)"></div><div style="position:absolute;left:0;top:32.64px;width:100%;height:2.44px;background:linear-gradient(90deg,#2fe8d9 0.0px,#48e8bc 3.8px,#3ce8ca 7.7px,#1ae6f2 11.5px,#1acff2 15.3px,#1abff2 19.1px,#1ab0f2 23.0px,#1aa5f2 26.8px,#1aa0f2 30.6px,#1aa2f2 34.4px,#1aaaf2 38.2px,#1ab5f2 42.1px,#1ac2f2 45.9px,#1ad1f2 49.7px,#2ee8da 53.6px,#4ae8ba 57.4px,#35e8d2 61.2px)"></div><div style="position:absolute;left:0;top:34.68px;width:100%;height:2.44px;background:linear-gradient(90deg,#34e8d2 0.0px,#57e8ab 3.8px,#47e8bd 7.7px,#1ae5f2 11.5px,#1ac4f2 15.3px,#1aaaf2 19.1px,#1a8bf2 23.0px,#1a6df2 26.8px,#1a60f2 30.6px,#1a6cf2 34.4px,#1a85f2 38.2px,#1a9ff2 42.1px,#1ab6f2 45.9px,#1ad2f2 49.7px,#38e8ce 53.6px,#5be8a6 57.4px,#3de8c8 61.2px)"></div><div style="position:absolute;left:0;top:36.72px;width:100%;height:2.44px;background:linear-gradient(90deg,#38e8ce 0.0px,#60e8a0 3.8px,#4de8b6 7.7px,#1ae1f2 11.5px,#1ab9f2 15.3px,#1a94f2 19.1px,#1a63f2 23.0px,#1a32f2 26.8px,#1a1ef2 30.6px,#1a33f2 34.4px,#1a5ff2 38.2px,#1a89f2 42.1px,#1aa9f2 45.9px,#1accf2 49.7px,#3ae8cc 53.6px,#62e89f 57.4px,#40e8c4 61.2px)"></div><div style="position:absolute;left:0;top:38.76px;width:100%;height:2.44px;background:linear-gradient(90deg,#38e8ce 0.0px,#61e8a0 3.8px,#4ce8b7 7.7px,#1adcf2 11.5px,#1aaff2 15.3px,#1a82f2 19.1px,#1a45f2 23.0px,#1908f2 26.8px,#1708d7 30.6px,#1a0af2 34.4px,#1a42f2 38.2px,#1a76f2 42.1px,#1a9df2 45.9px,#1ac4f2 49.7px,#31e8d6 53.6px,#58e8a9 57.4px,#3ce8ca 61.2px)"></div><div style="position:absolute;left:0;top:40.80px;width:100%;height:2.44px;background:linear-gradient(90deg,#34e8d3 0.0px,#57e8aa 3.8px,#42e8c2 7.7px,#1ad6f2 11.5px,#1aa8f2 15.3px,#1a7af2 19.1px,#1a3cf2 23.0px,#1808e8 26.8px,#1608cd 30.6px,#1908e9 34.4px,#1a36f2 38.2px,#1a6bf2 42.1px,#1a94f2 45.9px,#1abaf2 49.7px,#22e8e8 53.6px,#44e8c1 57.4px,#32e8d6 61.2px)"></div><div style="position:absolute;left:0;top:42.84px;width:100%;height:2.44px;background:linear-gradient(90deg,#2ee8da 0.0px,#47e8bd 3.8px,#34e8d3 7.7px,#1acff2 11.5px,#1aa5f2 15.3px,#1a7bf2 19.1px,#1a46f2 23.0px,#1a12f2 26.8px,#1808e6 30.6px,#1a0ff2 34.4px,#1a3af2 38.2px,#1a68f2 42.1px,#1a8ff2 45.9px,#1ab3f2 49.7px,#1adff2 53.6px,#2de8db 57.4px,#26e8e3 61.2px)"></div><div style="position:absolute;left:0;top:44.88px;width:100%;height:2.44px;background:linear-gradient(90deg,#27e8e2 0.0px,#36e8d1 3.8px,#25e8e4 7.7px,#1acaf2 11.5px,#1aa5f2 15.3px,#1a80f2 19.1px,#1a56f2 23.0px,#1a30f2 26.8px,#1a1ef2 30.6px,#1a28f2 34.4px,#1a46f2 38.2px,#1a6af2 42.1px,#1a8ef2 45.9px,#1aaff2 49.7px,#1ad2f2 53.6px,#1ce8f0 57.4px,#1de8ee 61.2px)"></div><div style="position:absolute;left:0;top:46.92px;width:100%;height:2.44px;background:linear-gradient(90deg,#22e8e8 0.0px,#28e8e1 3.8px,#1ae8f2 7.7px,#1ac7f2 11.5px,#1aa8f2 15.3px,#1a88f2 19.1px,#1a66f2 23.0px,#1a49f2 26.8px,#1a3af2 30.6px,#1a3ff2 34.4px,#1a53f2 38.2px,#1a71f2 42.1px,#1a90f2 45.9px,#1aaff2 49.7px,#1acbf2 53.6px,#1adff2 57.4px,#1ae7f2 61.2px)"></div><div style="position:absolute;left:0;top:48.96px;width:100%;height:2.44px;background:linear-gradient(90deg,#1ee8ed 0.0px,#1fe8ec 3.8px,#1ae0f2 7.7px,#1ac7f2 11.5px,#1aadf2 15.3px,#1a90f2 19.1px,#1a73f2 23.0px,#1a5bf2 26.8px,#1a4ff2 30.6px,#1a51f2 34.4px,#1a61f2 38.2px,#1a7af2 42.1px,#1a97f2 45.9px,#1ab2f2 49.7px,#1acaf2 53.6px,#1adbf2 57.4px,#1ae5f2 61.2px)"></div><div style="position:absolute;left:0;top:51.00px;width:100%;height:2.44px;background:linear-gradient(90deg,#1de8ef 0.0px,#1ae8f2 3.8px,#1addf2 7.7px,#1acaf2 11.5px,#1ab4f2 15.3px,#1a9bf2 19.1px,#1a81f2 23.0px,#1a6df2 26.8px,#1a62f2 30.6px,#1a64f2 34.4px,#1a71f2 38.2px,#1a87f2 42.1px,#1aa0f2 45.9px,#1ab8f2 49.7px,#1acdf2 53.6px,#1adcf2 57.4px,#1ae5f2 61.2px)"></div><div style="position:absolute;left:0;top:53.04px;width:100%;height:2.44px;background:linear-gradient(90deg,#1ce8ef 0.0px,#1ae7f2 3.8px,#1adef2 7.7px,#1acff2 11.5px,#1abcf2 15.3px,#1aa7f2 19.1px,#1a91f2 23.0px,#1a80f2 26.8px,#1a77f2 30.6px,#1a78f2 34.4px,#1a83f2 38.2px,#1a95f2 42.1px,#1aabf2 45.9px,#1ac0f2 49.7px,#1ad1f2 53.6px,#1adef2 57.4px,#1ae6f2 61.2px)"></div><div style="position:absolute;left:0;top:55.08px;width:100%;height:2.44px;background:linear-gradient(90deg,#1ce8ef 0.0px,#1ae7f2 3.8px,#1ae0f2 7.7px,#1ad4f2 11.5px,#1ac5f2 15.3px,#1ab4f2 19.1px,#1aa2f2 23.0px,#1a94f2 26.8px,#1a8cf2 30.6px,#1a8df2 34.4px,#1a96f2 38.2px,#1aa5f2 42.1px,#1ab7f2 45.9px,#1ac8f2 49.7px,#1ad7f2 53.6px,#1ae1f2 57.4px,#1ae8f2 61.2px)"></div><div style="position:absolute;left:0;top:57.12px;width:100%;height:2.44px;background:linear-gradient(90deg,#1de8ee 0.0px,#1ae8f1 3.8px,#1ae3f2 7.7px,#1adaf2 11.5px,#1acef2 15.3px,#1ac0f2 19.1px,#1ab2f2 23.0px,#1aa7f2 26.8px,#1aa1f2 30.6px,#1aa2f2 34.4px,#1aa9f2 38.2px,#1ab5f2 42.1px,#1ac3f2 45.9px,#1ad1f2 49.7px,#1adcf2 53.6px,#1ae4f2 57.4px,#1be8f1 61.2px)"></div><div style="position:absolute;left:0;top:59.16px;width:100%;height:2.44px;background:linear-gradient(90deg,#1ee8ed 0.0px,#1ce8f0 3.8px,#1ae6f2 7.7px,#1adff2 11.5px,#1ad6f2 15.3px,#1accf2 19.1px,#1ac2f2 23.0px,#1ab9f2 26.8px,#1ab5f2 30.6px,#1ab5f2 34.4px,#1abaf2 38.2px,#1ac3f2 42.1px,#1acef2 45.9px,#1ad8f2 49.7px,#1ae1f2 53.6px,#1ae7f2 57.4px,#1ce8ef 61.2px)"></div></div></div></div><div style="position:absolute;left:112.5px;top:465.7px;width:61.2px;height:61.2px;border-radius:50%;overflow:hidden"><div style="position:absolute;left:-3px;top:-3px;width:61.2px;height:61.2px;padding:3px;filter:blur(1.2px)"><div style="position:relative;width:100%;height:100%"><div style="position:absolute;left:0;top:0.00px;width:100%;height:2.44px;background:linear-gradient(90deg,#5ee8a3 0.0px,#5ee8a3 3.8px,#5ee8a3 7.7px,#5ee8a3 11.5px,#5ee8a3 15.3px,#5ee8a3 19.1px,#5ee8a3 23.0px,#5ee8a3 26.8px,#5ee8a3 30.6px,#5ee8a3 34.4px,#5ee8a3 38.2px,#5ee8a3 42.1px,#5ee8a3 45.9px,#5ee8a3 49.7px,#5ee8a3 53.6px,#5ee8a3 57.4px,#5ee8a3 61.2px)"></div><div style="position:absolute;left:0;top:2.04px;width:100%;height:2.44px;background:linear-gradient(90deg,#5ee8a3 0.0px,#5ee8a3 3.8px,#5ee8a3 7.7px,#5ee8a3 11.5px,#5ee8a3 15.3px,#5ee8a3 19.1px,#5ee8a3 23.0px,#5ee8a3 26.8px,#5ee8a3 30.6px,#5ee8a3 34.4px,#5ee8a3 38.2px,#5ee8a3 42.1px,#5ee8a3 45.9px,#5ee8a3 49.7px,#5ee8a3 53.6px,#5ee8a3 57.4px,#5ee8a3 61.2px)"></div><div style="position:absolute;left:0;top:4.08px;width:100%;height:2.44px;background:linear-gradient(90deg,#5ee8a3 0.0px,#5ee8a3 3.8px,#5ee8a3 7.7px,#5ee8a3 11.5px,#5ee8a3 15.3px,#5ee8a3 19.1px,#5ee8a3 23.0px,#5ee8a3 26.8px,#5de8a4 30.6px,#5ee8a3 34.4px,#5ee8a3 38.2px,#5ee8a3 42.1px,#5ee8a3 45.9px,#5ee8a3 49.7px,#5ee8a3 53.6px,#5ee8a3 57.4px,#5ee8a3 61.2px)"></div><div style="position:absolute;left:0;top:6.12px;width:100%;height:2.44px;background:linear-gradient(90deg,#5ee8a3 0.0px,#5ee8a3 3.8px,#5ee8a3 7.7px,#5ee8a3 11.5px,#5ee8a3 15.3px,#5ee8a3 19.1px,#5ee8a3 23.0px,#5de8a4 26.8px,#5be8a6 30.6px,#5de8a4 34.4px,#5ee8a3 38.2px,#5ee8a3 42.1px,#5fe8a2 45.9px,#5fe8a2 49.7px,#5ee8a3 53.6px,#5ee8a3 57.4px,#5ee8a3 61.2px)"></div><div style="position:absolute;left:0;top:8.16px;width:100%;height:2.44px;background:linear-gradient(90deg,#5ee8a3 0.0px,#5ee8a3 3.8px,#5ee8a3 7.7px,#5ee8a3 11.5px,#5ee8a3 15.3px,#5ee8a3 19.1px,#5ee8a3 23.0px,#5ae8a7 26.8px,#52e8b0 30.6px,#5ae8a7 34.4px,#5ee8a3 38.2px,#5fe8a1 42.1px,#63e89d 45.9px,#62e89f 49.7px,#5ee8a2 53.6px,#5ee8a3 57.4px,#5ee8a3 61.2px)"></div><div style="position:absolute;left:0;top:10.20px;width:100%;height:2.44px;background:linear-gradient(90deg,#5ee8a3 0.0px,#5ee8a3 3.8px,#5ee8a3 7.7px,#5ee8a3 11.5px,#5ee8a3 15.3px,#5ee8a3 19.1px,#5ee8a3 23.0px,#54e8ae 26.8px,#3de8c8 30.6px,#54e8ae 34.4px,#5ee8a3 38.2px,#64e89d 42.1px,#73e88c 45.9px,#6ee892 49.7px,#60e8a0 53.6px,#5ee8a3 57.4px,#5ee8a3 61.2px)"></div><div style="position:absolute;left:0;top:12.24px;width:100%;height:2.44px;background:linear-gradient(90deg,#5ee8a3 0.0px,#5ee8a3 3.8px,#5ee8a3 7.7px,#5ee8a3 11.5px,#5ee8a3 15.3px,#5ee8a3 19.1px,#5de8a4 23.0px,#4ce8b7 26.8px,#23e8e7 30.6px,#4ce8b7 34.4px,#5ee8a3 38.2px,#6ce894 42.1px,#91e86c 45.9px,#84e87a 49.7px,#64e89d 53.6px,#5ee8a3 57.4px,#5ee8a3 61.2px)"></div><div style="position:absolute;left:0;top:14.28px;width:100%;height:2.44px;background:linear-gradient(90deg,#5ee8a3 0.0px,#5ee8a3 3.8px,#5ee8a3 7.7px,#5ee8a3 11.5px,#5ee8a3 15.3px,#5de8a4 19.1px,#5ce8a5 23.0px,#49e8bb 26.8px,#1ae8f2 30.6px,#49e8ba 34.4px,#5ee8a2 38.2px,#73e88c 42.1px,#ace84f 45.9px,#98e864 49.7px,#67e899 53.6px,#5ee8a3 57.4px,#5ee8a3 61.2px)"></div><div style="position:absolute;left:0;top:16.32px;width:100%;height:2.44px;background:linear-gradient(90deg,#5ee8a3 0.0px,#5ee8a3 3.8px,#5ee8a3 7.7px,#5ee8a3 11.5px,#5ee8a3 15.3px,#59e8a8 19.1px,#51e8b1 23.0px,#4be8b8 26.8px,#2ae8de 30.6px,#4ee8b5 34.4px,#5fe8a2 38.2px,#72e88c 42.1px,#aae851 45.9px,#97e865 49.7px,#67e899 53.6px,#5ee8a3 57.4px,#5ee8a3 61.2px)"></div><div style="position:absolute;left:0;top:18.36px;width:100%;height:2.44px;background:linear-gradient(90deg,#5ee8a3 0.0px,#5ee8a3 3.8px,#5fe8a2 7.7px,#5fe8a2 11.5px,#5de8a4 15.3px,#4be8b8 19.1px,#2be8dd 23.0px,#4ae8ba 26.8px,#44e8c0 30.6px,#56e8ac 34.4px,#5ee8a3 38.2px,#6be895 42.1px,#8de870 45.9px,#81e87c 49.7px,#63e89d 53.6px,#5ee8a3 57.4px,#5ee8a3 61.2px)"></div><div style="position:absolute;left:0;top:20.40px;width:100%;height:2.44px;background:linear-gradient(90deg,#5ee8a3 0.0px,#5fe8a2 3.8px,#62e89e 7.7px,#61e8a0 11.5px,#5de8a4 15.3px,#36e8d0 19.1px,#1abdf2 23.0px,#41e8c4 26.8px,#55e8ad 30.6px,#5be8a6 34.4px,#5ee8a3 38.2px,#63e89d 42.1px,#71e88f 45.9px,#6ce894 49.7px,#60e8a1 53.6px,#5ee8a3 57.4px,#5ee8a3 61.2px)"></div><div style="position:absolute;left:0;top:22.44px;width:100%;height:2.44px;background:linear-gradient(90deg,#5ee8a3 0.0px,#62e89f 3.8px,#6be895 7.7px,#66e89a 11.5px,#5ee8a3 15.3px,#34e8d3 19.1px,#1ab4f2 23.0px,#41e8c4 26.8px,#5ce8a6 30.6px,#5de8a4 34.4px,#5ee8a3 38.2px,#5fe8a2 42.1px,#63e89e 45.9px,#61e89f 49.7px,#5fe8a2 53.6px,#5ee8a2 57.4px,#5ee8a3 61.2px)"></div><div style="position:absolute;left:0;top:24.48px;width:100%;height:2.44px;background:linear-gradient(90deg,#5ee8a3 0.0px,#66e89a 3.8px,#78e887 7.7px,#6fe890 11.5px,#5fe8a1 15.3px,#47e8bd 19.1px,#20e8eb 23.0px,#4ee8b5 26.8px,#5de8a4 30.6px,#5ee8a3 34.4px,#5ee8a3 38.2px,#5ee8a3 42.1px,#5fe8a2 45.9px,#5ee8a2 49.7px,#5fe8a2 53.6px,#60e8a0 57.4px,#60e8a1 61.2px)"></div><div style="position:absolute;left:0;top:26.52px;width:100%;height:2.44px;background:linear-gradient(90deg,#5fe8a2 0.0px,#6ae896 3.8px,#84e87a 7.7px,#77e888 11.5px,#61e8a0 15.3px,#58e8aa 19.1px,#4ce8b7 23.0px,#59e8a8 26.8px,#5de8a4 30.6px,#5de8a4 34.4px,#5ee8a3 38.2px,#5ee8a3 42.1px,#5ee8a3 45.9px,#5ee8a3 49.7px,#60e8a1 53.6px,#66e89a 57.4px,#63e89d 61.2px)"></div><div style="position:absolute;left:0;top:28.56px;width:100%;height:2.44px;background:linear-gradient(90deg,#5fe8a2 0.0px,#6be895 3.8px,#87e876 7.7px,#79e885 11.5px,#61e8a0 15.3px,#5ce8a5 19.1px,#5ae8a7 23.0px,#5ce8a5 26.8px,#5ce8a5 30.6px,#5ce8a5 34.4px,#5de8a4 38.2px,#5de8a4 42.1px,#5ee8a4 45.9px,#5ee8a3 49.7px,#64e89d 53.6px,#72e88d 57.4px,#6ce893 61.2px)"></div><div style="position:absolute;left:0;top:30.60px;width:100%;height:2.44px;background:linear-gradient(90deg,#5ee8a2 0.0px,#68e898 3.8px,#7fe87f 7.7px,#73e88c 11.5px,#5fe8a2 15.3px,#5ae8a7 19.1px,#59e8a8 23.0px,#59e8a9 26.8px,#59e8a9 30.6px,#5ae8a8 34.4px,#5be8a7 38.2px,#5ce8a5 42.1px,#5de8a4 45.9px,#5ee8a3 49.7px,#6ae895 53.6px,#89e874 57.4px,#7ce882 61.2px)"></div><div style="position:absolute;left:0;top:32.64px;width:100%;height:2.44px;background:linear-gradient(90deg,#5ee8a3 0.0px,#65e89b 3.8px,#75e889 7.7px,#6ce894 11.5px,#59e8a8 15.3px,#52e8b0 19.1px,#52e8b1 23.0px,#51e8b2 26.8px,#51e8b2 30.6px,#52e8b0 34.4px,#56e8ac 38.2px,#59e8a9 42.1px,#5be8a6 45.9px,#5ee8a3 49.7px,#73e88c 53.6px,#aae852 57.4px,#93e86a 61.2px)"></div><div style="position:absolute;left:0;top:34.68px;width:100%;height:2.44px;background:linear-gradient(90deg,#5ee8a3 0.0px,#65e89b 3.8px,#75e88a 7.7px,#69e897 11.5px,#4ee8b4 15.3px,#3fe8c6 19.1px,#41e8c4 23.0px,#41e8c4 26.8px,#41e8c4 30.6px,#45e8bf 34.4px,#4ce8b7 38.2px,#53e8af 42.1px,#58e8a9 45.9px,#5de8a4 49.7px,#7ce882 53.6px,#cbe831 57.4px,#aae852 61.2px)"></div><div style="position:absolute;left:0;top:36.72px;width:100%;height:2.44px;background:linear-gradient(90deg,#5ee8a3 0.0px,#68e898 3.8px,#7ee880 7.7px,#6ae895 11.5px,#3de8c9 15.3px,#1fe8eb 19.1px,#27e8e2 23.0px,#2ae8de 26.8px,#2ae8de 30.6px,#32e8d6 34.4px,#3ee8c7 38.2px,#4ae8b9 42.1px,#54e8ae 45.9px,#5ce8a6 49.7px,#80e87e 53.6px,#dde81f 57.4px,#b7e845 61.2px)"></div><div style="position:absolute;left:0;top:38.76px;width:100%;height:2.44px;background:linear-gradient(90deg,#5ee8a3 0.0px,#69e897 3.8px,#83e87b 7.7px,#69e897 11.5px,#2ce8dd 15.3px,#1accf2 19.1px,#1adaf2 23.0px,#1ae0f2 26.8px,#1ae0f2 30.6px,#1de8ee 34.4px,#2fe8d9 38.2px,#41e8c4 42.1px,#4fe8b4 45.9px,#5ae8a8 49.7px,#7ee880 53.6px,#d6e825 57.4px,#b2e84a 61.2px)"></div><div style="position:absolute;left:0;top:40.80px;width:100%;height:2.44px;background:linear-gradient(90deg,#5ee8a3 0.0px,#66e89a 3.8px,#78e886 7.7px,#61e8a0 11.5px,#26e8e3 15.3px,#1ac3f2 19.1px,#1accf2 23.0px,#1acef2 26.8px,#1acef2 30.6px,#1addf2 34.4px,#25e8e5 38.2px,#3be8cb 42.1px,#4ce8b7 45.9px,#58e8aa 49.7px,#76e889 53.6px,#bae841 57.4px,#9fe85d 61.2px)"></div><div style="position:absolute;left:0;top:42.84px;width:100%;height:2.44px;background:linear-gradient(90deg,#5de8a4 0.0px,#61e8a0 3.8px,#68e898 7.7px,#57e8aa 11.5px,#2fe8d9 15.3px,#1ad7f2 19.1px,#1ad4f2 23.0px,#1acff2 26.8px,#1acef2 30.6px,#1addf2 34.4px,#25e8e5 38.2px,#3be8cb 42.1px,#4ce8b7 45.9px,#57e8ab 49.7px,#6ce894 53.6px,#98e865 57.4px,#87e876 61.2px)"></div><div style="position:absolute;left:0;top:44.88px;width:100%;height:2.44px;background:linear-gradient(90deg,#5de8a4 0.0px,#5ee8a3 3.8px,#5ee8a3 7.7px,#54e8ae 11.5px,#3ee8c8 15.3px,#26e8e3 19.1px,#1ce8f0 23.0px,#1ae1f2 26.8px,#1ae0f2 30.6px,#1de8ee 34.4px,#2fe8d9 38.2px,#41e8c4 42.1px,#4fe8b4 45.9px,#58e8aa 49.7px,#64e89c 53.6px,#7ce883 57.4px,#73e88c 61.2px)"></div><div style="position:absolute;left:0;top:46.92px;width:100%;height:2.44px;background:linear-gradient(90deg,#5de8a4 0.0px,#5de8a4 3.8px,#5be8a6 7.7px,#56e8ac 11.5px,#4be8b9 15.3px,#3de8c8 19.1px,#33e8d4 23.0px,#2be8dd 26.8px,#2ae8df 30.6px,#31e8d6 34.4px,#3ee8c7 38.2px,#4ae8b9 42.1px,#54e8ae 45.9px,#5ae8a8 49.7px,#60e8a1 53.6px,#6ae895 57.4px,#67e899 61.2px)"></div><div style="position:absolute;left:0;top:48.96px;width:100%;height:2.44px;background:linear-gradient(90deg,#5ee8a3 0.0px,#5de8a4 3.8px,#5ce8a5 7.7px,#59e8a8 11.5px,#54e8ae 15.3px,#4de8b6 19.1px,#46e8be 23.0px,#40e8c5 26.8px,#3be8cb 30.6px,#43e8c1 34.4px,#4ce8b7 38.2px,#53e8af 42.1px,#58e8a9 45.9px,#5ce8a6 49.7px,#5ee8a3 53.6px,#62e89e 57.4px,#61e8a0 61.2px)"></div><div style="position:absolute;left:0;top:51.00px;width:100%;height:2.44px;background:linear-gradient(90deg,#5ee8a3 0.0px,#5de8a4 3.8px,#5de8a4 7.7px,#5ce8a6 11.5px,#59e8a8 15.3px,#56e8ac 19.1px,#53e8af 23.0px,#49e8ba 26.8px,#38e8ce 30.6px,#4be8b8 34.4px,#55e8ac 38.2px,#59e8a9 42.1px,#5be8a6 45.9px,#5de8a4 49.7px,#5ee8a3 53.6px,#5fe8a2 57.4px,#5fe8a2 61.2px)"></div><div style="position:absolute;left:0;top:53.04px;width:100%;height:2.44px;background:linear-gradient(90deg,#5ee8a3 0.0px,#5ee8a3 3.8px,#5de8a4 7.7px,#5de8a4 11.5px,#5ce8a5 15.3px,#5be8a6 19.1px,#59e8a8 23.0px,#45e8bf 26.8px,#1ae7f2 30.6px,#46e8be 34.4px,#5ae8a7 38.2px,#5ce8a5 42.1px,#5de8a4 45.9px,#5de8a4 49.7px,#5ee8a3 53.6px,#5ee8a3 57.4px,#5ee8a3 61.2px)"></div><div style="position:absolute;left:0;top:55.08px;width:100%;height:2.44px;background:linear-gradient(90deg,#5ee8a3 0.0px,#5ee8a3 3.8px,#5ee8a3 7.7px,#5ee8a3 11.5px,#5de8a4 15.3px,#5de8a4 19.1px,#5ce8a6 23.0px,#3be8cb 26.8px,#1ab9f2 30.6px,#3be8ca 34.4px,#5ce8a5 38.2px,#5de8a4 42.1px,#5de8a4 45.9px,#5ee8a3 49.7px,#5ee8a3 53.6px,#5ee8a3 57.4px,#5ee8a3 61.2px)"></div><div style="position:absolute;left:0;top:57.12px;width:100%;height:2.44px;background:linear-gradient(90deg,#5ee8a3 0.0px,#5ee8a3 3.8px,#5ee8a3 7.7px,#5ee8a3 11.5px,#5ee8a3 15.3px,#5ee8a3 19.1px,#5de8a5 23.0px,#39e8cd 26.8px,#1aaef2 30.6px,#39e8cd 34.4px,#5de8a5 38.2px,#5ee8a3 42.1px,#5ee8a3 45.9px,#5ee8a3 49.7px,#5ee8a3 53.6px,#5ee8a3 57.4px,#5ee8a3 61.2px)"></div><div style="position:absolute;left:0;top:59.16px;width:100%;height:2.44px;background:linear-gradient(90deg,#5ee8a3 0.0px,#5ee8a3 3.8px,#5ee8a3 7.7px,#5ee8a3 11.5px,#5ee8a3 15.3px,#5ee8a3 19.1px,#5de8a4 23.0px,#44e8c0 26.8px,#1ad6f2 30.6px,#44e8c0 34.4px,#5de8a4 38.2px,#5ee8a3 42.1px,#5ee8a3 45.9px,#5ee8a3 49.7px,#5ee8a3 53.6px,#5ee8a3 57.4px,#5ee8a3 61.2px)"></div></div></div></div><div style="position:absolute;left:322.9px;top:465.7px;width:61.2px;height:61.2px;border-radius:50%;overflow:hidden"><div style="position:absolute;left:-3px;top:-3px;width:61.2px;height:61.2px;padding:3px;filter:blur(1.2px)"><div style="position:relative;width:100%;height:100%"><div style="position:absolute;left:0;top:0.00px;width:100%;height:2.44px;background:linear-gradient(90deg,#5ee8a3 0.0px,#5ee8a3 3.8px,#5fe8a2 7.7px,#68e898 11.5px,#86e877 15.3px,#ade84f 19.1px,#a9e853 23.0px,#81e87d 26.8px,#66e89a 30.6px,#5fe8a2 34.4px,#5ee8a3 38.2px,#5ee8a3 42.1px,#5ee8a3 45.9px,#5ee8a3 49.7px,#5ee8a3 53.6px,#5ee8a3 57.4px,#5ee8a3 61.2px)"></div><div style="position:absolute;left:0;top:2.04px;width:100%;height:2.44px;background:linear-gradient(90deg,#5ee8a3 0.0px,#5ee8a3 3.8px,#60e8a1 7.7px,#6ee891 11.5px,#9ee85f 15.3px,#dce81f 19.1px,#d7e825 23.0px,#96e867 26.8px,#6be895 30.6px,#5fe8a2 34.4px,#5ee8a3 38.2px,#5ee8a3 42.1px,#5ee8a3 45.9px,#5ee8a3 49.7px,#5ee8a3 53.6px,#5ee8a3 57.4px,#5ee8a3 61.2px)"></div><div style="position:absolute;left:0;top:4.08px;width:100%;height:2.44px;background:linear-gradient(90deg,#5ee8a3 0.0px,#5ee8a3 3.8px,#5fe8a1 7.7px,#6ae895 11.5px,#8fe86e 15.3px,#bfe83c 19.1px,#bbe841 23.0px,#89e875 26.8px,#67e899 30.6px,#5ee8a3 34.4px,#5de8a4 38.2px,#5de8a4 42.1px,#5ee8a3 45.9px,#5ee8a3 49.7px,#5ee8a3 53.6px,#5ee8a3 57.4px,#5ee8a3 61.2px)"></div><div style="position:absolute;left:0;top:6.12px;width:100%;height:2.44px;background:linear-gradient(90deg,#5ee8a3 0.0px,#5ee8a3 3.8px,#5ee8a3 7.7px,#62e89e 11.5px,#70e88f 15.3px,#82e87c 19.1px,#7fe87f 23.0px,#6ce894 26.8px,#5fe8a2 30.6px,#5be8a6 34.4px,#5ce8a6 38.2px,#5ce8a5 42.1px,#5de8a4 45.9px,#5de8a4 49.7px,#5ee8a3 53.6px,#5ee8a3 57.4px,#5ee8a3 61.2px)"></div><div style="position:absolute;left:0;top:8.16px;width:100%;height:2.44px;background:linear-gradient(90deg,#5ee8a3 0.0px,#5de8a4 3.8px,#5de8a4 7.7px,#5ee8a3 11.5px,#60e8a1 15.3px,#61e89f 19.1px,#5fe8a2 23.0px,#59e8a9 26.8px,#54e8af 30.6px,#54e8ae 34.4px,#57e8ab 38.2px,#59e8a8 42.1px,#5be8a6 45.9px,#5de8a4 49.7px,#5de8a4 53.6px,#5ee8a3 57.4px,#5ee8a3 61.2px)"></div><div style="position:absolute;left:0;top:10.20px;width:100%;height:2.44px;background:linear-gradient(90deg,#5de8a4 0.0px,#5ce8a5 3.8px,#5ce8a5 7.7px,#5ce8a6 11.5px,#5ae8a8 15.3px,#56e8ac 19.1px,#51e8b2 23.0px,#4ae8b9 26.8px,#3de8c8 30.6px,#43e8c2 34.4px,#4ee8b5 38.2px,#54e8af 42.1px,#58e8aa 45.9px,#5be8a6 49.7px,#5de8a4 53.6px,#5de8a4 57.4px,#5ee8a3 61.2px)"></div><div style="position:absolute;left:0;top:12.24px;width:100%;height:2.44px;background:linear-gradient(90deg,#5de8a4 0.0px,#5ae8a7 3.8px,#59e8a8 7.7px,#59e8a8 11.5px,#55e8ad 15.3px,#4de8b6 19.1px,#44e8c0 23.0px,#37e8cf 26.8px,#1ae4f2 30.6px,#24e8e6 34.4px,#3fe8c6 38.2px,#4ae8b9 42.1px,#53e8af 45.9px,#59e8a9 49.7px,#5ce8a5 53.6px,#5de8a4 57.4px,#5ee8a3 61.2px)"></div><div style="position:absolute;left:0;top:14.28px;width:100%;height:2.44px;background:linear-gradient(90deg,#5ce8a6 0.0px,#55e8ae 3.8px,#54e8ae 7.7px,#56e8ac 11.5px,#50e8b3 15.3px,#44e8c0 19.1px,#35e8d1 23.0px,#22e8e8 26.8px,#1abdf2 30.6px,#1ad1f2 34.4px,#28e8e1 38.2px,#3ee8c7 42.1px,#4de8b6 45.9px,#56e8ac 49.7px,#5be8a7 53.6px,#5de8a4 57.4px,#5de8a4 61.2px)"></div><div style="position:absolute;left:0;top:16.32px;width:100%;height:2.44px;background:linear-gradient(90deg,#59e8a8 0.0px,#4be8b8 3.8px,#4be8b9 7.7px,#53e8af 11.5px,#4ce8b7 15.3px,#3de8c9 19.1px,#2ae8df 23.0px,#1ae3f2 26.8px,#1ab9f2 30.6px,#1ac0f2 34.4px,#1ad2f2 38.2px,#30e8d8 42.1px,#48e8bc 45.9px,#53e8af 49.7px,#5ae8a8 53.6px,#5ce8a5 57.4px,#5de8a4 61.2px)"></div><div style="position:absolute;left:0;top:18.36px;width:100%;height:2.44px;background:linear-gradient(90deg,#57e8ab 0.0px,#3fe8c6 3.8px,#40e8c5 7.7px,#50e8b2 11.5px,#4be8b8 15.3px,#3be8cb 19.1px,#27e8e2 23.0px,#1ae2f2 26.8px,#1accf2 30.6px,#1abef2 34.4px,#1aadf2 38.2px,#26e8e3 42.1px,#46e8be 45.9px,#53e8b0 49.7px,#59e8a8 53.6px,#5ce8a5 57.4px,#5de8a4 61.2px)"></div><div style="position:absolute;left:0;top:20.40px;width:100%;height:2.44px;background:linear-gradient(90deg,#54e8ae 0.0px,#34e8d3 3.8px,#35e8d1 7.7px,#4fe8b4 11.5px,#4de8b6 15.3px,#3fe8c6 19.1px,#2ee8da 23.0px,#1ee8ed 26.8px,#1ae2f2 30.6px,#1acff2 34.4px,#1ab4f2 38.2px,#2be8de 42.1px,#49e8ba 45.9px,#54e8ae 49.7px,#5ae8a7 53.6px,#5de8a5 57.4px,#5de8a4 61.2px)"></div><div style="position:absolute;left:0;top:22.44px;width:100%;height:2.44px;background:linear-gradient(90deg,#52e8b0 0.0px,#2ee8da 3.8px,#31e8d7 7.7px,#50e8b2 11.5px,#52e8b1 15.3px,#48e8bc 19.1px,#3be8ca 23.0px,#30e8d8 26.8px,#2ae8df 30.6px,#22e8e8 34.4px,#1ae6f2 38.2px,#3ce8ca 42.1px,#4fe8b4 45.9px,#57e8ab 49.7px,#5be8a6 53.6px,#5de8a4 57.4px,#5ee8a3 61.2px)"></div><div style="position:absolute;left:0;top:24.48px;width:100%;height:2.44px;background:linear-gradient(90deg,#53e8af 0.0px,#31e8d7 3.8px,#34e8d3 7.7px,#53e8af 11.5px,#57e8ab 15.3px,#51e8b2 19.1px,#49e8ba 23.0px,#43e8c2 26.8px,#3fe8c6 30.6px,#3ee8c7 34.4px,#3ee8c7 38.2px,#4ce8b7 42.1px,#55e8ad 45.9px,#5ae8a8 49.7px,#5ce8a5 53.6px,#5de8a4 57.4px,#5ee8a3 61.2px)"></div><div style="position:absolute;left:0;top:26.52px;width:100%;height:2.44px;background:linear-gradient(90deg,#56e8ac 0.0px,#3be8cb 3.8px,#3ee8c8 7.7px,#56e8ac 11.5px,#5ae8a7 15.3px,#58e8aa 19.1px,#54e8ae 23.0px,#51e8b2 26.8px,#4fe8b4 30.6px,#4fe8b3 34.4px,#52e8b1 38.2px,#56e8ac 42.1px,#5ae8a8 45.9px,#5ce8a5 49.7px,#5de8a4 53.6px,#5ee8a3 57.4px,#5ee8a3 61.2px)"></div><div style="position:absolute;left:0;top:28.56px;width:100%;height:2.44px;background:linear-gradient(90deg,#59e8a9 0.0px,#47e8bc 3.8px,#49e8ba 7.7px,#59e8a8 11.5px,#5ce8a5 15.3px,#5be8a6 19.1px,#5ae8a8 23.0px,#59e8a9 26.8px,#58e8aa 30.6px,#58e8a9 34.4px,#59e8a8 38.2px,#5be8a6 42.1px,#5ce8a5 45.9px,#5de8a4 49.7px,#5fe8a1 53.6px,#61e8a0 57.4px,#5fe8a2 61.2px)"></div><div style="position:absolute;left:0;top:30.60px;width:100%;height:2.44px;background:linear-gradient(90deg,#5be8a6 0.0px,#52e8b0 3.8px,#54e8af 7.7px,#5ce8a5 11.5px,#5de8a4 15.3px,#5de8a4 19.1px,#5de8a5 23.0px,#5ce8a5 26.8px,#5ce8a5 30.6px,#5ce8a5 34.4px,#5ce8a5 38.2px,#5de8a4 42.1px,#5de8a4 45.9px,#5ee8a3 49.7px,#65e89b 53.6px,#6be895 57.4px,#63e89e 61.2px)"></div><div style="position:absolute;left:0;top:32.64px;width:100%;height:2.44px;background:linear-gradient(90deg,#5de8a4 0.0px,#59e8a8 3.8px,#5ce8a5 7.7px,#5fe8a2 11.5px,#5ee8a3 15.3px,#5ee8a3 19.1px,#5de8a4 23.0px,#5de8a4 26.8px,#5de8a4 30.6px,#5de8a4 34.4px,#5de8a4 38.2px,#5ee8a4 42.1px,#5ee8a3 45.9px,#60e8a1 49.7px,#72e88d 53.6px,#83e87b 57.4px,#6ce894 61.2px)"></div><div style="position:absolute;left:0;top:34.68px;width:100%;height:2.44px;background:linear-gradient(90deg,#5de8a4 0.0px,#5ee8a3 3.8px,#66e89a 7.7px,#66e89a 11.5px,#5fe8a2 15.3px,#5ee8a3 19.1px,#5ee8a3 23.0px,#5ee8a3 26.8px,#5de8a4 30.6px,#5de8a4 34.4px,#5de8a4 38.2px,#5de8a4 42.1px,#5ee8a3 45.9px,#63e89e 49.7px,#88e875 53.6px,#ace850 57.4px,#7be884 61.2px)"></div><div style="position:absolute;left:0;top:36.72px;width:100%;height:2.44px;background:linear-gradient(90deg,#5ee8a3 0.0px,#64e89d 3.8px,#77e887 7.7px,#74e88b 11.5px,#62e89f 15.3px,#5ee8a3 19.1px,#5ee8a3 23.0px,#5de8a4 26.8px,#5be8a6 30.6px,#59e8a9 34.4px,#58e8a9 38.2px,#5be8a6 42.1px,#5ee8a3 45.9px,#65e89b 49.7px,#9ee85e 53.6px,#d6e825 57.4px,#8ae873 61.2px)"></div><div style="position:absolute;left:0;top:38.76px;width:100%;height:2.44px;background:linear-gradient(90deg,#5ee8a3 0.0px,#6ae896 3.8px,#91e86c 7.7px,#89e874 11.5px,#65e89b 15.3px,#5ee8a3 19.1px,#5de8a4 23.0px,#5ae8a8 26.8px,#53e8af 30.6px,#48e8bc 34.4px,#44e8c0 38.2px,#52e8b0 42.1px,#5ce8a5 45.9px,#66e89a 49.7px,#a6e856 53.6px,#e5e817 57.4px,#8fe86e 61.2px)"></div><div style="position:absolute;left:0;top:40.80px;width:100%;height:2.44px;background:linear-gradient(90deg,#5fe8a2 0.0px,#6fe890 3.8px,#a7e855 7.7px,#9ce860 11.5px,#69e897 15.3px,#5ee8a3 19.1px,#5be8a7 23.0px,#51e8b1 26.8px,#3de8c8 30.6px,#1ce8ef 34.4px,#1ae0f2 38.2px,#3ae8cb 42.1px,#58e8aa 45.9px,#64e89c 49.7px,#99e864 53.6px,#cbe830 57.4px,#86e878 61.2px)"></div><div style="position:absolute;left:0;top:42.84px;width:100%;height:2.44px;background:linear-gradient(90deg,#5fe8a2 0.0px,#70e88f 3.8px,#abe851 7.7px,#9fe85d 11.5px,#69e897 15.3px,#5de8a4 19.1px,#58e8aa 23.0px,#45e8bf 26.8px,#1fe8eb 30.6px,#1aa7f2 34.4px,#1a91f2 38.2px,#1ae8f1 42.1px,#53e8b0 45.9px,#61e89f 49.7px,#81e87d 53.6px,#9ee85e 57.4px,#76e889 61.2px)"></div><div style="position:absolute;left:0;top:44.88px;width:100%;height:2.44px;background:linear-gradient(90deg,#5ee8a2 0.0px,#6ce894 3.8px,#98e864 7.7px,#90e86d 11.5px,#66e89a 15.3px,#5de8a4 19.1px,#56e8ac 23.0px,#3fe8c6 26.8px,#1adef2 30.6px,#1a84f2 34.4px,#1a69f2 38.2px,#1ad7f2 42.1px,#50e8b3 45.9px,#5fe8a2 49.7px,#6de892 53.6px,#7ae885 57.4px,#68e898 61.2px)"></div><div style="position:absolute;left:0;top:46.92px;width:100%;height:2.44px;background:linear-gradient(90deg,#5ee8a3 0.0px,#66e89a 3.8px,#7ee87f 7.7px,#7ae885 11.5px,#63e89e 15.3px,#5de8a4 19.1px,#58e8aa 23.0px,#45e8bf 26.8px,#1ee8ed 30.6px,#1aa6f2 34.4px,#1a91f2 38.2px,#1ae8f1 42.1px,#52e8b0 45.9px,#5ee8a3 49.7px,#63e89e 53.6px,#67e899 57.4px,#61e89f 61.2px)"></div><div style="position:absolute;left:0;top:48.96px;width:100%;height:2.44px;background:linear-gradient(90deg,#5ee8a3 0.0px,#61e8a0 3.8px,#6be894 7.7px,#69e897 11.5px,#60e8a1 15.3px,#5de8a4 19.1px,#5be8a7 23.0px,#4fe8b3 26.8px,#35e8d2 30.6px,#1ae7f2 34.4px,#1ae0f2 38.2px,#3ae8cb 42.1px,#58e8aa 45.9px,#5ee8a3 49.7px,#5fe8a2 53.6px,#60e8a1 57.4px,#5fe8a2 61.2px)"></div><div style="position:absolute;left:0;top:51.00px;width:100%;height:2.44px;background:linear-gradient(90deg,#5ee8a3 0.0px,#5fe8a2 3.8px,#62e89f 7.7px,#61e89f 11.5px,#5ee8a3 15.3px,#5ee8a3 19.1px,#5de8a5 23.0px,#53e8b0 26.8px,#31e8d7 30.6px,#39e8cd 34.4px,#44e8c1 38.2px,#52e8b0 42.1px,#5ce8a5 45.9px,#5ee8a3 49.7px,#5ee8a3 53.6px,#5ee8a3 57.4px,#5ee8a3 61.2px)"></div><div style="position:absolute;left:0;top:53.04px;width:100%;height:2.44px;background:linear-gradient(90deg,#5ee8a3 0.0px,#5ee8a3 3.8px,#5fe8a2 7.7px,#5fe8a2 11.5px,#5ee8a3 15.3px,#5ee8a3 19.1px,#5de8a4 23.0px,#4ae8b9 26.8px,#1acdf2 30.6px,#31e8d6 34.4px,#57e8ab 38.2px,#5be8a6 42.1px,#5de8a4 45.9px,#5ee8a3 49.7px,#5ee8a3 53.6px,#5ee8a3 57.4px,#5ee8a3 61.2px)"></div><div style="position:absolute;left:0;top:55.08px;width:100%;height:2.44px;background:linear-gradient(90deg,#5ee8a3 0.0px,#5ee8a3 3.8px,#5ee8a3 7.7px,#5ee8a3 11.5px,#5ee8a3 15.3px,#5ee8a3 19.1px,#5de8a4 23.0px,#3ee8c7 26.8px,#1a89f2 30.6px,#1ae8f2 34.4px,#5ae8a7 38.2px,#5de8a4 42.1px,#5ee8a3 45.9px,#5ee8a3 49.7px,#5ee8a3 53.6px,#5ee8a3 57.4px,#5ee8a3 61.2px)"></div><div style="position:absolute;left:0;top:57.12px;width:100%;height:2.44px;background:linear-gradient(90deg,#5ee8a3 0.0px,#5ee8a3 3.8px,#5ee8a3 7.7px,#5ee8a3 11.5px,#5ee8a3 15.3px,#5ee8a3 19.1px,#5de8a4 23.0px,#3be8ca 26.8px,#1a7af2 30.6px,#1ae2f2 34.4px,#5be8a7 38.2px,#5ee8a3 42.1px,#5ee8a3 45.9px,#5ee8a3 49.7px,#5ee8a3 53.6px,#5ee8a3 57.4px,#5ee8a3 61.2px)"></div><div style="position:absolute;left:0;top:59.16px;width:100%;height:2.44px;background:linear-gradient(90deg,#5ee8a3 0.0px,#5ee8a3 3.8px,#5ee8a3 7.7px,#5ee8a3 11.5px,#5ee8a3 15.3px,#5ee8a3 19.1px,#5de8a4 23.0px,#46e8bf 26.8px,#1ab1f2 30.6px,#2ae8df 34.4px,#5ce8a5 38.2px,#5ee8a3 42.1px,#5ee8a3 45.9px,#5ee8a3 49.7px,#5ee8a3 53.6px,#5ee8a3 57.4px,#5ee8a3 61.2px)"></div></div></div></div><div style="position:absolute;left:532.9px;top:465.7px;width:61.2px;height:61.2px;border-radius:50%;overflow:hidden"><div style="position:absolute;left:-3px;top:-3px;width:61.2px;height:61.2px;padding:3px;filter:blur(1.2px)"><div style="position:relative;width:100%;height:100%"><div style="position:absolute;left:0;top:0.00px;width:100%;height:2.44px;background:linear-gradient(90deg,#4ae8b9 0.0px,#52e8b1 3.8px,#62e89f 7.7px,#86e878 11.5px,#c1e83a 15.3px,#f7e105 19.1px,#f7d205 23.0px,#ede80f 26.8px,#bae842 30.6px,#96e866 34.4px,#81e87d 38.2px,#72e88d 42.1px,#65e89b 45.9px,#5ae8a8 49.7px,#51e8b2 53.6px,#4be8b9 57.4px,#47e8bd 61.2px)"></div><div style="position:absolute;left:0;top:2.04px;width:100%;height:2.44px;background:linear-gradient(90deg,#4ce8b7 0.0px,#55e8ad 3.8px,#69e897 7.7px,#92e86b 11.5px,#d6e825 15.3px,#f7c705 19.1px,#f7b405 23.0px,#f7d605 26.8px,#d3e829 30.6px,#aae852 34.4px,#91e86c 38.2px,#7ee880 42.1px,#6ee891 45.9px,#60e8a1 49.7px,#55e8ad 53.6px,#4de8b6 57.4px,#48e8bc 61.2px)"></div><div style="position:absolute;left:0;top:4.08px;width:100%;height:2.44px;background:linear-gradient(90deg,#4de8b6 0.0px,#57e8ab 3.8px,#69e897 7.7px,#8be872 11.5px,#c1e83a 15.3px,#f7e705 19.1px,#f7d405 23.0px,#f7e805 26.8px,#d0e82b 30.6px,#b1e84b 34.4px,#99e863 38.2px,#84e87a 42.1px,#73e88c 45.9px,#64e89d 49.7px,#57e8ab 53.6px,#4ee8b5 57.4px,#49e8bb 61.2px)"></div><div style="position:absolute;left:0;top:6.12px;width:100%;height:2.44px;background:linear-gradient(90deg,#4de8b6 0.0px,#56e8ac 3.8px,#64e89c 7.7px,#7ce882 11.5px,#9ee85e 15.3px,#c0e83b 19.1px,#d2e82a 23.0px,#cde82e 26.8px,#bde83f 30.6px,#aae851 34.4px,#96e867 38.2px,#7fe87f 42.1px,#72e88d 45.9px,#64e89c 49.7px,#58e8aa 53.6px,#4ee8b4 57.4px,#49e8bb 61.2px)"></div><div style="position:absolute;left:0;top:8.16px;width:100%;height:2.44px;background:linear-gradient(90deg,#4ce8b8 0.0px,#53e8af 3.8px,#5ee8a2 7.7px,#6ee891 11.5px,#83e87b 15.3px,#97e865 19.1px,#a5e856 23.0px,#aae852 26.8px,#a6e856 30.6px,#9ce861 34.4px,#87e876 38.2px,#6ce893 42.1px,#6be895 45.9px,#61e8a0 49.7px,#56e8ac 53.6px,#4ee8b5 57.4px,#48e8bc 61.2px)"></div><div style="position:absolute;left:0;top:10.20px;width:100%;height:2.44px;background:linear-gradient(90deg,#4ae8ba 0.0px,#50e8b3 3.8px,#58e8aa 7.7px,#63e89d 11.5px,#71e88e 15.3px,#7ee880 19.1px,#88e875 23.0px,#8ee86f 26.8px,#8ee86f 30.6px,#88e876 34.4px,#6ee891 38.2px,#4be8b8 42.1px,#5ee8a3 45.9px,#5ce8a5 49.7px,#53e8af 53.6px,#4ce8b7 57.4px,#47e8bd 61.2px)"></div><div style="position:absolute;left:0;top:12.24px;width:100%;height:2.44px;background:linear-gradient(90deg,#47e8bc 0.0px,#4ce8b8 3.8px,#52e8b1 7.7px,#59e8a8 11.5px,#62e89e 15.3px,#6ae895 19.1px,#70e88f 23.0px,#76e889 26.8px,#77e888 30.6px,#73e88c 34.4px,#51e8b1 38.2px,#21e8e9 42.1px,#4ee8b5 45.9px,#57e8aa 49.7px,#52e8b1 53.6px,#4be8b9 57.4px,#46e8be 61.2px)"></div><div style="position:absolute;left:0;top:14.28px;width:100%;height:2.44px;background:linear-gradient(90deg,#45e8bf 0.0px,#48e8bc 3.8px,#4ce8b7 7.7px,#51e8b2 11.5px,#56e8ac 15.3px,#58e8aa 19.1px,#57e8ab 23.0px,#5ee8a3 26.8px,#62e89e 30.6px,#60e8a1 34.4px,#37e8d0 38.2px,#1ac5f2 42.1px,#40e8c5 45.9px,#54e8ae 49.7px,#51e8b1 53.6px,#4ae8b9 57.4px,#45e8bf 61.2px)"></div><div style="position:absolute;left:0;top:16.32px;width:100%;height:2.44px;background:linear-gradient(90deg,#44e8c0 0.0px,#46e8be 3.8px,#48e8bc 7.7px,#4ae8b9 11.5px,#4ce8b7 15.3px,#44e8c0 19.1px,#35e8d2 23.0px,#43e8c1 26.8px,#52e8b1 30.6px,#51e8b1 34.4px,#26e8e3 38.2px,#1aaef2 42.1px,#39e8cd 45.9px,#54e8ae 49.7px,#53e8af 53.6px,#4be8b8 57.4px,#45e8bf 61.2px)"></div><div style="position:absolute;left:0;top:18.36px;width:100%;height:2.44px;background:linear-gradient(90deg,#43e8c1 0.0px,#45e8bf 3.8px,#46e8be 7.7px,#46e8be 11.5px,#45e8bf 15.3px,#2ee8da 19.1px,#1ad3f2 23.0px,#24e8e5 26.8px,#44e8c0 30.6px,#48e8bc 34.4px,#22e8e7 38.2px,#1ab3f2 42.1px,#38e8ce 45.9px,#56e8ac 49.7px,#56e8ac 53.6px,#4de8b6 57.4px,#45e8bf 61.2px)"></div><div style="position:absolute;left:0;top:20.40px;width:100%;height:2.44px;background:linear-gradient(90deg,#44e8c1 0.0px,#45e8bf 3.8px,#46e8bf 7.7px,#44e8c0 11.5px,#40e8c5 15.3px,#1ae5f2 19.1px,#1a98f2 23.0px,#1acff2 26.8px,#38e8ce 30.6px,#41e8c4 34.4px,#28e8e1 38.2px,#1accf2 42.1px,#3de8c8 45.9px,#58e8aa 49.7px,#5ae8a8 53.6px,#4fe8b4 57.4px,#45e8bf 61.2px)"></div><div style="position:absolute;left:0;top:22.44px;width:100%;height:2.44px;background:linear-gradient(90deg,#45e8bf 0.0px,#48e8bc 3.8px,#48e8bc 7.7px,#44e8c0 11.5px,#3ce8c9 15.3px,#1ad4f2 19.1px,#1a70f2 23.0px,#1ab1f2 26.8px,#2ee8da 30.6px,#3ce8ca 34.4px,#2fe8d9 38.2px,#1be8f1 42.1px,#43e8c2 45.9px,#59e8a8 49.7px,#5ce8a6 53.6px,#50e8b3 57.4px,#45e8bf 61.2px)"></div><div style="position:absolute;left:0;top:24.48px;width:100%;height:2.44px;background:linear-gradient(90deg,#48e8bc 0.0px,#4ee8b5 3.8px,#4ce8b7 7.7px,#45e8bf 11.5px,#3be8cb 15.3px,#1ad3f2 19.1px,#1a70f2 23.0px,#1aa6f2 26.8px,#24e8e6 30.6px,#36e8d1 34.4px,#33e8d4 38.2px,#2ce8dc 42.1px,#45e8bf 45.9px,#58e8aa 49.7px,#5be8a6 53.6px,#4fe8b3 57.4px,#45e8bf 61.2px)"></div><div style="position:absolute;left:0;top:26.52px;width:100%;height:2.44px;background:linear-gradient(90deg,#4ce8b7 0.0px,#56e8ac 3.8px,#54e8ae 7.7px,#48e8bc 11.5px,#3ae8cb 15.3px,#1adef2 19.1px,#1a8cf2 23.0px,#1aa8f2 26.8px,#1ae8f2 30.6px,#2ee8da 34.4px,#32e8d6 38.2px,#34e8d3 42.1px,#44e8c0 45.9px,#54e8ae 49.7px,#57e8aa 53.6px,#4de8b6 57.4px,#45e8bf 61.2px)"></div><div style="position:absolute;left:0;top:28.56px;width:100%;height:2.44px;background:linear-gradient(90deg,#52e8b0 0.0px,#62e89f 3.8px,#5fe8a2 7.7px,#4be8b8 11.5px,#39e8cd 15.3px,#1ae8f2 19.1px,#1aa7f2 23.0px,#1aa7f2 26.8px,#1ad9f2 30.6px,#24e8e6 34.4px,#2ce8dc 38.2px,#32e8d5 42.1px,#3fe8c6 45.9px,#4de8b6 49.7px,#52e8b1 53.6px,#4ae8b9 57.4px,#44e8c0 61.2px)"></div><div style="position:absolute;left:0;top:30.60px;width:100%;height:2.44px;background:linear-gradient(90deg,#59e8a8 0.0px,#6fe891 3.8px,#6ae895 7.7px,#4ee8b4 11.5px,#37e8d0 15.3px,#1be8f0 19.1px,#1ab0f2 23.0px,#1a9ef2 26.8px,#1ac7f2 30.6px,#1ae6f2 34.4px,#22e8e8 38.2px,#2ce8dc 42.1px,#39e8cd 45.9px,#46e8be 49.7px,#4be8b8 53.6px,#47e8bd 57.4px,#43e8c1 61.2px)"></div><div style="position:absolute;left:0;top:32.64px;width:100%;height:2.44px;background:linear-gradient(90deg,#5fe8a2 0.0px,#7ae884 3.8px,#74e88b 7.7px,#50e8b2 11.5px,#33e8d4 15.3px,#1ae4f2 19.1px,#1aacf2 23.0px,#1a8ff2 26.8px,#1ab4f2 30.6px,#1ad5f2 34.4px,#1ae5f2 38.2px,#23e8e7 42.1px,#31e8d6 45.9px,#3ee8c7 49.7px,#44e8c0 53.6px,#44e8c1 57.4px,#42e8c3 61.2px)"></div><div style="position:absolute;left:0;top:34.68px;width:100%;height:2.44px;background:linear-gradient(90deg,#62e89e 0.0px,#80e87e 3.8px,#79e885 7.7px,#50e8b3 11.5px,#2de8db 15.3px,#1adcf2 19.1px,#1aa3f2 23.0px,#1a82f2 26.8px,#1a9ff2 30.6px,#1abff2 34.4px,#1ad4f2 38.2px,#1ae7f2 42.1px,#29e8e0 45.9px,#36e8d1 49.7px,#3ee8c7 53.6px,#41e8c4 57.4px,#41e8c3 61.2px)"></div><div style="position:absolute;left:0;top:36.72px;width:100%;height:2.44px;background:linear-gradient(90deg,#62e89f 0.0px,#7fe87f 3.8px,#77e888 7.7px,#4ce8b7 11.5px,#27e8e2 15.3px,#1ad3f2 19.1px,#1a9cf2 23.0px,#1a76f2 26.8px,#1a82f2 30.6px,#1a9df2 34.4px,#1abdf2 38.2px,#1adbf2 42.1px,#20e8eb 45.9px,#2ce8dc 49.7px,#37e8cf 53.6px,#3ee8c7 57.4px,#41e8c4 61.2px)"></div><div style="position:absolute;left:0;top:38.76px;width:100%;height:2.44px;background:linear-gradient(90deg,#5ee8a3 0.0px,#78e887 3.8px,#6fe891 7.7px,#46e8be 11.5px,#21e8e9 15.3px,#1accf2 19.1px,#1a98f2 23.0px,#1a68f2 26.8px,#1a55f2 30.6px,#1a66f2 34.4px,#1a9ef2 38.2px,#1acdf2 42.1px,#1ae3f2 45.9px,#1de8ee 49.7px,#2ce8dc 53.6px,#3be8cb 57.4px,#40e8c5 61.2px)"></div><div style="position:absolute;left:0;top:40.80px;width:100%;height:2.44px;background:linear-gradient(90deg,#58e8aa 0.0px,#6be895 3.8px,#62e89e 7.7px,#3fe8c6 11.5px,#1de8ef 15.3px,#1ac7f2 19.1px,#1a97f2 23.0px,#1a5cf2 26.8px,#1a25f2 30.6px,#1a2cf2 34.4px,#1a7ff2 38.2px,#1ac1f2 42.1px,#1ad4f2 45.9px,#1ad4f2 49.7px,#1de8ee 53.6px,#37e8d0 57.4px,#3fe8c6 61.2px)"></div><div style="position:absolute;left:0;top:42.84px;width:100%;height:2.44px;background:linear-gradient(90deg,#51e8b2 0.0px,#5de8a4 3.8px,#55e8ad 7.7px,#38e8ce 11.5px,#1ae8f2 15.3px,#1ac6f2 19.1px,#1a9af2 23.0px,#1a5ef2 26.8px,#1a18f2 30.6px,#1a18f2 34.4px,#1a74f2 38.2px,#1abaf2 42.1px,#1ac6f2 45.9px,#1abbf2 49.7px,#1adaf2 53.6px,#32e8d5 57.4px,#3fe8c6 61.2px)"></div><div style="position:absolute;left:0;top:44.88px;width:100%;height:2.44px;background:linear-gradient(90deg,#4be8b9 0.0px,#51e8b1 3.8px,#4ae8ba 7.7px,#33e8d4 11.5px,#1ae8f2 15.3px,#1ac9f2 19.1px,#1aa3f2 23.0px,#1a73f2 26.8px,#1a3bf2 30.6px,#1a3cf2 34.4px,#1a84f2 38.2px,#1abdf2 42.1px,#1ac2f2 45.9px,#1ab1f2 49.7px,#1ad3f2 53.6px,#31e8d7 57.4px,#3fe8c6 61.2px)"></div><div style="position:absolute;left:0;top:46.92px;width:100%;height:2.44px;background:linear-gradient(90deg,#46e8be 0.0px,#49e8bb 3.8px,#42e8c3 7.7px,#30e8d7 11.5px,#1be8f0 15.3px,#1acff2 19.1px,#1ab0f2 23.0px,#1a8ff2 26.8px,#1a71f2 30.6px,#1a75f2 34.4px,#1aa1f2 38.2px,#1ac7f2 42.1px,#1acbf2 45.9px,#1abdf2 49.7px,#1adbf2 53.6px,#33e8d4 57.4px,#3fe8c6 61.2px)"></div><div style="position:absolute;left:0;top:48.96px;width:100%;height:2.44px;background:linear-gradient(90deg,#43e8c1 0.0px,#44e8c1 3.8px,#3ee8c8 7.7px,#30e8d7 11.5px,#1fe8eb 15.3px,#1ad7f2 19.1px,#1abff2 23.0px,#1aa9f2 26.8px,#1a9cf2 30.6px,#1aa2f2 34.4px,#1abbf2 38.2px,#1ad4f2 42.1px,#1adbf2 45.9px,#1ad7f2 49.7px,#1ee8ed 53.6px,#37e8cf 57.4px,#40e8c5 61.2px)"></div><div style="position:absolute;left:0;top:51.00px;width:100%;height:2.44px;background:linear-gradient(90deg,#42e8c3 0.0px,#41e8c4 3.8px,#3ce8c9 7.7px,#32e8d5 11.5px,#25e8e5 15.3px,#1ae2f2 19.1px,#1acef2 23.0px,#1abff2 26.8px,#1ab8f2 30.6px,#1abef2 34.4px,#1acef2 38.2px,#1ae0f2 42.1px,#1de8ee 45.9px,#21e8e9 49.7px,#2ee8da 53.6px,#3be8ca 57.4px,#40e8c5 61.2px)"></div><div style="position:absolute;left:0;top:53.04px;width:100%;height:2.44px;background:linear-gradient(90deg,#41e8c3 0.0px,#40e8c5 3.8px,#3ce8c9 7.7px,#35e8d1 11.5px,#2be8de 15.3px,#1ee8ed 19.1px,#1adef2 23.0px,#1ad2f2 26.8px,#1acdf2 30.6px,#1ad2f2 34.4px,#1adef2 38.2px,#1de8ee 42.1px,#28e8e1 45.9px,#2fe8d9 49.7px,#37e8cf 53.6px,#3ee8c7 57.4px,#41e8c4 61.2px)"></div><div style="position:absolute;left:0;top:55.08px;width:100%;height:2.44px;background:linear-gradient(90deg,#41e8c4 0.0px,#40e8c5 3.8px,#3de8c8 7.7px,#38e8ce 11.5px,#31e8d7 15.3px,#27e8e2 19.1px,#1de8ee 23.0px,#1ae3f2 26.8px,#1ae0f2 30.6px,#1ae3f2 34.4px,#1de8ee 38.2px,#27e8e2 42.1px,#30e8d8 45.9px,#37e8d0 49.7px,#3ce8ca 53.6px,#3fe8c6 57.4px,#41e8c4 61.2px)"></div><div style="position:absolute;left:0;top:57.12px;width:100%;height:2.44px;background:linear-gradient(90deg,#41e8c3 0.0px,#40e8c4 3.8px,#3fe8c7 7.7px,#3be8cb 11.5px,#36e8d1 15.3px,#2fe8d9 19.1px,#28e8e1 23.0px,#22e8e8 26.8px,#20e8ea 30.6px,#22e8e8 34.4px,#28e8e1 38.2px,#2fe8d9 42.1px,#35e8d1 45.9px,#3be8cb 49.7px,#3ee8c7 53.6px,#40e8c5 57.4px,#41e8c3 61.2px)"></div><div style="position:absolute;left:0;top:59.16px;width:100%;height:2.44px;background:linear-gradient(90deg,#41e8c3 0.0px,#41e8c4 3.8px,#40e8c5 7.7px,#3de8c8 11.5px,#3ae8cc 15.3px,#35e8d1 19.1px,#30e8d7 23.0px,#2de8db 26.8px,#2ce8dd 30.6px,#2de8db 34.4px,#30e8d7 38.2px,#35e8d1 42.1px,#3ae8cc 45.9px,#3de8c8 49.7px,#3fe8c5 53.6px,#41e8c4 57.4px,#41e8c3 61.2px)"></div></div></div></div><svg width="685" height="528" viewBox="0 0 685 528"><text x="69.30" y="9.00" font-size="17.00" text-anchor="start" fill="#000">a</text><text x="-1.10" y="201.60" font-size="17.00" text-anchor="start" fill="#000">b</text><text x="209.40" y="201.60" font-size="17.00" text-anchor="start" fill="#000">c</text><text x="349.40" y="201.60" font-size="17.00" text-anchor="start" fill="#000">d</text><text x="559.80" y="201.60" font-size="17.00" text-anchor="start" fill="#000">e</text><text x="45.00" y="366.40" font-size="17.00" text-anchor="start" fill="#000">f</text><text x="42.30" y="462.60" font-size="17.00" text-anchor="start" fill="#000">g</text><text x="323.20" y="19.00" font-size="10.90" text-anchor="middle" fill="#000" textLength="183.0" lengthAdjust="spacingAndGlyphs">Peri−targets oscillatory power per cue</text><text x="157.00" y="43.10" font-size="9.55" text-anchor="middle" fill="#000">Neutral cue</text><line x1="105.60" y1="108.00" x2="208.40" y2="108.00" stroke="#303030" stroke-width="1.3" stroke-dasharray="2 2.7" stroke-opacity="0.8" stroke-linecap="butt"/><line x1="105.60" y1="131.10" x2="208.40" y2="131.10" stroke="#303030" stroke-width="1.3" stroke-dasharray="2 2.7" stroke-opacity="0.8" stroke-linecap="butt"/><line x1="149.40" y1="50.30" x2="149.40" y2="146.50" stroke="#000" stroke-width="1.1" stroke-dasharray="2.7 2.1" stroke-linecap="butt"/><rect x="105.60" y="50.30" width="102.80" height="96.20" fill="none" stroke="#222" stroke-width="1"/><line x1="110.40" y1="146.50" x2="110.40" y2="150.00" stroke="#000" stroke-width="0.8" stroke-linecap="butt"/><text x="110.40" y="158.80" font-size="8.00" text-anchor="middle" fill="#000">−0.5</text><line x1="149.40" y1="146.50" x2="149.40" y2="150.00" stroke="#000" stroke-width="0.8" stroke-linecap="butt"/><text x="149.40" y="158.80" font-size="8.00" text-anchor="middle" fill="#000">0.0</text><line x1="188.40" y1="146.50" x2="188.40" y2="150.00" stroke="#000" stroke-width="0.8" stroke-linecap="butt"/><text x="188.40" y="158.80" font-size="8.00" text-anchor="middle" fill="#000">0.5</text><text x="267.80" y="43.10" font-size="9.55" text-anchor="middle" fill="#000">Spatial cue</text><line x1="216.40" y1="108.00" x2="319.20" y2="108.00" stroke="#303030" stroke-width="1.3" stroke-dasharray="2 2.7" stroke-opacity="0.8" stroke-linecap="butt"/><line x1="216.40" y1="131.10" x2="319.20" y2="131.10" stroke="#303030" stroke-width="1.3" stroke-dasharray="2 2.7" stroke-opacity="0.8" stroke-linecap="butt"/><line x1="260.20" y1="50.30" x2="260.20" y2="146.50" stroke="#000" stroke-width="1.1" stroke-dasharray="2.7 2.1" stroke-linecap="butt"/><rect x="216.40" y="50.30" width="102.80" height="96.20" fill="none" stroke="#222" stroke-width="1"/><line x1="221.20" y1="146.50" x2="221.20" y2="150.00" stroke="#000" stroke-width="0.8" stroke-linecap="butt"/><text x="221.20" y="158.80" font-size="8.00" text-anchor="middle" fill="#000">−0.5</text><line x1="260.20" y1="146.50" x2="260.20" y2="150.00" stroke="#000" stroke-width="0.8" stroke-linecap="butt"/><text x="260.20" y="158.80" font-size="8.00" text-anchor="middle" fill="#000">0.0</text><line x1="299.20" y1="146.50" x2="299.20" y2="150.00" stroke="#000" stroke-width="0.8" stroke-linecap="butt"/><text x="299.20" y="158.80" font-size="8.00" text-anchor="middle" fill="#000">0.5</text><text x="378.40" y="43.10" font-size="9.55" text-anchor="middle" fill="#000">Temporal cue</text><line x1="327.00" y1="108.00" x2="429.80" y2="108.00" stroke="#303030" stroke-width="1.3" stroke-dasharray="2 2.7" stroke-opacity="0.8" stroke-linecap="butt"/><line x1="327.00" y1="131.10" x2="429.80" y2="131.10" stroke="#303030" stroke-width="1.3" stroke-dasharray="2 2.7" stroke-opacity="0.8" stroke-linecap="butt"/><line x1="370.80" y1="50.30" x2="370.80" y2="146.50" stroke="#000" stroke-width="1.1" stroke-dasharray="2.7 2.1" stroke-linecap="butt"/><rect x="327.00" y="50.30" width="102.80" height="96.20" fill="none" stroke="#222" stroke-width="1"/><line x1="331.80" y1="146.50" x2="331.80" y2="150.00" stroke="#000" stroke-width="0.8" stroke-linecap="butt"/><text x="331.80" y="158.80" font-size="8.00" text-anchor="middle" fill="#000">−0.5</text><line x1="370.80" y1="146.50" x2="370.80" y2="150.00" stroke="#000" stroke-width="0.8" stroke-linecap="butt"/><text x="370.80" y="158.80" font-size="8.00" text-anchor="middle" fill="#000">0.0</text><line x1="409.80" y1="146.50" x2="409.80" y2="150.00" stroke="#000" stroke-width="0.8" stroke-linecap="butt"/><text x="409.80" y="158.80" font-size="8.00" text-anchor="middle" fill="#000">0.5</text><text x="488.90" y="43.10" font-size="9.55" text-anchor="middle" fill="#000">Spatiotemporal cue</text><line x1="437.50" y1="108.00" x2="540.30" y2="108.00" stroke="#303030" stroke-width="1.3" stroke-dasharray="2 2.7" stroke-opacity="0.8" stroke-linecap="butt"/><line x1="437.50" y1="131.10" x2="540.30" y2="131.10" stroke="#303030" stroke-width="1.3" stroke-dasharray="2 2.7" stroke-opacity="0.8" stroke-linecap="butt"/><line x1="481.30" y1="50.30" x2="481.30" y2="146.50" stroke="#000" stroke-width="1.1" stroke-dasharray="2.7 2.1" stroke-linecap="butt"/><rect x="437.50" y="50.30" width="102.80" height="96.20" fill="none" stroke="#222" stroke-width="1"/><line x1="442.30" y1="146.50" x2="442.30" y2="150.00" stroke="#000" stroke-width="0.8" stroke-linecap="butt"/><text x="442.30" y="158.80" font-size="8.00" text-anchor="middle" fill="#000">−0.5</text><line x1="481.30" y1="146.50" x2="481.30" y2="150.00" stroke="#000" stroke-width="0.8" stroke-linecap="butt"/><text x="481.30" y="158.80" font-size="8.00" text-anchor="middle" fill="#000">0.0</text><line x1="520.30" y1="146.50" x2="520.30" y2="150.00" stroke="#000" stroke-width="0.8" stroke-linecap="butt"/><text x="520.30" y="158.80" font-size="8.00" text-anchor="middle" fill="#000">0.5</text><line x1="102.30" y1="61.80" x2="105.60" y2="61.80" stroke="#000" stroke-width="0.8" stroke-linecap="butt"/><text x="99.20" y="64.70" font-size="8.00" text-anchor="end" fill="#000">26</text><line x1="102.30" y1="108.00" x2="105.60" y2="108.00" stroke="#000" stroke-width="0.8" stroke-linecap="butt"/><text x="99.20" y="110.90" font-size="8.00" text-anchor="end" fill="#000">14</text><line x1="102.30" y1="131.10" x2="105.60" y2="131.10" stroke="#000" stroke-width="0.8" stroke-linecap="butt"/><text x="99.20" y="134.00" font-size="8.00" text-anchor="end" fill="#000">8</text><line x1="102.30" y1="146.50" x2="105.60" y2="146.50" stroke="#000" stroke-width="0.8" stroke-linecap="butt"/><text x="99.20" y="149.40" font-size="8.00" text-anchor="end" fill="#000">4</text><text x="83.20" y="98.50" font-size="8.00" text-anchor="middle" fill="#000" transform="rotate(-90 83.20 98.50)">Freq. (Hz)</text><text x="323.00" y="171.20" font-size="8.20" text-anchor="middle" fill="#000" textLength="107.4" lengthAdjust="spacingAndGlyphs">Time from 1st target onset (s)</text><defs><linearGradient id="jetv" x1="0" y1="1" x2="0" y2="0"><stop offset="0.000" stop-color="#0d087c"/><stop offset="0.050" stop-color="#1208ab"/><stop offset="0.100" stop-color="#1708db"/><stop offset="0.150" stop-color="#1a1ef2"/><stop offset="0.200" stop-color="#1a4bf2"/><stop offset="0.250" stop-color="#1a78f2"/><stop offset="0.300" stop-color="#1aa5f2"/><stop offset="0.350" stop-color="#1ad2f2"/><stop offset="0.400" stop-color="#2de8db"/><stop offset="0.450" stop-color="#57e8ab"/><stop offset="0.500" stop-color="#82e87c"/><stop offset="0.550" stop-color="#afe84c"/><stop offset="0.600" stop-color="#dfe81d"/><stop offset="0.650" stop-color="#f7d205"/><stop offset="0.700" stop-color="#f7a505"/><stop offset="0.750" stop-color="#f77805"/><stop offset="0.800" stop-color="#f74b05"/><stop offset="0.850" stop-color="#f71e05"/><stop offset="0.900" stop-color="#df0805"/><stop offset="0.950" stop-color="#ad0805"/><stop offset="1.000" stop-color="#7c0805"/></linearGradient><linearGradient id="topov" x1="0" y1="1" x2="0" y2="0"><stop offset="0" stop-color="#55557f"/><stop offset="0.12" stop-color="#4a55b0"/><stop offset="0.25" stop-color="#3070e0"/><stop offset="0.37" stop-color="#20b0e8"/><stop offset="0.45" stop-color="#30d8c0"/><stop offset="0.52" stop-color="#60e890"/><stop offset="0.6" stop-color="#b8ee40"/><stop offset="0.67" stop-color="#f8e820"/><stop offset="0.75" stop-color="#f8a020"/><stop offset="0.85" stop-color="#f04020"/><stop offset="0.93" stop-color="#d01010"/><stop offset="1" stop-color="#a00000"/></linearGradient></defs><rect x="577.20" y="58.30" width="9.20" height="79.60" fill="url(#jetv)" stroke="#111" stroke-width="0.9"/><text x="593.50" y="62.20" font-size="8.00" text-anchor="start" fill="#000">1.2</text><text x="593.50" y="100.90" font-size="8.00" text-anchor="start" fill="#000">0.0</text><text x="593.30" y="140.80" font-size="8.00" text-anchor="start" fill="#000">−1.2</text><text x="569.80" y="98.30" font-size="8.00" text-anchor="middle" fill="#000" transform="rotate(-90 569.80 98.30)">Power (z−score)</text><text x="117.70" y="211.90" font-size="10.85" text-anchor="middle" fill="#000" textLength="120.6" lengthAdjust="spacingAndGlyphs">Peri−targets alpha power</text><clipPath id="cb"><rect x="41.00" y="221.00" width="153.30" height="85.90"/></clipPath><g clip-path="url(#cb)"><path d="M41.80,269.26 L43.40,269.48 L45.00,269.49 L46.60,269.45 L48.20,269.32 L49.80,267.76 L51.40,267.07 L53.00,265.76 L54.60,264.25 L56.20,262.99 L57.80,261.53 L59.40,261.08 L61.00,259.78 L62.60,259.65 L64.20,260.17 L65.80,259.82 L67.40,259.92 L69.00,259.97 L70.60,259.08 L72.20,258.06 L73.80,257.10 L75.40,255.73 L77.00,255.49 L78.60,254.78 L80.20,254.65 L81.80,253.39 L83.40,253.17 L85.00,253.14 L86.60,253.57 L88.20,253.75 L89.80,254.29 L91.40,254.13 L93.00,253.77 L94.60,254.53 L96.20,253.69 L97.80,253.98 L99.40,253.34 L101.00,253.29 L102.60,252.52 L104.20,252.38 L105.80,252.27 L107.40,251.65 L109.00,250.63 L110.60,249.92 L112.20,248.47 L113.80,248.16 L115.40,247.09 L117.00,246.24 L118.60,246.11 L120.20,245.50 L121.80,245.10 L123.40,245.02 L125.00,244.82 L126.60,244.65 L128.20,244.55 L129.80,244.10 L131.40,244.09 L133.00,243.76 L134.60,243.00 L136.20,241.98 L137.80,241.27 L139.40,240.98 L141.00,240.35 L142.60,240.68 L144.20,240.78 L145.80,241.96 L147.40,243.45 L149.00,245.92 L150.60,248.10 L152.20,250.72 L153.80,254.05 L155.40,256.43 L157.00,259.07 L158.60,261.51 L160.20,263.05 L161.80,263.32 L163.40,263.57 L165.00,264.19 L166.60,264.46 L168.20,264.49 L169.80,264.21 L171.40,264.42 L173.00,264.95 L174.60,264.36 L176.20,264.72 L177.80,265.02 L179.40,264.80 L181.00,263.95 L182.60,263.57 L184.20,263.04 L185.80,262.29 L187.40,262.30 L189.00,261.81 L190.60,262.10 L192.20,261.50 L193.80,261.56 L193.80,278.56 L192.20,278.50 L190.60,279.10 L189.00,278.81 L187.40,279.30 L185.80,279.29 L184.20,280.04 L182.60,280.57 L181.00,280.95 L179.40,281.80 L177.80,282.02 L176.20,281.72 L174.60,281.36 L173.00,281.95 L171.40,281.42 L169.80,281.21 L168.20,281.49 L166.60,281.46 L165.00,281.19 L163.40,280.57 L161.80,280.32 L160.20,280.05 L158.60,278.51 L157.00,276.07 L155.40,273.43 L153.80,271.05 L152.20,267.72 L150.60,265.10 L149.00,262.92 L147.40,260.45 L145.80,258.96 L144.20,257.78 L142.60,257.68 L141.00,257.35 L139.40,257.98 L137.80,258.27 L136.20,258.98 L134.60,260.00 L133.00,260.76 L131.40,261.09 L129.80,261.10 L128.20,261.55 L126.60,261.65 L125.00,261.82 L123.40,262.02 L121.80,262.10 L120.20,262.50 L118.60,263.11 L117.00,263.24 L115.40,264.09 L113.80,265.16 L112.20,265.47 L110.60,266.92 L109.00,267.63 L107.40,268.65 L105.80,269.27 L104.20,269.38 L102.60,269.52 L101.00,270.29 L99.40,270.34 L97.80,270.98 L96.20,270.69 L94.60,271.53 L93.00,270.77 L91.40,271.13 L89.80,271.29 L88.20,270.75 L86.60,270.57 L85.00,270.14 L83.40,270.17 L81.80,270.39 L80.20,271.65 L78.60,271.78 L77.00,272.49 L75.40,272.73 L73.80,274.10 L72.20,275.06 L70.60,276.08 L69.00,276.97 L67.40,276.92 L65.80,276.82 L64.20,277.17 L62.60,276.65 L61.00,276.78 L59.40,278.08 L57.80,278.53 L56.20,279.99 L54.60,281.25 L53.00,282.76 L51.40,284.07 L49.80,284.76 L48.20,286.32 L46.60,286.45 L45.00,286.49 L43.40,286.48 L41.80,286.26 Z" fill="#c8c8c8" fill-opacity="0.35" stroke="none"/><path d="M41.80,274.13 L43.40,274.75 L45.00,275.13 L46.60,274.82 L48.20,274.58 L49.80,274.72 L51.40,274.48 L53.00,274.21 L54.60,273.12 L56.20,272.77 L57.80,273.09 L59.40,272.76 L61.00,272.85 L62.60,272.65 L64.20,272.63 L65.80,273.16 L67.40,274.55 L69.00,273.90 L70.60,273.67 L72.20,273.39 L73.80,273.67 L75.40,273.62 L77.00,273.36 L78.60,273.23 L80.20,273.00 L81.80,272.76 L83.40,272.57 L85.00,272.09 L86.60,271.39 L88.20,272.11 L89.80,271.50 L91.40,271.95 L93.00,271.69 L94.60,272.30 L96.20,272.24 L97.80,272.66 L99.40,273.66 L101.00,272.68 L102.60,272.94 L104.20,272.24 L105.80,272.45 L107.40,272.59 L109.00,272.17 L110.60,272.10 L112.20,271.77 L113.80,271.15 L115.40,271.30 L117.00,270.56 L118.60,271.01 L120.20,269.93 L121.80,269.80 L123.40,268.90 L125.00,268.15 L126.60,266.42 L128.20,265.50 L129.80,263.72 L131.40,262.63 L133.00,260.93 L134.60,259.42 L136.20,258.05 L137.80,257.77 L139.40,257.35 L141.00,257.84 L142.60,257.87 L144.20,259.31 L145.80,261.03 L147.40,263.31 L149.00,266.04 L150.60,268.99 L152.20,271.70 L153.80,274.43 L155.40,277.24 L157.00,279.80 L158.60,281.93 L160.20,283.14 L161.80,283.99 L163.40,284.16 L165.00,283.92 L166.60,283.18 L168.20,282.44 L169.80,281.63 L171.40,279.81 L173.00,278.54 L174.60,278.22 L176.20,276.61 L177.80,275.80 L179.40,274.88 L181.00,273.59 L182.60,274.15 L184.20,273.56 L185.80,272.78 L187.40,272.79 L189.00,272.56 L190.60,272.30 L192.20,272.59 L193.80,272.78 L193.80,286.78 L192.20,286.59 L190.60,286.30 L189.00,286.56 L187.40,286.79 L185.80,286.78 L184.20,287.56 L182.60,288.15 L181.00,287.59 L179.40,288.88 L177.80,289.80 L176.20,290.61 L174.60,292.22 L173.00,292.54 L171.40,293.81 L169.80,295.63 L168.20,296.44 L166.60,297.18 L165.00,297.92 L163.40,298.16 L161.80,297.99 L160.20,297.14 L158.60,295.93 L157.00,293.80 L155.40,291.24 L153.80,288.43 L152.20,285.70 L150.60,282.99 L149.00,280.04 L147.40,277.31 L145.80,275.03 L144.20,273.31 L142.60,271.87 L141.00,271.84 L139.40,271.35 L137.80,271.77 L136.20,272.05 L134.60,273.42 L133.00,274.93 L131.40,276.63 L129.80,277.72 L128.20,279.50 L126.60,280.42 L125.00,282.15 L123.40,282.90 L121.80,283.80 L120.20,283.93 L118.60,285.01 L117.00,284.56 L115.40,285.30 L113.80,285.15 L112.20,285.77 L110.60,286.10 L109.00,286.17 L107.40,286.59 L105.80,286.45 L104.20,286.24 L102.60,286.94 L101.00,286.68 L99.40,287.66 L97.80,286.66 L96.20,286.24 L94.60,286.30 L93.00,285.69 L91.40,285.95 L89.80,285.50 L88.20,286.11 L86.60,285.39 L85.00,286.09 L83.40,286.57 L81.80,286.76 L80.20,287.00 L78.60,287.23 L77.00,287.36 L75.40,287.62 L73.80,287.67 L72.20,287.39 L70.60,287.67 L69.00,287.90 L67.40,288.55 L65.80,287.16 L64.20,286.63 L62.60,286.65 L61.00,286.85 L59.40,286.76 L57.80,287.09 L56.20,286.77 L54.60,287.12 L53.00,288.21 L51.40,288.48 L49.80,288.72 L48.20,288.58 L46.60,288.82 L45.00,289.13 L43.40,288.75 L41.80,288.13 Z" fill="#a9bfe0" fill-opacity="0.35" stroke="none"/><path d="M41.80,267.75 L43.40,267.94 L45.00,267.36 L46.60,266.83 L48.20,266.77 L49.80,265.99 L51.40,265.33 L53.00,265.37 L54.60,264.07 L56.20,263.25 L57.80,262.65 L59.40,262.39 L61.00,262.40 L62.60,262.37 L64.20,262.69 L65.80,263.24 L67.40,263.41 L69.00,263.11 L70.60,263.34 L72.20,263.39 L73.80,263.49 L75.40,264.48 L77.00,264.82 L78.60,265.29 L80.20,266.48 L81.80,266.61 L83.40,266.70 L85.00,267.23 L86.60,268.30 L88.20,267.81 L89.80,268.39 L91.40,268.64 L93.00,268.89 L94.60,269.08 L96.20,268.69 L97.80,268.27 L99.40,267.73 L101.00,267.04 L102.60,266.94 L104.20,266.87 L105.80,265.91 L107.40,266.11 L109.00,265.33 L110.60,265.03 L112.20,264.74 L113.80,264.40 L115.40,263.78 L117.00,262.61 L118.60,263.26 L120.20,262.12 L121.80,261.37 L123.40,261.19 L125.00,260.30 L126.60,259.62 L128.20,259.80 L129.80,259.36 L131.40,258.53 L133.00,258.56 L134.60,257.96 L136.20,257.14 L137.80,257.86 L139.40,257.58 L141.00,257.66 L142.60,258.97 L144.20,259.96 L145.80,261.56 L147.40,262.45 L149.00,264.93 L150.60,266.67 L152.20,268.29 L153.80,269.84 L155.40,271.44 L157.00,272.41 L158.60,273.14 L160.20,273.52 L161.80,274.57 L163.40,274.77 L165.00,274.67 L166.60,274.65 L168.20,274.76 L169.80,273.61 L171.40,274.25 L173.00,273.07 L174.60,273.47 L176.20,273.10 L177.80,272.68 L179.40,271.37 L181.00,271.31 L182.60,271.02 L184.20,270.36 L185.80,271.36 L187.40,271.36 L189.00,271.73 L190.60,271.84 L192.20,272.51 L193.80,272.84 L193.80,286.84 L192.20,286.51 L190.60,285.84 L189.00,285.73 L187.40,285.36 L185.80,285.36 L184.20,284.36 L182.60,285.02 L181.00,285.31 L179.40,285.37 L177.80,286.68 L176.20,287.10 L174.60,287.47 L173.00,287.07 L171.40,288.25 L169.80,287.61 L168.20,288.76 L166.60,288.65 L165.00,288.67 L163.40,288.77 L161.80,288.57 L160.20,287.52 L158.60,287.14 L157.00,286.41 L155.40,285.44 L153.80,283.84 L152.20,282.29 L150.60,280.67 L149.00,278.93 L147.40,276.45 L145.80,275.56 L144.20,273.96 L142.60,272.97 L141.00,271.66 L139.40,271.58 L137.80,271.86 L136.20,271.14 L134.60,271.96 L133.00,272.56 L131.40,272.53 L129.80,273.36 L128.20,273.80 L126.60,273.62 L125.00,274.30 L123.40,275.19 L121.80,275.37 L120.20,276.12 L118.60,277.26 L117.00,276.61 L115.40,277.78 L113.80,278.40 L112.20,278.74 L110.60,279.03 L109.00,279.33 L107.40,280.11 L105.80,279.91 L104.20,280.87 L102.60,280.94 L101.00,281.04 L99.40,281.73 L97.80,282.27 L96.20,282.69 L94.60,283.08 L93.00,282.89 L91.40,282.64 L89.80,282.39 L88.20,281.81 L86.60,282.30 L85.00,281.23 L83.40,280.70 L81.80,280.61 L80.20,280.48 L78.60,279.29 L77.00,278.82 L75.40,278.48 L73.80,277.49 L72.20,277.39 L70.60,277.34 L69.00,277.11 L67.40,277.41 L65.80,277.24 L64.20,276.69 L62.60,276.37 L61.00,276.40 L59.40,276.39 L57.80,276.65 L56.20,277.25 L54.60,278.07 L53.00,279.37 L51.40,279.33 L49.80,279.99 L48.20,280.77 L46.60,280.83 L45.00,281.36 L43.40,281.94 L41.80,281.75 Z" fill="#ecd3a0" fill-opacity="0.35" stroke="none"/><path d="M41.80,268.55 L43.40,269.45 L45.00,269.31 L46.60,269.64 L48.20,270.93 L49.80,271.77 L51.40,272.47 L53.00,273.36 L54.60,274.10 L56.20,274.96 L57.80,275.98 L59.40,277.24 L61.00,278.17 L62.60,279.26 L64.20,279.51 L65.80,278.98 L67.40,279.38 L69.00,278.80 L70.60,278.80 L72.20,278.78 L73.80,278.79 L75.40,278.69 L77.00,280.19 L78.60,280.33 L80.20,282.05 L81.80,282.07 L83.40,282.74 L85.00,283.71 L86.60,282.83 L88.20,283.44 L89.80,283.04 L91.40,283.05 L93.00,282.76 L94.60,282.95 L96.20,282.32 L97.80,282.14 L99.40,281.86 L101.00,280.86 L102.60,281.64 L104.20,281.07 L105.80,280.60 L107.40,280.79 L109.00,280.98 L110.60,280.58 L112.20,279.43 L113.80,278.82 L115.40,277.86 L117.00,277.15 L118.60,276.08 L120.20,275.98 L121.80,275.04 L123.40,274.61 L125.00,274.30 L126.60,273.42 L128.20,272.17 L129.80,271.29 L131.40,270.00 L133.00,268.94 L134.60,267.89 L136.20,266.67 L137.80,265.91 L139.40,264.94 L141.00,264.64 L142.60,264.38 L144.20,266.12 L145.80,267.53 L147.40,269.81 L149.00,271.56 L150.60,274.65 L152.20,277.30 L153.80,279.46 L155.40,282.53 L157.00,284.38 L158.60,284.92 L160.20,286.42 L161.80,287.56 L163.40,287.23 L165.00,288.34 L166.60,288.76 L168.20,288.78 L169.80,287.33 L171.40,286.71 L173.00,286.26 L174.60,285.71 L176.20,284.05 L177.80,283.34 L179.40,282.47 L181.00,282.59 L182.60,281.69 L184.20,281.78 L185.80,281.71 L187.40,282.00 L189.00,282.14 L190.60,282.63 L192.20,283.37 L193.80,283.53 L193.80,299.53 L192.20,299.37 L190.60,298.63 L189.00,298.14 L187.40,298.00 L185.80,297.71 L184.20,297.78 L182.60,297.69 L181.00,298.59 L179.40,298.47 L177.80,299.34 L176.20,300.05 L174.60,301.71 L173.00,302.26 L171.40,302.71 L169.80,303.33 L168.20,304.78 L166.60,304.76 L165.00,304.34 L163.40,303.23 L161.80,303.56 L160.20,302.42 L158.60,300.92 L157.00,300.38 L155.40,298.53 L153.80,295.46 L152.20,293.30 L150.60,290.65 L149.00,287.56 L147.40,285.81 L145.80,283.53 L144.20,282.12 L142.60,280.38 L141.00,280.64 L139.40,280.94 L137.80,281.91 L136.20,282.67 L134.60,283.89 L133.00,284.94 L131.40,286.00 L129.80,287.29 L128.20,288.17 L126.60,289.42 L125.00,290.30 L123.40,290.61 L121.80,291.04 L120.20,291.98 L118.60,292.08 L117.00,293.15 L115.40,293.86 L113.80,294.82 L112.20,295.43 L110.60,296.58 L109.00,296.98 L107.40,296.79 L105.80,296.60 L104.20,297.07 L102.60,297.64 L101.00,296.86 L99.40,297.86 L97.80,298.14 L96.20,298.32 L94.60,298.95 L93.00,298.76 L91.40,299.05 L89.80,299.04 L88.20,299.44 L86.60,298.83 L85.00,299.71 L83.40,298.74 L81.80,298.07 L80.20,298.05 L78.60,296.33 L77.00,296.19 L75.40,294.69 L73.80,294.79 L72.20,294.78 L70.60,294.80 L69.00,294.80 L67.40,295.38 L65.80,294.98 L64.20,295.51 L62.60,295.26 L61.00,294.17 L59.40,293.24 L57.80,291.98 L56.20,290.96 L54.60,290.10 L53.00,289.36 L51.40,288.47 L49.80,287.77 L48.20,286.93 L46.60,285.64 L45.00,285.31 L43.40,285.45 L41.80,284.55 Z" fill="#ebbcc6" fill-opacity="0.35" stroke="none"/><path d="M41.80,278.26 C42.07,278.30 42.87,278.44 43.40,278.48 C43.93,278.52 44.47,278.50 45.00,278.49 C45.53,278.49 46.07,278.48 46.60,278.45 C47.13,278.43 47.67,278.60 48.20,278.32 C48.73,278.04 49.27,277.13 49.80,276.76 C50.33,276.38 50.87,276.41 51.40,276.07 C51.93,275.74 52.47,275.23 53.00,274.76 C53.53,274.29 54.07,273.71 54.60,273.25 C55.13,272.79 55.67,272.44 56.20,271.99 C56.73,271.53 57.27,270.85 57.80,270.53 C58.33,270.22 58.87,270.37 59.40,270.08 C59.93,269.79 60.47,269.01 61.00,268.78 C61.53,268.54 62.07,268.58 62.60,268.65 C63.13,268.71 63.67,269.14 64.20,269.17 C64.73,269.20 65.27,268.86 65.80,268.82 C66.33,268.78 66.87,268.90 67.40,268.92 C67.93,268.95 68.47,269.11 69.00,268.97 C69.53,268.83 70.07,268.40 70.60,268.08 C71.13,267.76 71.67,267.39 72.20,267.06 C72.73,266.73 73.27,266.48 73.80,266.10 C74.33,265.71 74.87,265.00 75.40,264.73 C75.93,264.46 76.47,264.65 77.00,264.49 C77.53,264.34 78.07,263.92 78.60,263.78 C79.13,263.64 79.67,263.88 80.20,263.65 C80.73,263.42 81.27,262.63 81.80,262.39 C82.33,262.14 82.87,262.21 83.40,262.17 C83.93,262.13 84.47,262.08 85.00,262.14 C85.53,262.21 86.07,262.47 86.60,262.57 C87.13,262.67 87.67,262.62 88.20,262.75 C88.73,262.87 89.27,263.23 89.80,263.29 C90.33,263.36 90.87,263.22 91.40,263.13 C91.93,263.05 92.47,262.71 93.00,262.77 C93.53,262.84 94.07,263.54 94.60,263.53 C95.13,263.51 95.67,262.78 96.20,262.69 C96.73,262.60 97.27,263.04 97.80,262.98 C98.33,262.93 98.87,262.45 99.40,262.34 C99.93,262.22 100.47,262.43 101.00,262.29 C101.53,262.15 102.07,261.67 102.60,261.52 C103.13,261.37 103.67,261.42 104.20,261.38 C104.73,261.34 105.27,261.40 105.80,261.27 C106.33,261.15 106.87,260.93 107.40,260.65 C107.93,260.38 108.47,259.91 109.00,259.63 C109.53,259.34 110.07,259.28 110.60,258.92 C111.13,258.56 111.67,257.77 112.20,257.47 C112.73,257.18 113.27,257.39 113.80,257.16 C114.33,256.93 114.87,256.41 115.40,256.09 C115.93,255.77 116.47,255.41 117.00,255.24 C117.53,255.08 118.07,255.23 118.60,255.11 C119.13,254.98 119.67,254.66 120.20,254.50 C120.73,254.33 121.27,254.18 121.80,254.10 C122.33,254.02 122.87,254.07 123.40,254.02 C123.93,253.97 124.47,253.88 125.00,253.82 C125.53,253.75 126.07,253.70 126.60,253.65 C127.13,253.61 127.67,253.64 128.20,253.55 C128.73,253.45 129.27,253.18 129.80,253.10 C130.33,253.02 130.87,253.15 131.40,253.09 C131.93,253.03 132.47,252.94 133.00,252.76 C133.53,252.58 134.07,252.29 134.60,252.00 C135.13,251.70 135.67,251.26 136.20,250.98 C136.73,250.69 137.27,250.43 137.80,250.27 C138.33,250.10 138.87,250.13 139.40,249.98 C139.93,249.82 140.47,249.40 141.00,249.35 C141.53,249.30 142.07,249.61 142.60,249.68 C143.13,249.76 143.67,249.57 144.20,249.78 C144.73,250.00 145.27,250.51 145.80,250.96 C146.33,251.40 146.87,251.79 147.40,252.45 C147.93,253.11 148.47,254.15 149.00,254.92 C149.53,255.70 150.07,256.30 150.60,257.10 C151.13,257.90 151.67,258.73 152.20,259.72 C152.73,260.71 153.27,262.10 153.80,263.05 C154.33,264.00 154.87,264.59 155.40,265.43 C155.93,266.27 156.47,267.23 157.00,268.07 C157.53,268.92 158.07,269.84 158.60,270.51 C159.13,271.17 159.67,271.74 160.20,272.05 C160.73,272.35 161.27,272.24 161.80,272.32 C162.33,272.41 162.87,272.43 163.40,272.57 C163.93,272.72 164.47,273.04 165.00,273.19 C165.53,273.33 166.07,273.41 166.60,273.46 C167.13,273.51 167.67,273.53 168.20,273.49 C168.73,273.45 169.27,273.22 169.80,273.21 C170.33,273.19 170.87,273.30 171.40,273.42 C171.93,273.55 172.47,273.96 173.00,273.95 C173.53,273.94 174.07,273.40 174.60,273.36 C175.13,273.32 175.67,273.61 176.20,273.72 C176.73,273.83 177.27,274.00 177.80,274.02 C178.33,274.03 178.87,273.97 179.40,273.80 C179.93,273.62 180.47,273.16 181.00,272.95 C181.53,272.75 182.07,272.72 182.60,272.57 C183.13,272.42 183.67,272.26 184.20,272.04 C184.73,271.83 185.27,271.42 185.80,271.29 C186.33,271.17 186.87,271.38 187.40,271.30 C187.93,271.22 188.47,270.84 189.00,270.81 C189.53,270.77 190.07,271.16 190.60,271.10 C191.13,271.05 191.67,270.59 192.20,270.50 C192.73,270.41 193.53,270.55 193.80,270.56" fill="none" stroke="#666666" stroke-width="1.45" stroke-linejoin="round"/><path d="M41.80,281.13 C42.07,281.23 42.87,281.59 43.40,281.75 C43.93,281.92 44.47,282.12 45.00,282.13 C45.53,282.14 46.07,281.92 46.60,281.82 C47.13,281.73 47.67,281.59 48.20,281.58 C48.73,281.56 49.27,281.73 49.80,281.72 C50.33,281.70 50.87,281.56 51.40,281.48 C51.93,281.39 52.47,281.44 53.00,281.21 C53.53,280.99 54.07,280.36 54.60,280.12 C55.13,279.88 55.67,279.78 56.20,279.77 C56.73,279.77 57.27,280.09 57.80,280.09 C58.33,280.09 58.87,279.80 59.40,279.76 C59.93,279.72 60.47,279.86 61.00,279.85 C61.53,279.83 62.07,279.68 62.60,279.65 C63.13,279.61 63.67,279.54 64.20,279.63 C64.73,279.71 65.27,279.83 65.80,280.16 C66.33,280.48 66.87,281.43 67.40,281.55 C67.93,281.67 68.47,281.04 69.00,280.90 C69.53,280.75 70.07,280.76 70.60,280.67 C71.13,280.59 71.67,280.39 72.20,280.39 C72.73,280.39 73.27,280.63 73.80,280.67 C74.33,280.70 74.87,280.67 75.40,280.62 C75.93,280.57 76.47,280.43 77.00,280.36 C77.53,280.30 78.07,280.29 78.60,280.23 C79.13,280.17 79.67,280.08 80.20,280.00 C80.73,279.93 81.27,279.84 81.80,279.76 C82.33,279.69 82.87,279.68 83.40,279.57 C83.93,279.46 84.47,279.29 85.00,279.09 C85.53,278.89 86.07,278.39 86.60,278.39 C87.13,278.39 87.67,279.09 88.20,279.11 C88.73,279.13 89.27,278.53 89.80,278.50 C90.33,278.48 90.87,278.92 91.40,278.95 C91.93,278.98 92.47,278.63 93.00,278.69 C93.53,278.75 94.07,279.21 94.60,279.30 C95.13,279.39 95.67,279.18 96.20,279.24 C96.73,279.30 97.27,279.43 97.80,279.66 C98.33,279.90 98.87,280.66 99.40,280.66 C99.93,280.66 100.47,279.80 101.00,279.68 C101.53,279.56 102.07,280.01 102.60,279.94 C103.13,279.87 103.67,279.32 104.20,279.24 C104.73,279.16 105.27,279.39 105.80,279.45 C106.33,279.51 106.87,279.63 107.40,279.59 C107.93,279.54 108.47,279.25 109.00,279.17 C109.53,279.09 110.07,279.16 110.60,279.10 C111.13,279.03 111.67,278.93 112.20,278.77 C112.73,278.61 113.27,278.23 113.80,278.15 C114.33,278.07 114.87,278.40 115.40,278.30 C115.93,278.21 116.47,277.61 117.00,277.56 C117.53,277.51 118.07,278.11 118.60,278.01 C119.13,277.91 119.67,277.13 120.20,276.93 C120.73,276.73 121.27,276.98 121.80,276.80 C122.33,276.63 122.87,276.17 123.40,275.90 C123.93,275.62 124.47,275.56 125.00,275.15 C125.53,274.73 126.07,273.86 126.60,273.42 C127.13,272.98 127.67,272.95 128.20,272.50 C128.73,272.05 129.27,271.20 129.80,270.72 C130.33,270.24 130.87,270.09 131.40,269.63 C131.93,269.17 132.47,268.47 133.00,267.93 C133.53,267.39 134.07,266.90 134.60,266.42 C135.13,265.94 135.67,265.32 136.20,265.05 C136.73,264.78 137.27,264.89 137.80,264.77 C138.33,264.66 138.87,264.34 139.40,264.35 C139.93,264.36 140.47,264.75 141.00,264.84 C141.53,264.92 142.07,264.62 142.60,264.87 C143.13,265.11 143.67,265.79 144.20,266.31 C144.73,266.84 145.27,267.37 145.80,268.03 C146.33,268.70 146.87,269.48 147.40,270.31 C147.93,271.15 148.47,272.10 149.00,273.04 C149.53,273.99 150.07,275.04 150.60,275.99 C151.13,276.93 151.67,277.79 152.20,278.70 C152.73,279.61 153.27,280.51 153.80,281.43 C154.33,282.35 154.87,283.35 155.40,284.24 C155.93,285.14 156.47,286.02 157.00,286.80 C157.53,287.58 158.07,288.37 158.60,288.93 C159.13,289.48 159.67,289.80 160.20,290.14 C160.73,290.48 161.27,290.82 161.80,290.99 C162.33,291.16 162.87,291.17 163.40,291.16 C163.93,291.15 164.47,291.09 165.00,290.92 C165.53,290.76 166.07,290.42 166.60,290.18 C167.13,289.93 167.67,289.70 168.20,289.44 C168.73,289.19 169.27,289.07 169.80,288.63 C170.33,288.19 170.87,287.33 171.40,286.81 C171.93,286.30 172.47,285.81 173.00,285.54 C173.53,285.28 174.07,285.54 174.60,285.22 C175.13,284.90 175.67,284.01 176.20,283.61 C176.73,283.21 177.27,283.09 177.80,282.80 C178.33,282.51 178.87,282.25 179.40,281.88 C179.93,281.51 180.47,280.71 181.00,280.59 C181.53,280.47 182.07,281.15 182.60,281.15 C183.13,281.14 183.67,280.79 184.20,280.56 C184.73,280.33 185.27,279.91 185.80,279.78 C186.33,279.65 186.87,279.83 187.40,279.79 C187.93,279.75 188.47,279.65 189.00,279.56 C189.53,279.48 190.07,279.30 190.60,279.30 C191.13,279.31 191.67,279.51 192.20,279.59 C192.73,279.67 193.53,279.75 193.80,279.78" fill="none" stroke="#1f4f96" stroke-width="1.45" stroke-linejoin="round"/><path d="M41.80,274.75 C42.07,274.79 42.87,275.01 43.40,274.94 C43.93,274.88 44.47,274.55 45.00,274.36 C45.53,274.18 46.07,273.93 46.60,273.83 C47.13,273.73 47.67,273.91 48.20,273.77 C48.73,273.63 49.27,273.23 49.80,272.99 C50.33,272.75 50.87,272.44 51.40,272.33 C51.93,272.23 52.47,272.58 53.00,272.37 C53.53,272.16 54.07,271.43 54.60,271.07 C55.13,270.72 55.67,270.49 56.20,270.25 C56.73,270.01 57.27,269.79 57.80,269.65 C58.33,269.51 58.87,269.43 59.40,269.39 C59.93,269.35 60.47,269.40 61.00,269.40 C61.53,269.39 62.07,269.32 62.60,269.37 C63.13,269.42 63.67,269.55 64.20,269.69 C64.73,269.83 65.27,270.12 65.80,270.24 C66.33,270.36 66.87,270.43 67.40,270.41 C67.93,270.39 68.47,270.12 69.00,270.11 C69.53,270.09 70.07,270.29 70.60,270.34 C71.13,270.39 71.67,270.36 72.20,270.39 C72.73,270.41 73.27,270.30 73.80,270.49 C74.33,270.67 74.87,271.26 75.40,271.48 C75.93,271.71 76.47,271.69 77.00,271.82 C77.53,271.96 78.07,272.01 78.60,272.29 C79.13,272.56 79.67,273.26 80.20,273.48 C80.73,273.70 81.27,273.57 81.80,273.61 C82.33,273.65 82.87,273.59 83.40,273.70 C83.93,273.80 84.47,273.96 85.00,274.23 C85.53,274.49 86.07,275.20 86.60,275.30 C87.13,275.39 87.67,274.80 88.20,274.81 C88.73,274.83 89.27,275.25 89.80,275.39 C90.33,275.53 90.87,275.56 91.40,275.64 C91.93,275.72 92.47,275.82 93.00,275.89 C93.53,275.96 94.07,276.11 94.60,276.08 C95.13,276.05 95.67,275.82 96.20,275.69 C96.73,275.55 97.27,275.43 97.80,275.27 C98.33,275.11 98.87,274.94 99.40,274.73 C99.93,274.53 100.47,274.17 101.00,274.04 C101.53,273.91 102.07,273.97 102.60,273.94 C103.13,273.92 103.67,274.04 104.20,273.87 C104.73,273.70 105.27,273.04 105.80,272.91 C106.33,272.79 106.87,273.20 107.40,273.11 C107.93,273.01 108.47,272.51 109.00,272.33 C109.53,272.15 110.07,272.13 110.60,272.03 C111.13,271.93 111.67,271.84 112.20,271.74 C112.73,271.63 113.27,271.56 113.80,271.40 C114.33,271.24 114.87,271.07 115.40,270.78 C115.93,270.48 116.47,269.70 117.00,269.61 C117.53,269.53 118.07,270.34 118.60,270.26 C119.13,270.18 119.67,269.44 120.20,269.12 C120.73,268.81 121.27,268.53 121.80,268.37 C122.33,268.22 122.87,268.36 123.40,268.19 C123.93,268.01 124.47,267.56 125.00,267.30 C125.53,267.04 126.07,266.70 126.60,266.62 C127.13,266.54 127.67,266.84 128.20,266.80 C128.73,266.76 129.27,266.57 129.80,266.36 C130.33,266.15 130.87,265.67 131.40,265.53 C131.93,265.40 132.47,265.66 133.00,265.56 C133.53,265.47 134.07,265.20 134.60,264.96 C135.13,264.72 135.67,264.16 136.20,264.14 C136.73,264.13 137.27,264.79 137.80,264.86 C138.33,264.93 138.87,264.61 139.40,264.58 C139.93,264.54 140.47,264.42 141.00,264.66 C141.53,264.89 142.07,265.58 142.60,265.97 C143.13,266.35 143.67,266.53 144.20,266.96 C144.73,267.39 145.27,268.14 145.80,268.56 C146.33,268.98 146.87,268.89 147.40,269.45 C147.93,270.02 148.47,271.22 149.00,271.93 C149.53,272.63 150.07,273.11 150.60,273.67 C151.13,274.23 151.67,274.76 152.20,275.29 C152.73,275.82 153.27,276.31 153.80,276.84 C154.33,277.36 154.87,278.01 155.40,278.44 C155.93,278.87 156.47,279.13 157.00,279.41 C157.53,279.70 158.07,279.96 158.60,280.14 C159.13,280.33 159.67,280.29 160.20,280.52 C160.73,280.76 161.27,281.36 161.80,281.57 C162.33,281.78 162.87,281.75 163.40,281.77 C163.93,281.79 164.47,281.69 165.00,281.67 C165.53,281.65 166.07,281.63 166.60,281.65 C167.13,281.66 167.67,281.93 168.20,281.76 C168.73,281.59 169.27,280.70 169.80,280.61 C170.33,280.53 170.87,281.34 171.40,281.25 C171.93,281.16 172.47,280.20 173.00,280.07 C173.53,279.94 174.07,280.47 174.60,280.47 C175.13,280.47 175.67,280.23 176.20,280.10 C176.73,279.97 177.27,279.96 177.80,279.68 C178.33,279.39 178.87,278.60 179.40,278.37 C179.93,278.14 180.47,278.36 181.00,278.31 C181.53,278.25 182.07,278.17 182.60,278.02 C183.13,277.86 183.67,277.31 184.20,277.36 C184.73,277.42 185.27,278.19 185.80,278.36 C186.33,278.53 186.87,278.29 187.40,278.36 C187.93,278.42 188.47,278.65 189.00,278.73 C189.53,278.81 190.07,278.71 190.60,278.84 C191.13,278.97 191.67,279.34 192.20,279.51 C192.73,279.68 193.53,279.79 193.80,279.84" fill="none" stroke="#e4a83a" stroke-width="1.45" stroke-linejoin="round"/><path d="M41.80,276.55 C42.07,276.70 42.87,277.32 43.40,277.45 C43.93,277.57 44.47,277.27 45.00,277.31 C45.53,277.34 46.07,277.37 46.60,277.64 C47.13,277.91 47.67,278.58 48.20,278.93 C48.73,279.29 49.27,279.51 49.80,279.77 C50.33,280.02 50.87,280.21 51.40,280.47 C51.93,280.74 52.47,281.09 53.00,281.36 C53.53,281.63 54.07,281.83 54.60,282.10 C55.13,282.37 55.67,282.65 56.20,282.96 C56.73,283.27 57.27,283.60 57.80,283.98 C58.33,284.36 58.87,284.88 59.40,285.24 C59.93,285.60 60.47,285.83 61.00,286.17 C61.53,286.51 62.07,287.04 62.60,287.26 C63.13,287.49 63.67,287.56 64.20,287.51 C64.73,287.46 65.27,287.00 65.80,286.98 C66.33,286.96 66.87,287.41 67.40,287.38 C67.93,287.35 68.47,286.90 69.00,286.80 C69.53,286.70 70.07,286.80 70.60,286.80 C71.13,286.79 71.67,286.78 72.20,286.78 C72.73,286.78 73.27,286.80 73.80,286.79 C74.33,286.77 74.87,286.45 75.40,286.69 C75.93,286.92 76.47,287.92 77.00,288.19 C77.53,288.47 78.07,288.02 78.60,288.33 C79.13,288.64 79.67,289.76 80.20,290.05 C80.73,290.34 81.27,289.95 81.80,290.07 C82.33,290.18 82.87,290.47 83.40,290.74 C83.93,291.01 84.47,291.69 85.00,291.71 C85.53,291.72 86.07,290.87 86.60,290.83 C87.13,290.78 87.67,291.40 88.20,291.44 C88.73,291.47 89.27,291.10 89.80,291.04 C90.33,290.97 90.87,291.10 91.40,291.05 C91.93,291.01 92.47,290.77 93.00,290.76 C93.53,290.74 94.07,291.02 94.60,290.95 C95.13,290.87 95.67,290.45 96.20,290.32 C96.73,290.18 97.27,290.21 97.80,290.14 C98.33,290.06 98.87,290.07 99.40,289.86 C99.93,289.65 100.47,288.90 101.00,288.86 C101.53,288.82 102.07,289.60 102.60,289.64 C103.13,289.67 103.67,289.24 104.20,289.07 C104.73,288.90 105.27,288.65 105.80,288.60 C106.33,288.55 106.87,288.72 107.40,288.79 C107.93,288.85 108.47,289.02 109.00,288.98 C109.53,288.95 110.07,288.84 110.60,288.58 C111.13,288.32 111.67,287.73 112.20,287.43 C112.73,287.14 113.27,287.08 113.80,286.82 C114.33,286.56 114.87,286.14 115.40,285.86 C115.93,285.58 116.47,285.45 117.00,285.15 C117.53,284.85 118.07,284.28 118.60,284.08 C119.13,283.89 119.67,284.15 120.20,283.98 C120.73,283.81 121.27,283.27 121.80,283.04 C122.33,282.82 122.87,282.73 123.40,282.61 C123.93,282.49 124.47,282.50 125.00,282.30 C125.53,282.10 126.07,281.77 126.60,281.42 C127.13,281.06 127.67,280.52 128.20,280.17 C128.73,279.81 129.27,279.65 129.80,279.29 C130.33,278.93 130.87,278.39 131.40,278.00 C131.93,277.61 132.47,277.30 133.00,276.94 C133.53,276.59 134.07,276.27 134.60,275.89 C135.13,275.51 135.67,275.00 136.20,274.67 C136.73,274.34 137.27,274.20 137.80,273.91 C138.33,273.62 138.87,273.15 139.40,272.94 C139.93,272.72 140.47,272.74 141.00,272.64 C141.53,272.55 142.07,272.13 142.60,272.38 C143.13,272.62 143.67,273.60 144.20,274.12 C144.73,274.65 145.27,274.92 145.80,275.53 C146.33,276.15 146.87,277.14 147.40,277.81 C147.93,278.48 148.47,278.76 149.00,279.56 C149.53,280.37 150.07,281.70 150.60,282.65 C151.13,283.61 151.67,284.50 152.20,285.30 C152.73,286.10 153.27,286.59 153.80,287.46 C154.33,288.33 154.87,289.71 155.40,290.53 C155.93,291.35 156.47,291.98 157.00,292.38 C157.53,292.78 158.07,292.58 158.60,292.92 C159.13,293.26 159.67,293.98 160.20,294.42 C160.73,294.86 161.27,295.43 161.80,295.56 C162.33,295.70 162.87,295.10 163.40,295.23 C163.93,295.36 164.47,296.09 165.00,296.34 C165.53,296.60 166.07,296.69 166.60,296.76 C167.13,296.83 167.67,297.01 168.20,296.78 C168.73,296.54 169.27,295.67 169.80,295.33 C170.33,294.98 170.87,294.89 171.40,294.71 C171.93,294.53 172.47,294.43 173.00,294.26 C173.53,294.09 174.07,294.07 174.60,293.71 C175.13,293.34 175.67,292.45 176.20,292.05 C176.73,291.66 177.27,291.60 177.80,291.34 C178.33,291.07 178.87,290.59 179.40,290.47 C179.93,290.34 180.47,290.72 181.00,290.59 C181.53,290.46 182.07,289.82 182.60,289.69 C183.13,289.55 183.67,289.78 184.20,289.78 C184.73,289.78 185.27,289.67 185.80,289.71 C186.33,289.74 186.87,289.93 187.40,290.00 C187.93,290.07 188.47,290.04 189.00,290.14 C189.53,290.25 190.07,290.42 190.60,290.63 C191.13,290.83 191.67,291.22 192.20,291.37 C192.73,291.52 193.53,291.51 193.80,291.53" fill="none" stroke="#c85068" stroke-width="1.45" stroke-linejoin="round"/></g><rect x="47.90" y="297.40" width="69.70" height="9.50" fill="#ffff00"/><rect x="117.60" y="297.40" width="76.70" height="9.50" fill="#bebebe"/><text x="82.70" y="305.20" font-size="8.20" text-anchor="middle" fill="#000">FP</text><text x="152.60" y="305.20" font-size="8.20" text-anchor="middle" fill="#000">Delay</text><rect x="42.60" y="224.20" width="10.20" height="7.20" fill="#dcdcdc" fill-opacity="0.32"/><line x1="42.90" y1="227.80" x2="52.40" y2="227.80" stroke="#666666" stroke-width="1.4" stroke-linecap="butt"/><text x="61.00" y="230.50" font-size="8.20" text-anchor="start" fill="#000">Neutral cue</text><rect x="42.60" y="231.75" width="10.20" height="7.20" fill="#a9bfe0" fill-opacity="0.32"/><line x1="42.90" y1="235.35" x2="52.40" y2="235.35" stroke="#1f4f96" stroke-width="1.4" stroke-linecap="butt"/><text x="61.00" y="238.05" font-size="8.20" text-anchor="start" fill="#000">Spatial cue</text><rect x="42.60" y="239.30" width="10.20" height="7.20" fill="#ecd3a0" fill-opacity="0.32"/><line x1="42.90" y1="242.90" x2="52.40" y2="242.90" stroke="#e4a83a" stroke-width="1.4" stroke-linecap="butt"/><text x="61.00" y="245.60" font-size="8.20" text-anchor="start" fill="#000">Temporal cue</text><rect x="42.60" y="246.85" width="10.20" height="7.20" fill="#ebbcc6" fill-opacity="0.32"/><line x1="42.90" y1="250.45" x2="52.40" y2="250.45" stroke="#c85068" stroke-width="1.4" stroke-linecap="butt"/><text x="61.00" y="253.15" font-size="8.20" text-anchor="start" fill="#000">Spatiotemporal cue</text><rect x="41.00" y="221.00" width="153.30" height="85.90" fill="none" stroke="#000" stroke-width="1.4"/><line x1="117.60" y1="255.20" x2="117.60" y2="330.50" stroke="#000" stroke-width="1.2" stroke-dasharray="3.6 2.9" stroke-linecap="butt"/><line x1="37.30" y1="242.30" x2="41.00" y2="242.30" stroke="#000" stroke-width="0.8" stroke-linecap="butt"/><text x="34.40" y="245.20" font-size="8.00" text-anchor="end" fill="#000">0.5</text><line x1="37.30" y1="271.60" x2="41.00" y2="271.60" stroke="#000" stroke-width="0.8" stroke-linecap="butt"/><text x="34.40" y="274.50" font-size="8.00" text-anchor="end" fill="#000">0.0</text><line x1="37.30" y1="300.90" x2="41.00" y2="300.90" stroke="#000" stroke-width="0.8" stroke-linecap="butt"/><text x="34.40" y="303.80" font-size="8.00" text-anchor="end" fill="#000">−0.5</text><line x1="47.50" y1="306.90" x2="47.50" y2="310.40" stroke="#000" stroke-width="0.8" stroke-linecap="butt"/><text x="47.50" y="320.20" font-size="8.00" text-anchor="middle" fill="#000">−0.5</text><line x1="117.60" y1="306.90" x2="117.60" y2="310.40" stroke="#000" stroke-width="0.8" stroke-linecap="butt"/><text x="117.60" y="320.20" font-size="8.00" text-anchor="middle" fill="#000">0.0</text><line x1="187.70" y1="306.90" x2="187.70" y2="310.40" stroke="#000" stroke-width="0.8" stroke-linecap="butt"/><text x="187.70" y="320.20" font-size="8.00" text-anchor="middle" fill="#000">0.5</text><text x="117.70" y="331.00" font-size="8.20" text-anchor="middle" fill="#000" textLength="107.4" lengthAdjust="spacingAndGlyphs">Time from 1st target onset (s)</text><text x="13.70" y="263.30" font-size="8.00" text-anchor="middle" fill="#000" transform="rotate(-90 13.70 263.30)" textLength="81.4" lengthAdjust="spacingAndGlyphs">Alpha power (z−score)</text><text x="467.80" y="211.90" font-size="10.85" text-anchor="middle" fill="#000" textLength="118.5" lengthAdjust="spacingAndGlyphs">Peri−targets theta power</text><clipPath id="cd"><rect x="391.40" y="221.10" width="153.20" height="85.70"/></clipPath><g clip-path="url(#cd)"><path d="M392.20,252.04 L393.80,251.80 L395.40,252.62 L397.00,252.43 L398.60,253.51 L400.20,254.38 L401.80,254.78 L403.40,254.09 L405.00,254.17 L406.60,253.97 L408.20,252.85 L409.80,253.78 L411.40,253.08 L413.00,252.63 L414.60,252.38 L416.20,251.53 L417.80,251.20 L419.40,250.83 L421.00,250.21 L422.60,249.25 L424.20,248.46 L425.80,248.59 L427.40,248.34 L429.00,248.12 L430.60,249.44 L432.20,250.18 L433.80,251.08 L435.40,251.87 L437.00,252.84 L438.60,253.90 L440.20,254.12 L441.80,255.21 L443.40,255.02 L445.00,254.85 L446.60,254.70 L448.20,253.73 L449.80,253.22 L451.40,252.38 L453.00,252.04 L454.60,251.64 L456.20,251.11 L457.80,250.81 L459.40,251.08 L461.00,250.95 L462.60,250.22 L464.20,250.18 L465.80,250.56 L467.40,250.67 L469.00,250.11 L470.60,250.43 L472.20,250.91 L473.80,250.90 L475.40,250.02 L477.00,248.51 L478.60,248.18 L480.20,246.55 L481.80,245.13 L483.40,243.93 L485.00,242.08 L486.60,240.63 L488.20,238.43 L489.80,238.12 L491.40,236.45 L493.00,235.14 L494.60,234.47 L496.20,233.95 L497.80,233.69 L499.40,234.01 L501.00,235.02 L502.60,235.67 L504.20,237.47 L505.80,239.59 L507.40,241.89 L509.00,243.41 L510.60,245.31 L512.20,247.09 L513.80,248.60 L515.40,250.48 L517.00,251.99 L518.60,253.36 L520.20,254.91 L521.80,256.40 L523.40,257.41 L525.00,258.48 L526.60,259.76 L528.20,260.49 L529.80,261.05 L531.40,261.70 L533.00,261.75 L534.60,262.11 L536.20,262.40 L537.80,262.72 L539.40,263.58 L541.00,263.88 L542.60,264.04 L542.60,278.04 L541.00,277.88 L539.40,277.58 L537.80,276.72 L536.20,276.40 L534.60,276.11 L533.00,275.75 L531.40,275.70 L529.80,275.05 L528.20,274.49 L526.60,273.76 L525.00,272.48 L523.40,271.41 L521.80,270.40 L520.20,268.91 L518.60,267.36 L517.00,265.99 L515.40,264.48 L513.80,262.60 L512.20,261.09 L510.60,259.31 L509.00,257.41 L507.40,255.89 L505.80,253.59 L504.20,251.47 L502.60,249.67 L501.00,249.02 L499.40,248.01 L497.80,247.69 L496.20,247.95 L494.60,248.47 L493.00,249.14 L491.40,250.45 L489.80,252.12 L488.20,252.43 L486.60,254.63 L485.00,256.08 L483.40,257.93 L481.80,259.13 L480.20,260.55 L478.60,262.18 L477.00,262.51 L475.40,264.02 L473.80,264.90 L472.20,264.91 L470.60,264.43 L469.00,264.11 L467.40,264.67 L465.80,264.56 L464.20,264.18 L462.60,264.22 L461.00,264.95 L459.40,265.08 L457.80,264.81 L456.20,265.11 L454.60,265.64 L453.00,266.04 L451.40,266.38 L449.80,267.22 L448.20,267.73 L446.60,268.70 L445.00,268.85 L443.40,269.02 L441.80,269.21 L440.20,268.12 L438.60,267.90 L437.00,266.84 L435.40,265.87 L433.80,265.08 L432.20,264.18 L430.60,263.44 L429.00,262.12 L427.40,262.34 L425.80,262.59 L424.20,262.46 L422.60,263.25 L421.00,264.21 L419.40,264.83 L417.80,265.20 L416.20,265.53 L414.60,266.38 L413.00,266.63 L411.40,267.08 L409.80,267.78 L408.20,266.85 L406.60,267.97 L405.00,268.17 L403.40,268.09 L401.80,268.78 L400.20,268.38 L398.60,267.51 L397.00,266.43 L395.40,266.62 L393.80,265.80 L392.20,266.04 Z" fill="#c8c8c8" fill-opacity="0.35" stroke="none"/><path d="M392.20,252.86 L393.80,254.10 L395.40,254.84 L397.00,256.20 L398.60,257.74 L400.20,259.10 L401.80,259.41 L403.40,259.37 L405.00,259.72 L406.60,260.10 L408.20,260.59 L409.80,260.57 L411.40,260.83 L413.00,261.41 L414.60,262.21 L416.20,262.73 L417.80,263.75 L419.40,264.64 L421.00,265.84 L422.60,266.09 L424.20,267.05 L425.80,266.99 L427.40,267.99 L429.00,268.16 L430.60,268.29 L432.20,268.72 L433.80,269.21 L435.40,269.00 L437.00,269.46 L438.60,269.49 L440.20,269.25 L441.80,268.91 L443.40,267.83 L445.00,268.33 L446.60,268.36 L448.20,269.36 L449.80,269.67 L451.40,270.19 L453.00,270.59 L454.60,270.51 L456.20,270.93 L457.80,270.99 L459.40,272.13 L461.00,271.55 L462.60,271.52 L464.20,270.48 L465.80,269.86 L467.40,269.30 L469.00,269.07 L470.60,268.36 L472.20,267.49 L473.80,266.41 L475.40,266.24 L477.00,264.43 L478.60,263.36 L480.20,262.39 L481.80,260.20 L483.40,258.53 L485.00,256.53 L486.60,253.96 L488.20,251.80 L489.80,249.34 L491.40,247.03 L493.00,244.79 L494.60,244.76 L496.20,245.21 L497.80,245.31 L499.40,246.49 L501.00,247.80 L502.60,249.34 L504.20,249.78 L505.80,251.25 L507.40,252.68 L509.00,253.96 L510.60,254.58 L512.20,256.73 L513.80,257.14 L515.40,258.92 L517.00,259.75 L518.60,261.11 L520.20,262.60 L521.80,263.36 L523.40,264.20 L525.00,264.88 L526.60,266.05 L528.20,266.96 L529.80,269.16 L531.40,269.32 L533.00,270.26 L534.60,272.80 L536.20,273.98 L537.80,274.72 L539.40,276.15 L541.00,276.52 L542.60,277.19 L542.60,289.19 L541.00,288.52 L539.40,288.15 L537.80,286.72 L536.20,285.98 L534.60,284.80 L533.00,282.26 L531.40,281.32 L529.80,281.16 L528.20,278.96 L526.60,278.05 L525.00,276.88 L523.40,276.20 L521.80,275.36 L520.20,274.60 L518.60,273.11 L517.00,271.75 L515.40,270.92 L513.80,269.14 L512.20,268.73 L510.60,266.58 L509.00,265.96 L507.40,264.68 L505.80,263.25 L504.20,261.78 L502.60,261.34 L501.00,259.80 L499.40,258.49 L497.80,257.31 L496.20,257.21 L494.60,256.76 L493.00,256.79 L491.40,259.03 L489.80,261.34 L488.20,263.80 L486.60,265.96 L485.00,268.53 L483.40,270.53 L481.80,272.20 L480.20,274.39 L478.60,275.36 L477.00,276.43 L475.40,278.24 L473.80,278.41 L472.20,279.49 L470.60,280.36 L469.00,281.07 L467.40,281.30 L465.80,281.86 L464.20,282.48 L462.60,283.52 L461.00,283.55 L459.40,284.13 L457.80,282.99 L456.20,282.93 L454.60,282.51 L453.00,282.59 L451.40,282.19 L449.80,281.67 L448.20,281.36 L446.60,280.36 L445.00,280.33 L443.40,279.83 L441.80,280.91 L440.20,281.25 L438.60,281.49 L437.00,281.46 L435.40,281.00 L433.80,281.21 L432.20,280.72 L430.60,280.29 L429.00,280.16 L427.40,279.99 L425.80,278.99 L424.20,279.05 L422.60,278.09 L421.00,277.84 L419.40,276.64 L417.80,275.75 L416.20,274.73 L414.60,274.21 L413.00,273.41 L411.40,272.83 L409.80,272.57 L408.20,272.59 L406.60,272.10 L405.00,271.72 L403.40,271.37 L401.80,271.41 L400.20,271.10 L398.60,269.74 L397.00,268.20 L395.40,266.84 L393.80,266.10 L392.20,264.86 Z" fill="#a9bfe0" fill-opacity="0.35" stroke="none"/><path d="M392.20,255.46 L393.80,255.86 L395.40,257.77 L397.00,257.72 L398.60,258.45 L400.20,259.34 L401.80,259.78 L403.40,260.34 L405.00,261.16 L406.60,261.14 L408.20,261.75 L409.80,261.64 L411.40,261.34 L413.00,261.68 L414.60,262.02 L416.20,261.89 L417.80,262.77 L419.40,263.05 L421.00,263.82 L422.60,263.63 L424.20,264.16 L425.80,264.69 L427.40,264.97 L429.00,264.59 L430.60,265.48 L432.20,264.76 L433.80,265.19 L435.40,264.53 L437.00,264.33 L438.60,263.97 L440.20,264.27 L441.80,265.04 L443.40,264.02 L445.00,264.54 L446.60,264.18 L448.20,263.28 L449.80,263.42 L451.40,263.31 L453.00,262.78 L454.60,262.86 L456.20,263.64 L457.80,263.77 L459.40,264.87 L461.00,264.97 L462.60,265.02 L464.20,265.66 L465.80,265.29 L467.40,265.59 L469.00,265.01 L470.60,263.93 L472.20,262.95 L473.80,262.64 L475.40,261.31 L477.00,260.86 L478.60,259.12 L480.20,258.17 L481.80,256.71 L483.40,255.02 L485.00,254.61 L486.60,252.74 L488.20,250.55 L489.80,249.68 L491.40,247.79 L493.00,248.02 L494.60,247.58 L496.20,246.98 L497.80,247.04 L499.40,247.52 L501.00,248.20 L502.60,248.74 L504.20,249.53 L505.80,250.76 L507.40,251.91 L509.00,253.60 L510.60,254.75 L512.20,256.18 L513.80,256.97 L515.40,258.78 L517.00,260.14 L518.60,261.32 L520.20,262.39 L521.80,262.99 L523.40,263.07 L525.00,264.21 L526.60,264.49 L528.20,264.25 L529.80,264.75 L531.40,264.40 L533.00,264.50 L534.60,265.11 L536.20,266.05 L537.80,266.05 L539.40,266.30 L541.00,267.61 L542.60,267.97 L542.60,279.97 L541.00,279.61 L539.40,278.30 L537.80,278.05 L536.20,278.05 L534.60,277.11 L533.00,276.50 L531.40,276.40 L529.80,276.75 L528.20,276.25 L526.60,276.49 L525.00,276.21 L523.40,275.07 L521.80,274.99 L520.20,274.39 L518.60,273.32 L517.00,272.14 L515.40,270.78 L513.80,268.97 L512.20,268.18 L510.60,266.75 L509.00,265.60 L507.40,263.91 L505.80,262.76 L504.20,261.53 L502.60,260.74 L501.00,260.20 L499.40,259.52 L497.80,259.04 L496.20,258.98 L494.60,259.58 L493.00,260.02 L491.40,259.79 L489.80,261.68 L488.20,262.55 L486.60,264.74 L485.00,266.61 L483.40,267.02 L481.80,268.71 L480.20,270.17 L478.60,271.12 L477.00,272.86 L475.40,273.31 L473.80,274.64 L472.20,274.95 L470.60,275.93 L469.00,277.01 L467.40,277.59 L465.80,277.29 L464.20,277.66 L462.60,277.02 L461.00,276.97 L459.40,276.87 L457.80,275.77 L456.20,275.64 L454.60,274.86 L453.00,274.78 L451.40,275.31 L449.80,275.42 L448.20,275.28 L446.60,276.18 L445.00,276.54 L443.40,276.02 L441.80,277.04 L440.20,276.27 L438.60,275.97 L437.00,276.33 L435.40,276.53 L433.80,277.19 L432.20,276.76 L430.60,277.48 L429.00,276.59 L427.40,276.97 L425.80,276.69 L424.20,276.16 L422.60,275.63 L421.00,275.82 L419.40,275.05 L417.80,274.77 L416.20,273.89 L414.60,274.02 L413.00,273.68 L411.40,273.34 L409.80,273.64 L408.20,273.75 L406.60,273.14 L405.00,273.16 L403.40,272.34 L401.80,271.78 L400.20,271.34 L398.60,270.45 L397.00,269.72 L395.40,269.77 L393.80,267.86 L392.20,267.46 Z" fill="#ecd3a0" fill-opacity="0.35" stroke="none"/><path d="M392.20,251.68 L393.80,251.49 L395.40,253.07 L397.00,254.34 L398.60,255.82 L400.20,257.72 L401.80,259.61 L403.40,261.60 L405.00,263.55 L406.60,265.45 L408.20,266.75 L409.80,268.42 L411.40,269.51 L413.00,270.61 L414.60,271.64 L416.20,272.43 L417.80,273.12 L419.40,274.29 L421.00,274.89 L422.60,275.60 L424.20,276.13 L425.80,276.11 L427.40,276.70 L429.00,276.99 L430.60,278.08 L432.20,278.27 L433.80,278.91 L435.40,279.19 L437.00,279.59 L438.60,280.19 L440.20,280.61 L441.80,280.99 L443.40,280.63 L445.00,281.45 L446.60,281.44 L448.20,281.92 L449.80,282.40 L451.40,282.85 L453.00,283.65 L454.60,284.36 L456.20,284.80 L457.80,285.08 L459.40,285.73 L461.00,285.72 L462.60,285.36 L464.20,284.29 L465.80,282.61 L467.40,281.66 L469.00,280.41 L470.60,279.30 L472.20,277.44 L473.80,276.30 L475.40,274.80 L477.00,273.14 L478.60,272.30 L480.20,271.20 L481.80,269.83 L483.40,267.89 L485.00,267.07 L486.60,265.43 L488.20,263.73 L489.80,263.02 L491.40,261.48 L493.00,260.64 L494.60,260.68 L496.20,260.71 L497.80,260.59 L499.40,261.06 L501.00,262.39 L502.60,263.01 L504.20,263.95 L505.80,265.00 L507.40,267.58 L509.00,268.23 L510.60,269.64 L512.20,271.89 L513.80,273.63 L515.40,274.69 L517.00,276.25 L518.60,276.59 L520.20,277.13 L521.80,277.56 L523.40,277.53 L525.00,277.97 L526.60,278.74 L528.20,277.81 L529.80,278.04 L531.40,277.83 L533.00,277.13 L534.60,277.01 L536.20,276.53 L537.80,277.16 L539.40,277.73 L541.00,278.51 L542.60,278.86 L542.60,292.86 L541.00,292.51 L539.40,291.73 L537.80,291.16 L536.20,290.53 L534.60,291.01 L533.00,291.13 L531.40,291.83 L529.80,292.04 L528.20,291.81 L526.60,292.74 L525.00,291.97 L523.40,291.53 L521.80,291.56 L520.20,291.13 L518.60,290.59 L517.00,290.25 L515.40,288.69 L513.80,287.63 L512.20,285.89 L510.60,283.64 L509.00,282.23 L507.40,281.58 L505.80,279.00 L504.20,277.95 L502.60,277.01 L501.00,276.39 L499.40,275.06 L497.80,274.59 L496.20,274.71 L494.60,274.68 L493.00,274.64 L491.40,275.48 L489.80,277.02 L488.20,277.73 L486.60,279.43 L485.00,281.07 L483.40,281.89 L481.80,283.83 L480.20,285.20 L478.60,286.30 L477.00,287.14 L475.40,288.80 L473.80,290.30 L472.20,291.44 L470.60,293.30 L469.00,294.41 L467.40,295.66 L465.80,296.61 L464.20,298.29 L462.60,299.36 L461.00,299.72 L459.40,299.73 L457.80,299.08 L456.20,298.80 L454.60,298.36 L453.00,297.65 L451.40,296.85 L449.80,296.40 L448.20,295.92 L446.60,295.44 L445.00,295.45 L443.40,294.63 L441.80,294.99 L440.20,294.61 L438.60,294.19 L437.00,293.59 L435.40,293.19 L433.80,292.91 L432.20,292.27 L430.60,292.08 L429.00,290.99 L427.40,290.70 L425.80,290.11 L424.20,290.13 L422.60,289.60 L421.00,288.89 L419.40,288.29 L417.80,287.12 L416.20,286.43 L414.60,285.64 L413.00,284.61 L411.40,283.51 L409.80,282.42 L408.20,280.75 L406.60,279.45 L405.00,277.55 L403.40,275.60 L401.80,273.61 L400.20,271.72 L398.60,269.82 L397.00,268.34 L395.40,267.07 L393.80,265.49 L392.20,265.68 Z" fill="#ebbcc6" fill-opacity="0.35" stroke="none"/><path d="M392.20,259.04 C392.47,259.00 393.27,258.70 393.80,258.80 C394.33,258.90 394.87,259.52 395.40,259.62 C395.93,259.73 396.47,259.28 397.00,259.43 C397.53,259.57 398.07,260.18 398.60,260.51 C399.13,260.83 399.67,261.16 400.20,261.38 C400.73,261.59 401.27,261.82 401.80,261.78 C402.33,261.73 402.87,261.19 403.40,261.09 C403.93,260.99 404.47,261.19 405.00,261.17 C405.53,261.15 406.07,261.19 406.60,260.97 C407.13,260.75 407.67,259.89 408.20,259.85 C408.73,259.82 409.27,260.74 409.80,260.78 C410.33,260.81 410.87,260.27 411.40,260.08 C411.93,259.89 412.47,259.75 413.00,259.63 C413.53,259.52 414.07,259.56 414.60,259.38 C415.13,259.20 415.67,258.72 416.20,258.53 C416.73,258.33 417.27,258.32 417.80,258.20 C418.33,258.09 418.87,258.00 419.40,257.83 C419.93,257.67 420.47,257.48 421.00,257.21 C421.53,256.95 422.07,256.54 422.60,256.25 C423.13,255.96 423.67,255.57 424.20,255.46 C424.73,255.35 425.27,255.61 425.80,255.59 C426.33,255.57 426.87,255.42 427.40,255.34 C427.93,255.26 428.47,254.94 429.00,255.12 C429.53,255.30 430.07,256.09 430.60,256.44 C431.13,256.78 431.67,256.91 432.20,257.18 C432.73,257.46 433.27,257.80 433.80,258.08 C434.33,258.36 434.87,258.58 435.40,258.87 C435.93,259.16 436.47,259.51 437.00,259.84 C437.53,260.18 438.07,260.69 438.60,260.90 C439.13,261.12 439.67,260.90 440.20,261.12 C440.73,261.34 441.27,262.06 441.80,262.21 C442.33,262.36 442.87,262.08 443.40,262.02 C443.93,261.97 444.47,261.90 445.00,261.85 C445.53,261.80 446.07,261.89 446.60,261.70 C447.13,261.52 447.67,260.97 448.20,260.73 C448.73,260.48 449.27,260.45 449.80,260.22 C450.33,260.00 450.87,259.57 451.40,259.38 C451.93,259.18 452.47,259.16 453.00,259.04 C453.53,258.91 454.07,258.80 454.60,258.64 C455.13,258.49 455.67,258.25 456.20,258.11 C456.73,257.97 457.27,257.81 457.80,257.81 C458.33,257.80 458.87,258.06 459.40,258.08 C459.93,258.11 460.47,258.09 461.00,257.95 C461.53,257.81 462.07,257.34 462.60,257.22 C463.13,257.09 463.67,257.13 464.20,257.18 C464.73,257.24 465.27,257.48 465.80,257.56 C466.33,257.64 466.87,257.75 467.40,257.67 C467.93,257.59 468.47,257.15 469.00,257.11 C469.53,257.07 470.07,257.29 470.60,257.43 C471.13,257.56 471.67,257.83 472.20,257.91 C472.73,257.99 473.27,258.05 473.80,257.90 C474.33,257.75 474.87,257.42 475.40,257.02 C475.93,256.62 476.47,255.81 477.00,255.51 C477.53,255.20 478.07,255.51 478.60,255.18 C479.13,254.85 479.67,254.05 480.20,253.55 C480.73,253.04 481.27,252.57 481.80,252.13 C482.33,251.70 482.87,251.44 483.40,250.93 C483.93,250.42 484.47,249.63 485.00,249.08 C485.53,248.53 486.07,248.24 486.60,247.63 C487.13,247.02 487.67,245.85 488.20,245.43 C488.73,245.01 489.27,245.45 489.80,245.12 C490.33,244.79 490.87,243.94 491.40,243.45 C491.93,242.95 492.47,242.47 493.00,242.14 C493.53,241.81 494.07,241.67 494.60,241.47 C495.13,241.28 495.67,241.08 496.20,240.95 C496.73,240.82 497.27,240.68 497.80,240.69 C498.33,240.70 498.87,240.79 499.40,241.01 C499.93,241.23 500.47,241.74 501.00,242.02 C501.53,242.29 502.07,242.26 502.60,242.67 C503.13,243.07 503.67,243.81 504.20,244.47 C504.73,245.12 505.27,245.85 505.80,246.59 C506.33,247.32 506.87,248.25 507.40,248.89 C507.93,249.53 508.47,249.84 509.00,250.41 C509.53,250.98 510.07,251.69 510.60,252.31 C511.13,252.92 511.67,253.55 512.20,254.09 C512.73,254.64 513.27,255.04 513.80,255.60 C514.33,256.17 514.87,256.92 515.40,257.48 C515.93,258.05 516.47,258.51 517.00,258.99 C517.53,259.47 518.07,259.88 518.60,260.36 C519.13,260.85 519.67,261.41 520.20,261.91 C520.73,262.42 521.27,262.99 521.80,263.40 C522.33,263.82 522.87,264.06 523.40,264.41 C523.93,264.76 524.47,265.09 525.00,265.48 C525.53,265.87 526.07,266.43 526.60,266.76 C527.13,267.09 527.67,267.27 528.20,267.49 C528.73,267.70 529.27,267.85 529.80,268.05 C530.33,268.25 530.87,268.58 531.40,268.70 C531.93,268.81 532.47,268.68 533.00,268.75 C533.53,268.82 534.07,269.01 534.60,269.11 C535.13,269.22 535.67,269.30 536.20,269.40 C536.73,269.50 537.27,269.52 537.80,269.72 C538.33,269.92 538.87,270.39 539.40,270.58 C539.93,270.78 540.47,270.81 541.00,270.88 C541.53,270.96 542.33,271.01 542.60,271.04" fill="none" stroke="#666666" stroke-width="1.45" stroke-linejoin="round"/><path d="M392.20,258.86 C392.47,259.07 393.27,259.77 393.80,260.10 C394.33,260.43 394.87,260.49 395.40,260.84 C395.93,261.19 396.47,261.71 397.00,262.20 C397.53,262.68 398.07,263.26 398.60,263.74 C399.13,264.23 399.67,264.82 400.20,265.10 C400.73,265.38 401.27,265.36 401.80,265.41 C402.33,265.45 402.87,265.31 403.40,265.37 C403.93,265.42 404.47,265.60 405.00,265.72 C405.53,265.84 406.07,265.95 406.60,266.10 C407.13,266.24 407.67,266.51 408.20,266.59 C408.73,266.67 409.27,266.52 409.80,266.57 C410.33,266.61 410.87,266.69 411.40,266.83 C411.93,266.97 412.47,267.18 413.00,267.41 C413.53,267.64 414.07,267.99 414.60,268.21 C415.13,268.43 415.67,268.47 416.20,268.73 C416.73,268.98 417.27,269.44 417.80,269.75 C418.33,270.07 418.87,270.29 419.40,270.64 C419.93,270.98 420.47,271.60 421.00,271.84 C421.53,272.08 422.07,271.89 422.60,272.09 C423.13,272.29 423.67,272.90 424.20,273.05 C424.73,273.20 425.27,272.83 425.80,272.99 C426.33,273.15 426.87,273.79 427.40,273.99 C427.93,274.18 428.47,274.11 429.00,274.16 C429.53,274.21 430.07,274.20 430.60,274.29 C431.13,274.39 431.67,274.56 432.20,274.72 C432.73,274.87 433.27,275.16 433.80,275.21 C434.33,275.25 434.87,274.96 435.40,275.00 C435.93,275.05 436.47,275.37 437.00,275.46 C437.53,275.54 438.07,275.53 438.60,275.49 C439.13,275.46 439.67,275.35 440.20,275.25 C440.73,275.16 441.27,275.15 441.80,274.91 C442.33,274.68 442.87,273.93 443.40,273.83 C443.93,273.74 444.47,274.24 445.00,274.33 C445.53,274.42 446.07,274.19 446.60,274.36 C447.13,274.53 447.67,275.15 448.20,275.36 C448.73,275.58 449.27,275.54 449.80,275.67 C450.33,275.81 450.87,276.04 451.40,276.19 C451.93,276.34 452.47,276.53 453.00,276.59 C453.53,276.64 454.07,276.45 454.60,276.51 C455.13,276.57 455.67,276.86 456.20,276.93 C456.73,277.01 457.27,276.79 457.80,276.99 C458.33,277.19 458.87,278.03 459.40,278.13 C459.93,278.22 460.47,277.65 461.00,277.55 C461.53,277.45 462.07,277.69 462.60,277.52 C463.13,277.34 463.67,276.76 464.20,276.48 C464.73,276.20 465.27,276.05 465.80,275.86 C466.33,275.66 466.87,275.43 467.40,275.30 C467.93,275.17 468.47,275.22 469.00,275.07 C469.53,274.91 470.07,274.62 470.60,274.36 C471.13,274.10 471.67,273.81 472.20,273.49 C472.73,273.16 473.27,272.62 473.80,272.41 C474.33,272.21 474.87,272.57 475.40,272.24 C475.93,271.91 476.47,270.91 477.00,270.43 C477.53,269.95 478.07,269.70 478.60,269.36 C479.13,269.02 479.67,268.92 480.20,268.39 C480.73,267.86 481.27,266.84 481.80,266.20 C482.33,265.55 482.87,265.14 483.40,264.53 C483.93,263.91 484.47,263.29 485.00,262.53 C485.53,261.77 486.07,260.75 486.60,259.96 C487.13,259.18 487.67,258.57 488.20,257.80 C488.73,257.03 489.27,256.13 489.80,255.34 C490.33,254.54 490.87,253.79 491.40,253.03 C491.93,252.28 492.47,251.17 493.00,250.79 C493.53,250.41 494.07,250.69 494.60,250.76 C495.13,250.83 495.67,251.12 496.20,251.21 C496.73,251.30 497.27,251.10 497.80,251.31 C498.33,251.52 498.87,252.07 499.40,252.49 C499.93,252.90 500.47,253.32 501.00,253.80 C501.53,254.27 502.07,255.01 502.60,255.34 C503.13,255.67 503.67,255.46 504.20,255.78 C504.73,256.10 505.27,256.77 505.80,257.25 C506.33,257.73 506.87,258.23 507.40,258.68 C507.93,259.13 508.47,259.64 509.00,259.96 C509.53,260.27 510.07,260.12 510.60,260.58 C511.13,261.04 511.67,262.30 512.20,262.73 C512.73,263.16 513.27,262.78 513.80,263.14 C514.33,263.51 514.87,264.49 515.40,264.92 C515.93,265.36 516.47,265.39 517.00,265.75 C517.53,266.12 518.07,266.64 518.60,267.11 C519.13,267.59 519.67,268.22 520.20,268.60 C520.73,268.97 521.27,269.10 521.80,269.36 C522.33,269.63 522.87,269.95 523.40,270.20 C523.93,270.45 524.47,270.57 525.00,270.88 C525.53,271.19 526.07,271.71 526.60,272.05 C527.13,272.40 527.67,272.44 528.20,272.96 C528.73,273.48 529.27,274.77 529.80,275.16 C530.33,275.55 530.87,275.13 531.40,275.32 C531.93,275.50 532.47,275.68 533.00,276.26 C533.53,276.84 534.07,278.18 534.60,278.80 C535.13,279.42 535.67,279.66 536.20,279.98 C536.73,280.30 537.27,280.36 537.80,280.72 C538.33,281.08 538.87,281.85 539.40,282.15 C539.93,282.45 540.47,282.35 541.00,282.52 C541.53,282.69 542.33,283.08 542.60,283.19" fill="none" stroke="#1f4f96" stroke-width="1.45" stroke-linejoin="round"/><path d="M392.20,261.46 C392.47,261.53 393.27,261.48 393.80,261.86 C394.33,262.25 394.87,263.46 395.40,263.77 C395.93,264.08 396.47,263.61 397.00,263.72 C397.53,263.83 398.07,264.18 398.60,264.45 C399.13,264.72 399.67,265.12 400.20,265.34 C400.73,265.56 401.27,265.62 401.80,265.78 C402.33,265.95 402.87,266.11 403.40,266.34 C403.93,266.57 404.47,267.03 405.00,267.16 C405.53,267.29 406.07,267.04 406.60,267.14 C407.13,267.24 407.67,267.67 408.20,267.75 C408.73,267.84 409.27,267.71 409.80,267.64 C410.33,267.57 410.87,267.33 411.40,267.34 C411.93,267.35 412.47,267.57 413.00,267.68 C413.53,267.79 414.07,267.99 414.60,268.02 C415.13,268.06 415.67,267.77 416.20,267.89 C416.73,268.02 417.27,268.58 417.80,268.77 C418.33,268.97 418.87,268.88 419.40,269.05 C419.93,269.22 420.47,269.72 421.00,269.82 C421.53,269.91 422.07,269.57 422.60,269.63 C423.13,269.69 423.67,269.98 424.20,270.16 C424.73,270.34 425.27,270.55 425.80,270.69 C426.33,270.82 426.87,270.99 427.40,270.97 C427.93,270.95 428.47,270.50 429.00,270.59 C429.53,270.67 430.07,271.45 430.60,271.48 C431.13,271.51 431.67,270.81 432.20,270.76 C432.73,270.71 433.27,271.23 433.80,271.19 C434.33,271.15 434.87,270.67 435.40,270.53 C435.93,270.39 436.47,270.42 437.00,270.33 C437.53,270.24 438.07,269.98 438.60,269.97 C439.13,269.96 439.67,270.09 440.20,270.27 C440.73,270.45 441.27,271.08 441.80,271.04 C442.33,271.00 442.87,270.11 443.40,270.02 C443.93,269.94 444.47,270.51 445.00,270.54 C445.53,270.57 446.07,270.39 446.60,270.18 C447.13,269.97 447.67,269.41 448.20,269.28 C448.73,269.15 449.27,269.41 449.80,269.42 C450.33,269.42 450.87,269.41 451.40,269.31 C451.93,269.20 452.47,268.86 453.00,268.78 C453.53,268.71 454.07,268.72 454.60,268.86 C455.13,269.00 455.67,269.48 456.20,269.64 C456.73,269.79 457.27,269.56 457.80,269.77 C458.33,269.97 458.87,270.67 459.40,270.87 C459.93,271.07 460.47,270.94 461.00,270.97 C461.53,270.99 462.07,270.90 462.60,271.02 C463.13,271.13 463.67,271.62 464.20,271.66 C464.73,271.71 465.27,271.30 465.80,271.29 C466.33,271.27 466.87,271.63 467.40,271.59 C467.93,271.54 468.47,271.28 469.00,271.01 C469.53,270.73 470.07,270.28 470.60,269.93 C471.13,269.59 471.67,269.17 472.20,268.95 C472.73,268.74 473.27,268.91 473.80,268.64 C474.33,268.36 474.87,267.61 475.40,267.31 C475.93,267.01 476.47,267.22 477.00,266.86 C477.53,266.49 478.07,265.57 478.60,265.12 C479.13,264.68 479.67,264.58 480.20,264.17 C480.73,263.77 481.27,263.24 481.80,262.71 C482.33,262.18 482.87,261.37 483.40,261.02 C483.93,260.67 484.47,260.99 485.00,260.61 C485.53,260.23 486.07,259.41 486.60,258.74 C487.13,258.06 487.67,257.06 488.20,256.55 C488.73,256.04 489.27,256.14 489.80,255.68 C490.33,255.22 490.87,254.07 491.40,253.79 C491.93,253.51 492.47,254.05 493.00,254.02 C493.53,253.99 494.07,253.76 494.60,253.58 C495.13,253.41 495.67,253.08 496.20,252.98 C496.73,252.89 497.27,252.95 497.80,253.04 C498.33,253.13 498.87,253.33 499.40,253.52 C499.93,253.72 500.47,253.99 501.00,254.20 C501.53,254.40 502.07,254.52 502.60,254.74 C503.13,254.97 503.67,255.20 504.20,255.53 C504.73,255.87 505.27,256.37 505.80,256.76 C506.33,257.16 506.87,257.44 507.40,257.91 C507.93,258.38 508.47,259.13 509.00,259.60 C509.53,260.08 510.07,260.32 510.60,260.75 C511.13,261.18 511.67,261.81 512.20,262.18 C512.73,262.55 513.27,262.54 513.80,262.97 C514.33,263.40 514.87,264.25 515.40,264.78 C515.93,265.31 516.47,265.72 517.00,266.14 C517.53,266.57 518.07,266.94 518.60,267.32 C519.13,267.69 519.67,268.11 520.20,268.39 C520.73,268.67 521.27,268.87 521.80,268.99 C522.33,269.10 522.87,268.87 523.40,269.07 C523.93,269.27 524.47,269.97 525.00,270.21 C525.53,270.44 526.07,270.49 526.60,270.49 C527.13,270.50 527.67,270.20 528.20,270.25 C528.73,270.29 529.27,270.72 529.80,270.75 C530.33,270.78 530.87,270.45 531.40,270.40 C531.93,270.36 532.47,270.38 533.00,270.50 C533.53,270.61 534.07,270.85 534.60,271.11 C535.13,271.37 535.67,271.89 536.20,272.05 C536.73,272.20 537.27,272.01 537.80,272.05 C538.33,272.09 538.87,272.04 539.40,272.30 C539.93,272.56 540.47,273.33 541.00,273.61 C541.53,273.88 542.33,273.91 542.60,273.97" fill="none" stroke="#e4a83a" stroke-width="1.45" stroke-linejoin="round"/><path d="M392.20,258.68 C392.47,258.65 393.27,258.26 393.80,258.49 C394.33,258.72 394.87,259.60 395.40,260.07 C395.93,260.54 396.47,260.88 397.00,261.34 C397.53,261.80 398.07,262.26 398.60,262.82 C399.13,263.39 399.67,264.09 400.20,264.72 C400.73,265.36 401.27,265.97 401.80,266.61 C402.33,267.26 402.87,267.94 403.40,268.60 C403.93,269.25 404.47,269.91 405.00,270.55 C405.53,271.19 406.07,271.91 406.60,272.45 C407.13,272.98 407.67,273.26 408.20,273.75 C408.73,274.25 409.27,274.96 409.80,275.42 C410.33,275.88 410.87,276.14 411.40,276.51 C411.93,276.87 412.47,277.25 413.00,277.61 C413.53,277.96 414.07,278.34 414.60,278.64 C415.13,278.94 415.67,279.18 416.20,279.43 C416.73,279.68 417.27,279.81 417.80,280.12 C418.33,280.43 418.87,281.00 419.40,281.29 C419.93,281.59 420.47,281.68 421.00,281.89 C421.53,282.11 422.07,282.40 422.60,282.60 C423.13,282.81 423.67,283.04 424.20,283.13 C424.73,283.21 425.27,283.02 425.80,283.11 C426.33,283.21 426.87,283.55 427.40,283.70 C427.93,283.84 428.47,283.76 429.00,283.99 C429.53,284.22 430.07,284.87 430.60,285.08 C431.13,285.30 431.67,285.13 432.20,285.27 C432.73,285.41 433.27,285.76 433.80,285.91 C434.33,286.07 434.87,286.07 435.40,286.19 C435.93,286.30 436.47,286.42 437.00,286.59 C437.53,286.75 438.07,287.02 438.60,287.19 C439.13,287.36 439.67,287.47 440.20,287.61 C440.73,287.74 441.27,287.99 441.80,287.99 C442.33,288.00 442.87,287.55 443.40,287.63 C443.93,287.71 444.47,288.32 445.00,288.45 C445.53,288.59 446.07,288.36 446.60,288.44 C447.13,288.52 447.67,288.76 448.20,288.92 C448.73,289.08 449.27,289.25 449.80,289.40 C450.33,289.56 450.87,289.64 451.40,289.85 C451.93,290.05 452.47,290.40 453.00,290.65 C453.53,290.90 454.07,291.17 454.60,291.36 C455.13,291.55 455.67,291.68 456.20,291.80 C456.73,291.92 457.27,291.93 457.80,292.08 C458.33,292.24 458.87,292.62 459.40,292.73 C459.93,292.83 460.47,292.78 461.00,292.72 C461.53,292.66 462.07,292.59 462.60,292.36 C463.13,292.12 463.67,291.74 464.20,291.29 C464.73,290.83 465.27,290.05 465.80,289.61 C466.33,289.17 466.87,289.03 467.40,288.66 C467.93,288.30 468.47,287.80 469.00,287.41 C469.53,287.01 470.07,286.79 470.60,286.30 C471.13,285.80 471.67,284.94 472.20,284.44 C472.73,283.94 473.27,283.74 473.80,283.30 C474.33,282.86 474.87,282.33 475.40,281.80 C475.93,281.28 476.47,280.56 477.00,280.14 C477.53,279.72 478.07,279.62 478.60,279.30 C479.13,278.98 479.67,278.61 480.20,278.20 C480.73,277.79 481.27,277.38 481.80,276.83 C482.33,276.28 482.87,275.35 483.40,274.89 C483.93,274.43 484.47,274.48 485.00,274.07 C485.53,273.66 486.07,272.99 486.60,272.43 C487.13,271.88 487.67,271.13 488.20,270.73 C488.73,270.33 489.27,270.39 489.80,270.02 C490.33,269.64 490.87,268.88 491.40,268.48 C491.93,268.08 492.47,267.78 493.00,267.64 C493.53,267.51 494.07,267.67 494.60,267.68 C495.13,267.69 495.67,267.72 496.20,267.71 C496.73,267.69 497.27,267.53 497.80,267.59 C498.33,267.65 498.87,267.76 499.40,268.06 C499.93,268.36 500.47,269.07 501.00,269.39 C501.53,269.72 502.07,269.75 502.60,270.01 C503.13,270.27 503.67,270.61 504.20,270.95 C504.73,271.28 505.27,271.40 505.80,272.00 C506.33,272.61 506.87,274.04 507.40,274.58 C507.93,275.12 508.47,274.88 509.00,275.23 C509.53,275.57 510.07,276.03 510.60,276.64 C511.13,277.25 511.67,278.22 512.20,278.89 C512.73,279.55 513.27,280.16 513.80,280.63 C514.33,281.10 514.87,281.25 515.40,281.69 C515.93,282.13 516.47,282.94 517.00,283.25 C517.53,283.57 518.07,283.44 518.60,283.59 C519.13,283.73 519.67,283.97 520.20,284.13 C520.73,284.30 521.27,284.49 521.80,284.56 C522.33,284.62 522.87,284.47 523.40,284.53 C523.93,284.60 524.47,284.77 525.00,284.97 C525.53,285.17 526.07,285.76 526.60,285.74 C527.13,285.71 527.67,284.93 528.20,284.81 C528.73,284.70 529.27,285.04 529.80,285.04 C530.33,285.04 530.87,284.98 531.40,284.83 C531.93,284.68 532.47,284.27 533.00,284.13 C533.53,284.00 534.07,284.11 534.60,284.01 C535.13,283.91 535.67,283.50 536.20,283.53 C536.73,283.55 537.27,283.96 537.80,284.16 C538.33,284.36 538.87,284.50 539.40,284.73 C539.93,284.96 540.47,285.32 541.00,285.51 C541.53,285.70 542.33,285.80 542.60,285.86" fill="none" stroke="#c85068" stroke-width="1.45" stroke-linejoin="round"/></g><rect x="398.10" y="297.20" width="70.00" height="9.60" fill="#ffff00"/><rect x="468.10" y="297.20" width="76.50" height="9.60" fill="#bebebe"/><text x="433.10" y="305.10" font-size="8.20" text-anchor="middle" fill="#000">FP</text><text x="502.90" y="305.10" font-size="8.20" text-anchor="middle" fill="#000">Delay</text><rect x="391.40" y="221.10" width="153.20" height="85.70" fill="none" stroke="#000" stroke-width="1.4"/><line x1="468.10" y1="188.80" x2="468.10" y2="306.80" stroke="#222" stroke-width="1.3" stroke-dasharray="3.4 3.2" stroke-linecap="butt"/><line x1="387.70" y1="225.00" x2="391.40" y2="225.00" stroke="#000" stroke-width="0.8" stroke-linecap="butt"/><text x="384.80" y="227.90" font-size="8.00" text-anchor="end" fill="#000">0.0</text><line x1="387.70" y1="261.20" x2="391.40" y2="261.20" stroke="#000" stroke-width="0.8" stroke-linecap="butt"/><text x="384.80" y="264.10" font-size="8.00" text-anchor="end" fill="#000">−0.5</text><line x1="398.50" y1="306.80" x2="398.50" y2="310.30" stroke="#000" stroke-width="0.8" stroke-linecap="butt"/><text x="398.50" y="320.20" font-size="8.00" text-anchor="middle" fill="#000">−0.5</text><line x1="468.10" y1="306.80" x2="468.10" y2="310.30" stroke="#000" stroke-width="0.8" stroke-linecap="butt"/><text x="468.10" y="320.20" font-size="8.00" text-anchor="middle" fill="#000">0.0</text><line x1="537.70" y1="306.80" x2="537.70" y2="310.30" stroke="#000" stroke-width="0.8" stroke-linecap="butt"/><text x="537.70" y="320.20" font-size="8.00" text-anchor="middle" fill="#000">0.5</text><text x="467.80" y="331.00" font-size="8.20" text-anchor="middle" fill="#000" textLength="107.4" lengthAdjust="spacingAndGlyphs">Time from 1st target onset (s)</text><text x="364.60" y="264.00" font-size="8.00" text-anchor="middle" fill="#000" transform="rotate(-90 364.60 264.00)">Theta power (z−score)</text><text x="292.40" y="211.10" font-size="10.85" text-anchor="middle" fill="#000">Contrasts</text><circle cx="265.50" cy="233.00" r="1.0" fill="#cfcfcf"/><circle cx="267.27" cy="241.60" r="1.0" fill="#cfcfcf"/><circle cx="266.32" cy="248.30" r="1.0" fill="#cfcfcf"/><circle cx="267.46" cy="251.90" r="1.0" fill="#cfcfcf"/><circle cx="264.92" cy="258.00" r="1.0" fill="#cfcfcf"/><circle cx="267.03" cy="263.00" r="1.0" fill="#cfcfcf"/><circle cx="267.62" cy="270.00" r="1.0" fill="#cfcfcf"/><circle cx="266.53" cy="280.60" r="1.0" fill="#cfcfcf"/><circle cx="267.12" cy="281.50" r="1.0" fill="#cfcfcf"/><circle cx="266.73" cy="286.00" r="1.0" fill="#cfcfcf"/><circle cx="265.95" cy="289.60" r="1.0" fill="#cfcfcf"/><circle cx="266.51" cy="293.60" r="1.0" fill="#cfcfcf"/><circle cx="291.30" cy="225.30" r="1.0" fill="#cfcfcf"/><circle cx="291.23" cy="233.90" r="1.0" fill="#cfcfcf"/><circle cx="293.31" cy="244.70" r="1.0" fill="#cfcfcf"/><circle cx="291.80" cy="246.50" r="1.0" fill="#cfcfcf"/><circle cx="293.61" cy="249.20" r="1.0" fill="#cfcfcf"/><circle cx="293.60" cy="256.00" r="1.0" fill="#cfcfcf"/><circle cx="291.98" cy="262.00" r="1.0" fill="#cfcfcf"/><circle cx="291.25" cy="272.50" r="1.0" fill="#cfcfcf"/><circle cx="291.59" cy="278.00" r="1.0" fill="#cfcfcf"/><circle cx="292.47" cy="280.60" r="1.0" fill="#cfcfcf"/><circle cx="291.06" cy="291.80" r="1.0" fill="#cfcfcf"/><circle cx="290.83" cy="304.00" r="1.0" fill="#cfcfcf"/><circle cx="318.48" cy="240.20" r="1.0" fill="#cfcfcf"/><circle cx="318.69" cy="242.00" r="1.0" fill="#cfcfcf"/><circle cx="319.62" cy="247.40" r="1.0" fill="#cfcfcf"/><circle cx="319.35" cy="249.20" r="1.0" fill="#cfcfcf"/><circle cx="319.41" cy="251.00" r="1.0" fill="#cfcfcf"/><circle cx="317.25" cy="257.00" r="1.0" fill="#cfcfcf"/><circle cx="317.92" cy="262.00" r="1.0" fill="#cfcfcf"/><circle cx="318.72" cy="270.80" r="1.0" fill="#cfcfcf"/><circle cx="318.01" cy="272.50" r="1.0" fill="#cfcfcf"/><circle cx="320.02" cy="275.30" r="1.0" fill="#cfcfcf"/><circle cx="317.60" cy="280.60" r="1.0" fill="#cfcfcf"/><circle cx="317.77" cy="283.30" r="1.0" fill="#cfcfcf"/><circle cx="317.64" cy="289.60" r="1.0" fill="#cfcfcf"/><line x1="250.40" y1="253.30" x2="334.30" y2="253.30" stroke="#000" stroke-width="1.1" stroke-dasharray="3 3" stroke-linecap="butt"/><line x1="266.20" y1="256.70" x2="266.20" y2="268.00" stroke="#1f4f96" stroke-width="1.4" stroke-linecap="butt"/><line x1="263.50" y1="256.70" x2="268.90" y2="256.70" stroke="#1f4f96" stroke-width="1.4" stroke-linecap="butt"/><line x1="263.50" y1="268.00" x2="268.90" y2="268.00" stroke="#1f4f96" stroke-width="1.4" stroke-linecap="butt"/><circle cx="266.20" cy="262.30" r="2.6" fill="#fff" stroke="#1f4f96" stroke-width="1.4"/><line x1="292.30" y1="253.30" x2="292.30" y2="266.60" stroke="#e4a83a" stroke-width="1.4" stroke-linecap="butt"/><line x1="289.60" y1="253.30" x2="295.00" y2="253.30" stroke="#e4a83a" stroke-width="1.4" stroke-linecap="butt"/><line x1="289.60" y1="266.60" x2="295.00" y2="266.60" stroke="#e4a83a" stroke-width="1.4" stroke-linecap="butt"/><circle cx="292.30" cy="259.80" r="2.6" fill="#fff" stroke="#e4a83a" stroke-width="1.4"/><line x1="318.70" y1="254.20" x2="318.70" y2="264.80" stroke="#c85068" stroke-width="1.4" stroke-linecap="butt"/><line x1="316.00" y1="254.20" x2="321.40" y2="254.20" stroke="#c85068" stroke-width="1.4" stroke-linecap="butt"/><line x1="316.00" y1="264.80" x2="321.40" y2="264.80" stroke="#c85068" stroke-width="1.4" stroke-linecap="butt"/><circle cx="318.70" cy="259.60" r="2.6" fill="#fff" stroke="#c85068" stroke-width="1.4"/><rect x="250.40" y="221.30" width="83.90" height="85.30" fill="none" stroke="#000" stroke-width="1.4"/><line x1="246.80" y1="236.40" x2="250.40" y2="236.40" stroke="#000" stroke-width="0.8" stroke-linecap="butt"/><text x="244.10" y="239.30" font-size="8.00" text-anchor="end" fill="#000">0.6</text><line x1="246.80" y1="253.30" x2="250.40" y2="253.30" stroke="#000" stroke-width="0.8" stroke-linecap="butt"/><text x="244.10" y="256.20" font-size="8.00" text-anchor="end" fill="#000">0.0</text><line x1="246.80" y1="270.20" x2="250.40" y2="270.20" stroke="#000" stroke-width="0.8" stroke-linecap="butt"/><text x="244.10" y="273.10" font-size="8.00" text-anchor="end" fill="#000">−0.6</text><line x1="246.80" y1="287.10" x2="250.40" y2="287.10" stroke="#000" stroke-width="0.8" stroke-linecap="butt"/><text x="244.10" y="290.00" font-size="8.00" text-anchor="end" fill="#000">−1.2</text><line x1="246.80" y1="304.01" x2="250.40" y2="304.01" stroke="#000" stroke-width="0.8" stroke-linecap="butt"/><text x="244.10" y="306.91" font-size="8.00" text-anchor="end" fill="#000">−1.8</text><line x1="266.20" y1="306.60" x2="266.20" y2="310.10" stroke="#000" stroke-width="0.8" stroke-linecap="butt"/><text x="266.20" y="319.80" font-size="8.00" text-anchor="middle" fill="#000">Spa.</text><line x1="292.30" y1="306.60" x2="292.30" y2="310.10" stroke="#000" stroke-width="0.8" stroke-linecap="butt"/><text x="292.30" y="319.80" font-size="8.00" text-anchor="middle" fill="#000">Temp.</text><line x1="318.70" y1="306.60" x2="318.70" y2="310.10" stroke="#000" stroke-width="0.8" stroke-linecap="butt"/><text x="318.70" y="319.80" font-size="8.00" text-anchor="middle" fill="#000">Syner.</text><text x="223.60" y="263.95" font-size="8.00" text-anchor="middle" fill="#000" transform="rotate(-90 223.60 263.95)">Alpha power (z−score)</text><text x="643.00" y="211.10" font-size="10.85" text-anchor="middle" fill="#000">Contrasts</text><circle cx="618.25" cy="228.00" r="1.0" fill="#cfcfcf"/><circle cx="617.37" cy="232.00" r="1.0" fill="#cfcfcf"/><circle cx="617.29" cy="236.00" r="1.0" fill="#cfcfcf"/><circle cx="618.64" cy="241.00" r="1.0" fill="#cfcfcf"/><circle cx="616.16" cy="243.00" r="1.0" fill="#cfcfcf"/><circle cx="618.47" cy="250.00" r="1.0" fill="#cfcfcf"/><circle cx="616.12" cy="258.00" r="1.0" fill="#cfcfcf"/><circle cx="616.14" cy="266.00" r="1.0" fill="#cfcfcf"/><circle cx="618.82" cy="270.00" r="1.0" fill="#cfcfcf"/><circle cx="618.88" cy="276.00" r="1.0" fill="#cfcfcf"/><circle cx="618.03" cy="280.00" r="1.0" fill="#cfcfcf"/><circle cx="617.84" cy="283.00" r="1.0" fill="#cfcfcf"/><circle cx="643.94" cy="223.00" r="1.0" fill="#cfcfcf"/><circle cx="642.42" cy="228.00" r="1.0" fill="#cfcfcf"/><circle cx="642.30" cy="233.00" r="1.0" fill="#cfcfcf"/><circle cx="644.56" cy="237.00" r="1.0" fill="#cfcfcf"/><circle cx="641.74" cy="241.00" r="1.0" fill="#cfcfcf"/><circle cx="644.12" cy="248.00" r="1.0" fill="#cfcfcf"/><circle cx="644.30" cy="256.00" r="1.0" fill="#cfcfcf"/><circle cx="642.68" cy="262.00" r="1.0" fill="#cfcfcf"/><circle cx="641.59" cy="268.00" r="1.0" fill="#cfcfcf"/><circle cx="643.13" cy="272.00" r="1.0" fill="#cfcfcf"/><circle cx="642.45" cy="286.00" r="1.0" fill="#cfcfcf"/><circle cx="670.42" cy="226.00" r="1.0" fill="#cfcfcf"/><circle cx="669.83" cy="231.00" r="1.0" fill="#cfcfcf"/><circle cx="669.61" cy="236.00" r="1.0" fill="#cfcfcf"/><circle cx="670.13" cy="239.00" r="1.0" fill="#cfcfcf"/><circle cx="669.58" cy="243.00" r="1.0" fill="#cfcfcf"/><circle cx="667.96" cy="250.00" r="1.0" fill="#cfcfcf"/><circle cx="667.65" cy="257.00" r="1.0" fill="#cfcfcf"/><circle cx="669.67" cy="266.00" r="1.0" fill="#cfcfcf"/><circle cx="668.45" cy="272.00" r="1.0" fill="#cfcfcf"/><circle cx="667.91" cy="279.00" r="1.0" fill="#cfcfcf"/><circle cx="670.62" cy="290.00" r="1.0" fill="#cfcfcf"/><line x1="601.80" y1="245.60" x2="684.00" y2="245.60" stroke="#000" stroke-width="1.1" stroke-dasharray="3 3" stroke-linecap="butt"/><line x1="617.40" y1="248.20" x2="617.40" y2="262.40" stroke="#1f4f96" stroke-width="1.4" stroke-linecap="butt"/><line x1="614.70" y1="248.20" x2="620.10" y2="248.20" stroke="#1f4f96" stroke-width="1.4" stroke-linecap="butt"/><line x1="614.70" y1="262.40" x2="620.10" y2="262.40" stroke="#1f4f96" stroke-width="1.4" stroke-linecap="butt"/><circle cx="617.40" cy="255.30" r="2.6" fill="#fff" stroke="#1f4f96" stroke-width="1.4"/><line x1="643.00" y1="245.90" x2="643.00" y2="257.30" stroke="#e4a83a" stroke-width="1.4" stroke-linecap="butt"/><line x1="640.30" y1="245.90" x2="645.70" y2="245.90" stroke="#e4a83a" stroke-width="1.4" stroke-linecap="butt"/><line x1="640.30" y1="257.30" x2="645.70" y2="257.30" stroke="#e4a83a" stroke-width="1.4" stroke-linecap="butt"/><circle cx="643.00" cy="251.60" r="2.6" fill="#fff" stroke="#e4a83a" stroke-width="1.4"/><line x1="669.10" y1="249.00" x2="669.10" y2="262.40" stroke="#c85068" stroke-width="1.4" stroke-linecap="butt"/><line x1="666.40" y1="249.00" x2="671.80" y2="249.00" stroke="#c85068" stroke-width="1.4" stroke-linecap="butt"/><line x1="666.40" y1="262.40" x2="671.80" y2="262.40" stroke="#c85068" stroke-width="1.4" stroke-linecap="butt"/><circle cx="669.10" cy="255.30" r="2.6" fill="#fff" stroke="#c85068" stroke-width="1.4"/><rect x="601.80" y="221.60" width="82.20" height="84.80" fill="none" stroke="#000" stroke-width="1.4"/><line x1="598.20" y1="229.08" x2="601.80" y2="229.08" stroke="#000" stroke-width="0.8" stroke-linecap="butt"/><text x="595.50" y="231.98" font-size="8.00" text-anchor="end" fill="#000">0.4</text><line x1="598.20" y1="245.60" x2="601.80" y2="245.60" stroke="#000" stroke-width="0.8" stroke-linecap="butt"/><text x="595.50" y="248.50" font-size="8.00" text-anchor="end" fill="#000">0.0</text><line x1="598.20" y1="262.12" x2="601.80" y2="262.12" stroke="#000" stroke-width="0.8" stroke-linecap="butt"/><text x="595.50" y="265.02" font-size="8.00" text-anchor="end" fill="#000">−0.4</text><line x1="598.20" y1="278.64" x2="601.80" y2="278.64" stroke="#000" stroke-width="0.8" stroke-linecap="butt"/><text x="595.50" y="281.54" font-size="8.00" text-anchor="end" fill="#000">−0.8</text><line x1="598.20" y1="295.16" x2="601.80" y2="295.16" stroke="#000" stroke-width="0.8" stroke-linecap="butt"/><text x="595.50" y="298.06" font-size="8.00" text-anchor="end" fill="#000">−1.2</text><line x1="617.40" y1="306.40" x2="617.40" y2="309.90" stroke="#000" stroke-width="0.8" stroke-linecap="butt"/><text x="617.40" y="319.80" font-size="8.00" text-anchor="middle" fill="#000">Spa.</text><line x1="643.00" y1="306.40" x2="643.00" y2="309.90" stroke="#000" stroke-width="0.8" stroke-linecap="butt"/><text x="643.00" y="319.80" font-size="8.00" text-anchor="middle" fill="#000">Temp.</text><line x1="669.10" y1="306.40" x2="669.10" y2="309.90" stroke="#000" stroke-width="0.8" stroke-linecap="butt"/><text x="669.10" y="319.80" font-size="8.00" text-anchor="middle" fill="#000">Syner.</text><text x="574.90" y="264.00" font-size="8.00" text-anchor="middle" fill="#000" transform="rotate(-90 574.90 264.00)">Theta power (z−score)</text><text x="166.70" y="356.40" font-size="10.85" text-anchor="middle" fill="#000" textLength="101.8" lengthAdjust="spacingAndGlyphs">Spatial − Neutral cue</text><path d="M136.90,370.10 L142.80,364.30 L148.70,370.10" fill="#fff" stroke="#000" stroke-width="0.9" stroke-linejoin="miter"/><path d="M112.90,395.20 L110.50,395.20 Q109.10,395.20 109.10,397.10 L109.10,406.70 Q109.10,408.60 110.50,408.60 L112.90,408.60" fill="#fff" stroke="#000" stroke-width="0.8"/><path d="M173.30,395.20 L175.70,395.20 Q177.10,395.20 177.10,397.10 L177.10,406.70 Q177.10,408.60 175.70,408.60 L173.30,408.60" fill="#fff" stroke="#000" stroke-width="0.8"/><circle cx="143.10" cy="400.10" r="30.60" fill="none" stroke="#000" stroke-width="0.9"/><circle cx="137.00" cy="415.20" r="1.25" fill="#fff" stroke="#333" stroke-width="0.45"/><circle cx="143.20" cy="415.20" r="1.25" fill="#fff" stroke="#333" stroke-width="0.45"/><circle cx="149.10" cy="415.20" r="1.25" fill="#fff" stroke="#333" stroke-width="0.45"/><circle cx="133.70" cy="420.10" r="1.25" fill="#fff" stroke="#333" stroke-width="0.45"/><circle cx="143.20" cy="421.10" r="1.25" fill="#fff" stroke="#333" stroke-width="0.45"/><circle cx="152.30" cy="420.10" r="1.25" fill="#fff" stroke="#333" stroke-width="0.45"/><rect x="208.20" y="383.10" width="2.90" height="39.20" fill="url(#topov)"/><line x1="211.10" y1="383.10" x2="213.20" y2="383.10" stroke="#555" stroke-width="0.7" stroke-linecap="butt"/><line x1="211.10" y1="402.70" x2="213.20" y2="402.70" stroke="#555" stroke-width="0.7" stroke-linecap="butt"/><line x1="211.10" y1="422.30" x2="213.20" y2="422.30" stroke="#555" stroke-width="0.7" stroke-linecap="butt"/><text x="216.00" y="385.80" font-size="7.40" text-anchor="start" fill="#000">3</text><text x="216.00" y="405.40" font-size="7.40" text-anchor="start" fill="#000">0</text><text x="216.00" y="425.00" font-size="7.40" text-anchor="start" fill="#000">−3</text><text x="189.70" y="400.70" font-size="7.50" text-anchor="middle" fill="#000" transform="rotate(-90 189.70 400.70)" textLength="48.3" lengthAdjust="spacingAndGlyphs"><tspan font-style="italic">α</tspan>-band power</text><text x="198.30" y="401.00" font-size="7.50" text-anchor="middle" fill="#000" transform="rotate(-90 198.30 401.00)" textLength="29.7" lengthAdjust="spacingAndGlyphs">(z-score)</text><text x="377.10" y="356.40" font-size="10.85" text-anchor="middle" fill="#000" textLength="112.4" lengthAdjust="spacingAndGlyphs">Temporal − Neutral cue</text><path d="M347.30,370.10 L353.20,364.30 L359.10,370.10" fill="#fff" stroke="#000" stroke-width="0.9" stroke-linejoin="miter"/><path d="M323.30,395.20 L320.90,395.20 Q319.50,395.20 319.50,397.10 L319.50,406.70 Q319.50,408.60 320.90,408.60 L323.30,408.60" fill="#fff" stroke="#000" stroke-width="0.8"/><path d="M383.70,395.20 L386.10,395.20 Q387.50,395.20 387.50,397.10 L387.50,406.70 Q387.50,408.60 386.10,408.60 L383.70,408.60" fill="#fff" stroke="#000" stroke-width="0.8"/><circle cx="353.50" cy="400.10" r="30.60" fill="none" stroke="#000" stroke-width="0.9"/><circle cx="347.40" cy="415.20" r="1.25" fill="#fff" stroke="#333" stroke-width="0.45"/><circle cx="353.60" cy="415.20" r="1.25" fill="#fff" stroke="#333" stroke-width="0.45"/><circle cx="359.50" cy="415.20" r="1.25" fill="#fff" stroke="#333" stroke-width="0.45"/><circle cx="344.10" cy="420.10" r="1.25" fill="#fff" stroke="#333" stroke-width="0.45"/><circle cx="353.60" cy="421.10" r="1.25" fill="#fff" stroke="#333" stroke-width="0.45"/><circle cx="362.70" cy="420.10" r="1.25" fill="#fff" stroke="#333" stroke-width="0.45"/><rect x="418.60" y="383.10" width="2.90" height="39.20" fill="url(#topov)"/><line x1="421.50" y1="383.10" x2="423.60" y2="383.10" stroke="#555" stroke-width="0.7" stroke-linecap="butt"/><line x1="421.50" y1="402.70" x2="423.60" y2="402.70" stroke="#555" stroke-width="0.7" stroke-linecap="butt"/><line x1="421.50" y1="422.30" x2="423.60" y2="422.30" stroke="#555" stroke-width="0.7" stroke-linecap="butt"/><text x="426.40" y="385.80" font-size="7.40" text-anchor="start" fill="#000">3</text><text x="426.40" y="405.40" font-size="7.40" text-anchor="start" fill="#000">0</text><text x="426.40" y="425.00" font-size="7.40" text-anchor="start" fill="#000">−3</text><text x="400.10" y="400.70" font-size="7.50" text-anchor="middle" fill="#000" transform="rotate(-90 400.10 400.70)" textLength="48.3" lengthAdjust="spacingAndGlyphs"><tspan font-style="italic">α</tspan>-band power</text><text x="408.70" y="401.00" font-size="7.50" text-anchor="middle" fill="#000" transform="rotate(-90 408.70 401.00)" textLength="29.7" lengthAdjust="spacingAndGlyphs">(z-score)</text><text x="587.10" y="356.40" font-size="10.85" text-anchor="middle" fill="#000" textLength="141.3" lengthAdjust="spacingAndGlyphs">Spatiotemporal − Neutral cue</text><path d="M557.30,370.10 L563.20,364.30 L569.10,370.10" fill="#fff" stroke="#000" stroke-width="0.9" stroke-linejoin="miter"/><path d="M533.30,395.20 L530.90,395.20 Q529.50,395.20 529.50,397.10 L529.50,406.70 Q529.50,408.60 530.90,408.60 L533.30,408.60" fill="#fff" stroke="#000" stroke-width="0.8"/><path d="M593.70,395.20 L596.10,395.20 Q597.50,395.20 597.50,397.10 L597.50,406.70 Q597.50,408.60 596.10,408.60 L593.70,408.60" fill="#fff" stroke="#000" stroke-width="0.8"/><circle cx="563.50" cy="400.10" r="30.60" fill="none" stroke="#000" stroke-width="0.9"/><circle cx="557.40" cy="415.20" r="1.25" fill="#fff" stroke="#333" stroke-width="0.45"/><circle cx="563.60" cy="415.20" r="1.25" fill="#fff" stroke="#333" stroke-width="0.45"/><circle cx="569.50" cy="415.20" r="1.25" fill="#fff" stroke="#333" stroke-width="0.45"/><circle cx="554.10" cy="420.10" r="1.25" fill="#fff" stroke="#333" stroke-width="0.45"/><circle cx="563.60" cy="421.10" r="1.25" fill="#fff" stroke="#333" stroke-width="0.45"/><circle cx="572.70" cy="420.10" r="1.25" fill="#fff" stroke="#333" stroke-width="0.45"/><rect x="628.60" y="383.10" width="2.90" height="39.20" fill="url(#topov)"/><line x1="631.50" y1="383.10" x2="633.60" y2="383.10" stroke="#555" stroke-width="0.7" stroke-linecap="butt"/><line x1="631.50" y1="402.70" x2="633.60" y2="402.70" stroke="#555" stroke-width="0.7" stroke-linecap="butt"/><line x1="631.50" y1="422.30" x2="633.60" y2="422.30" stroke="#555" stroke-width="0.7" stroke-linecap="butt"/><text x="636.40" y="385.80" font-size="7.40" text-anchor="start" fill="#000">3</text><text x="636.40" y="405.40" font-size="7.40" text-anchor="start" fill="#000">0</text><text x="636.40" y="425.00" font-size="7.40" text-anchor="start" fill="#000">−3</text><text x="610.10" y="400.70" font-size="7.50" text-anchor="middle" fill="#000" transform="rotate(-90 610.10 400.70)" textLength="48.3" lengthAdjust="spacingAndGlyphs"><tspan font-style="italic">α</tspan>-band power</text><text x="618.70" y="401.00" font-size="7.50" text-anchor="middle" fill="#000" transform="rotate(-90 618.70 401.00)" textLength="29.7" lengthAdjust="spacingAndGlyphs">(z-score)</text><text x="166.70" y="452.60" font-size="10.85" text-anchor="middle" fill="#000" textLength="101.8" lengthAdjust="spacingAndGlyphs">Spatial − Neutral cue</text><path d="M136.90,466.30 L142.80,460.50 L148.70,466.30" fill="#fff" stroke="#000" stroke-width="0.9" stroke-linejoin="miter"/><path d="M112.90,491.40 L110.50,491.40 Q109.10,491.40 109.10,493.30 L109.10,502.90 Q109.10,504.80 110.50,504.80 L112.90,504.80" fill="#fff" stroke="#000" stroke-width="0.8"/><path d="M173.30,491.40 L175.70,491.40 Q177.10,491.40 177.10,493.30 L177.10,502.90 Q177.10,504.80 175.70,504.80 L173.30,504.80" fill="#fff" stroke="#000" stroke-width="0.8"/><circle cx="143.10" cy="496.30" r="30.60" fill="none" stroke="#000" stroke-width="0.9"/><circle cx="137.00" cy="511.40" r="1.25" fill="#fff" stroke="#333" stroke-width="0.45"/><circle cx="143.20" cy="511.40" r="1.25" fill="#fff" stroke="#333" stroke-width="0.45"/><circle cx="149.10" cy="511.40" r="1.25" fill="#fff" stroke="#333" stroke-width="0.45"/><circle cx="133.70" cy="516.30" r="1.25" fill="#fff" stroke="#333" stroke-width="0.45"/><circle cx="143.20" cy="517.30" r="1.25" fill="#fff" stroke="#333" stroke-width="0.45"/><circle cx="152.30" cy="516.30" r="1.25" fill="#fff" stroke="#333" stroke-width="0.45"/><rect x="208.20" y="479.30" width="2.90" height="39.20" fill="url(#topov)"/><line x1="211.10" y1="479.30" x2="213.20" y2="479.30" stroke="#555" stroke-width="0.7" stroke-linecap="butt"/><line x1="211.10" y1="498.90" x2="213.20" y2="498.90" stroke="#555" stroke-width="0.7" stroke-linecap="butt"/><line x1="211.10" y1="518.50" x2="213.20" y2="518.50" stroke="#555" stroke-width="0.7" stroke-linecap="butt"/><text x="216.00" y="482.00" font-size="7.40" text-anchor="start" fill="#000">3</text><text x="216.00" y="501.60" font-size="7.40" text-anchor="start" fill="#000">0</text><text x="216.00" y="521.20" font-size="7.40" text-anchor="start" fill="#000">−3</text><text x="189.70" y="496.90" font-size="7.50" text-anchor="middle" fill="#000" transform="rotate(-90 189.70 496.90)" textLength="48.3" lengthAdjust="spacingAndGlyphs"><tspan font-style="italic">θ</tspan>-band power</text><text x="198.30" y="497.20" font-size="7.50" text-anchor="middle" fill="#000" transform="rotate(-90 198.30 497.20)" textLength="29.7" lengthAdjust="spacingAndGlyphs">(z-score)</text><text x="377.10" y="452.60" font-size="10.85" text-anchor="middle" fill="#000" textLength="112.4" lengthAdjust="spacingAndGlyphs">Temporal − Neutral cue</text><path d="M347.30,466.30 L353.20,460.50 L359.10,466.30" fill="#fff" stroke="#000" stroke-width="0.9" stroke-linejoin="miter"/><path d="M323.30,491.40 L320.90,491.40 Q319.50,491.40 319.50,493.30 L319.50,502.90 Q319.50,504.80 320.90,504.80 L323.30,504.80" fill="#fff" stroke="#000" stroke-width="0.8"/><path d="M383.70,491.40 L386.10,491.40 Q387.50,491.40 387.50,493.30 L387.50,502.90 Q387.50,504.80 386.10,504.80 L383.70,504.80" fill="#fff" stroke="#000" stroke-width="0.8"/><circle cx="353.50" cy="496.30" r="30.60" fill="none" stroke="#000" stroke-width="0.9"/><circle cx="347.40" cy="511.40" r="1.25" fill="#fff" stroke="#333" stroke-width="0.45"/><circle cx="353.60" cy="511.40" r="1.25" fill="#fff" stroke="#333" stroke-width="0.45"/><circle cx="359.50" cy="511.40" r="1.25" fill="#fff" stroke="#333" stroke-width="0.45"/><circle cx="344.10" cy="516.30" r="1.25" fill="#fff" stroke="#333" stroke-width="0.45"/><circle cx="353.60" cy="517.30" r="1.25" fill="#fff" stroke="#333" stroke-width="0.45"/><circle cx="362.70" cy="516.30" r="1.25" fill="#fff" stroke="#333" stroke-width="0.45"/><rect x="418.60" y="479.30" width="2.90" height="39.20" fill="url(#topov)"/><line x1="421.50" y1="479.30" x2="423.60" y2="479.30" stroke="#555" stroke-width="0.7" stroke-linecap="butt"/><line x1="421.50" y1="498.90" x2="423.60" y2="498.90" stroke="#555" stroke-width="0.7" stroke-linecap="butt"/><line x1="421.50" y1="518.50" x2="423.60" y2="518.50" stroke="#555" stroke-width="0.7" stroke-linecap="butt"/><text x="426.40" y="482.00" font-size="7.40" text-anchor="start" fill="#000">3</text><text x="426.40" y="501.60" font-size="7.40" text-anchor="start" fill="#000">0</text><text x="426.40" y="521.20" font-size="7.40" text-anchor="start" fill="#000">−3</text><text x="400.10" y="496.90" font-size="7.50" text-anchor="middle" fill="#000" transform="rotate(-90 400.10 496.90)" textLength="48.3" lengthAdjust="spacingAndGlyphs"><tspan font-style="italic">θ</tspan>-band power</text><text x="408.70" y="497.20" font-size="7.50" text-anchor="middle" fill="#000" transform="rotate(-90 408.70 497.20)" textLength="29.7" lengthAdjust="spacingAndGlyphs">(z-score)</text><text x="587.10" y="452.60" font-size="10.85" text-anchor="middle" fill="#000" textLength="141.3" lengthAdjust="spacingAndGlyphs">Spatiotemporal − Neutral cue</text><path d="M557.30,466.30 L563.20,460.50 L569.10,466.30" fill="#fff" stroke="#000" stroke-width="0.9" stroke-linejoin="miter"/><path d="M533.30,491.40 L530.90,491.40 Q529.50,491.40 529.50,493.30 L529.50,502.90 Q529.50,504.80 530.90,504.80 L533.30,504.80" fill="#fff" stroke="#000" stroke-width="0.8"/><path d="M593.70,491.40 L596.10,491.40 Q597.50,491.40 597.50,493.30 L597.50,502.90 Q597.50,504.80 596.10,504.80 L593.70,504.80" fill="#fff" stroke="#000" stroke-width="0.8"/><circle cx="563.50" cy="496.30" r="30.60" fill="none" stroke="#000" stroke-width="0.9"/><circle cx="557.40" cy="511.40" r="1.25" fill="#fff" stroke="#333" stroke-width="0.45"/><circle cx="563.60" cy="511.40" r="1.25" fill="#fff" stroke="#333" stroke-width="0.45"/><circle cx="569.50" cy="511.40" r="1.25" fill="#fff" stroke="#333" stroke-width="0.45"/><circle cx="554.10" cy="516.30" r="1.25" fill="#fff" stroke="#333" stroke-width="0.45"/><circle cx="563.60" cy="517.30" r="1.25" fill="#fff" stroke="#333" stroke-width="0.45"/><circle cx="572.70" cy="516.30" r="1.25" fill="#fff" stroke="#333" stroke-width="0.45"/><rect x="628.60" y="479.30" width="2.90" height="39.20" fill="url(#topov)"/><line x1="631.50" y1="479.30" x2="633.60" y2="479.30" stroke="#555" stroke-width="0.7" stroke-linecap="butt"/><line x1="631.50" y1="498.90" x2="633.60" y2="498.90" stroke="#555" stroke-width="0.7" stroke-linecap="butt"/><line x1="631.50" y1="518.50" x2="633.60" y2="518.50" stroke="#555" stroke-width="0.7" stroke-linecap="butt"/><text x="636.40" y="482.00" font-size="7.40" text-anchor="start" fill="#000">3</text><text x="636.40" y="501.60" font-size="7.40" text-anchor="start" fill="#000">0</text><text x="636.40" y="521.20" font-size="7.40" text-anchor="start" fill="#000">−3</text><text x="610.10" y="496.90" font-size="7.50" text-anchor="middle" fill="#000" transform="rotate(-90 610.10 496.90)" textLength="48.3" lengthAdjust="spacingAndGlyphs"><tspan font-style="italic">θ</tspan>-band power</text><text x="618.70" y="497.20" font-size="7.50" text-anchor="middle" fill="#000" transform="rotate(-90 618.70 497.20)" textLength="29.7" lengthAdjust="spacingAndGlyphs">(z-score)</text></svg></div></body></html>
